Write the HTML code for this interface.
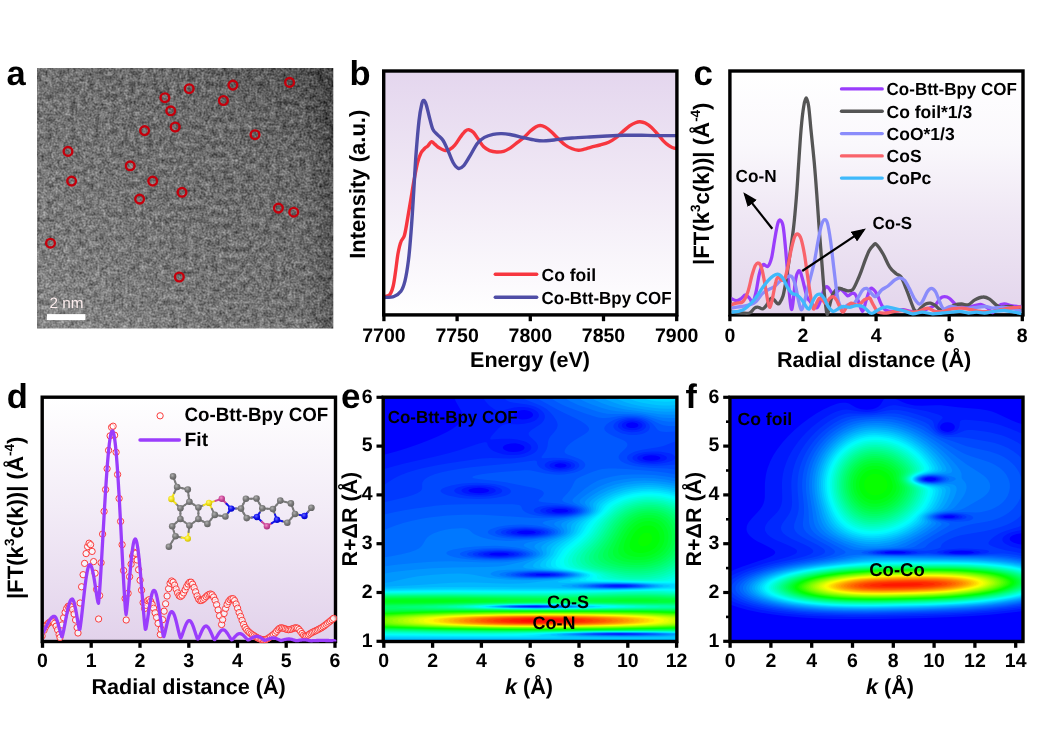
<!DOCTYPE html>
<html lang="en"><head><meta charset="utf-8"><title>Co-Btt-Bpy COF characterization</title>
<style>html,body{margin:0;padding:0;background:#fff}body{width:1038px;height:733px;overflow:hidden}svg{display:block}</style>
</head><body>
<svg width="1038" height="733" viewBox="0 0 1038 733" font-family='"Liberation Sans", sans-serif' text-rendering="geometricPrecision">
<rect width="1038" height="733" fill="#fff"/>
<g id="pa">
<defs><filter id="noise" x="0" y="0" width="100%" height="100%" color-interpolation-filters="sRGB"><feTurbulence type="fractalNoise" baseFrequency="0.5" numOctaves="2" seed="3" result="t1"/><feColorMatrix in="t1" type="matrix" values="0.44 0 0 0 -0.02  0.44 0 0 0 -0.02  0.44 0 0 0 -0.02  0 0 0 0 1" result="g1"/><feTurbulence type="fractalNoise" baseFrequency="0.17" numOctaves="3" seed="11" result="t2"/><feColorMatrix in="t2" type="matrix" values="0.36 0 0 0 0.02  0.36 0 0 0 0.02  0.36 0 0 0 0.02  0 0 0 0 1" result="g2"/><feComposite in="g1" in2="g2" operator="arithmetic" k1="0" k2="1" k3="1" k4="0" result="n0"/><feGaussianBlur in="n0" stdDeviation="0.5" result="n"/><feComposite in="n" in2="SourceGraphic" operator="arithmetic" k1="0" k2="1" k3="1" k4="-0.4"/></filter><linearGradient id="ga" x1="0" y1="1" x2="1" y2="0"><stop offset="0" stop-color="#868686"/><stop offset="0.4" stop-color="#747474"/><stop offset="0.75" stop-color="#686868"/><stop offset="1" stop-color="#4c4c4c"/></linearGradient><linearGradient id="ga2" x1="0" y1="0" x2="1" y2="0"><stop offset="0.9" stop-color="#000" stop-opacity="0"/><stop offset="1" stop-color="#000" stop-opacity="0.22"/></linearGradient><clipPath id="ca"><rect x="37" y="68" width="296.3" height="260.6"/></clipPath></defs>
<g clip-path="url(#ca)"><g filter="url(#noise)"><rect x="35" y="66" width="300.3" height="264.6" fill="url(#ga)"/><rect x="35" y="66" width="300.3" height="264.6" fill="url(#ga2)"/></g></g>
<g fill="none" stroke="#c4000c" stroke-width="2.4"><circle cx="289.6" cy="82.4" r="4.35"/><circle cx="232.9" cy="85.1" r="4.35"/><circle cx="189.2" cy="88.7" r="4.35"/><circle cx="164.9" cy="97.7" r="4.35"/><circle cx="223.4" cy="100.5" r="4.35"/><circle cx="170.7" cy="110.8" r="4.35"/><circle cx="175.2" cy="127" r="4.35"/><circle cx="144.6" cy="130.6" r="4.35"/><circle cx="255" cy="134.7" r="4.35"/><circle cx="68" cy="151.4" r="4.35"/><circle cx="130.2" cy="165.8" r="4.35"/><circle cx="71.6" cy="181.1" r="4.35"/><circle cx="152.7" cy="181.1" r="4.35"/><circle cx="182" cy="192.3" r="4.35"/><circle cx="139.6" cy="199.1" r="4.35"/><circle cx="278.4" cy="208.1" r="4.35"/><circle cx="293.7" cy="212.2" r="4.35"/><circle cx="50.5" cy="243.2" r="4.35"/><circle cx="179.3" cy="277" r="4.35"/></g>
<rect x="47" y="314.1" width="38.4" height="6" fill="#fff"/>
<text x="49.4" y="307.9" font-size="15" font-weight="normal" text-anchor="start" fill="#fdeeee" textLength="34" lengthAdjust="spacingAndGlyphs">2 nm</text>
<text x="6.6" y="85.2" font-size="34.5" font-weight="bold" text-anchor="start" fill="#000">a</text>
</g>
<g id="pb">
<defs><linearGradient id="gb" x1="0" y1="0" x2="0" y2="1"><stop offset="0" stop-color="#e4d6ee"/><stop offset="0.45" stop-color="#f0e8f5"/><stop offset="1" stop-color="#ffffff"/></linearGradient></defs>
<rect x="383.7" y="71" width="293.2" height="243.9" fill="url(#gb)"/>
<g fill="none" stroke-width="3.4" stroke-linecap="round" stroke-linejoin="round">
<path d="M384.2 296.5C385.1 296.2 388.2 296.4 389.7 294.7C391.2 292.9 392.2 290.1 393.2 286C394.2 281.9 394.9 275.9 395.7 270.4C396.5 264.9 397.2 257.8 398.1 253C399 248.2 399.8 244.7 400.9 241.8C401.9 238.9 403.4 238.9 404.4 235.5C405.4 232.1 406.1 227.4 407.1 221.6C408.1 215.8 409.4 207.6 410.6 200.7C411.8 193.8 412.9 186.3 414.1 179.9C415.3 173.5 416.4 167 417.6 162.5C418.8 158 419.9 155 421.1 152.7C422.3 150.4 423.5 149.7 424.6 148.5C425.8 147.3 426.9 147 428 145.8C429.1 144.7 430.3 141.8 431.5 141.6C432.7 141.4 433.7 143.4 435 144.4C436.3 145.4 437.6 146.8 439.2 147.8C440.8 148.8 442.7 150 444.4 150.3C446.1 150.6 447.9 150.5 449.6 149.6C451.3 148.7 453.1 147.1 454.8 145.1C456.6 143.1 458.4 139.7 460.1 137.4C461.9 135.1 463.9 132.4 465.3 131.1C466.8 129.8 467.5 129.5 468.8 129.7C470.1 129.9 471.7 130.6 473.3 132.2C474.9 133.8 476.5 136.7 478.2 139.1C479.9 141.5 481.8 144.9 483.7 146.8C485.6 148.7 487.5 149.7 489.6 150.6C491.8 151.5 494.3 151.9 496.6 152C498.9 152.1 501.3 152 503.6 151.3C505.9 150.6 508.2 149.3 510.5 147.8C512.8 146.3 515.2 144.1 517.5 142.3C519.8 140.5 522.4 138.9 524.5 137C526.6 135.1 528.5 132.8 530.4 131.1C532.3 129.4 534.1 127.8 535.7 126.9C537.3 126 538.7 125.5 540.2 125.5C541.8 125.5 543.1 125.9 545 126.9C546.9 128 549.1 129.8 551.3 131.8C553.5 133.8 556 136.5 558.3 138.7C560.6 140.9 562.9 143.3 565.2 145C567.5 146.7 570 147.9 572.2 148.8C574.4 149.7 576.4 150.1 578.4 150.2C580.4 150.3 582.1 149.7 584.3 149.2C586.4 148.7 588.7 147.8 591.3 147.1C593.9 146.4 597.1 145.8 600 145C602.9 144.2 606.1 143.4 608.7 142.2C611.3 141 613.4 139.7 615.7 138C618 136.3 620.3 133.8 622.6 131.8C624.9 129.8 627.5 127.4 629.6 125.9C631.8 124.4 633.8 123.4 635.5 122.7C637.2 122 638.4 121.6 640 121.7C641.6 121.8 643.3 122.1 645.2 123.1C647.1 124.1 649.5 125.8 651.5 127.6C653.5 129.4 655.4 131.7 657.4 133.9C659.4 136.1 661.4 138.8 663.3 140.8C665.2 142.8 667.3 144.5 668.9 145.7C670.5 146.9 671.9 147.3 673 147.8C674.1 148.3 675.3 148.4 675.8 148.5" stroke="#f7363f"/>
<path d="M384.2 297.5C385.8 297.3 391.1 297.6 393.9 296.5C396.7 295.4 399 293.8 400.9 291.2C402.8 288.6 403.7 286 405 280.8C406.3 275.6 407.4 268.6 408.5 259.9C409.6 251.2 410.4 240.2 411.3 228.6C412.2 217 413 203.1 413.8 190.3C414.6 177.5 415.3 163.6 416.2 152C417.1 140.4 418.1 128.7 419 120.7C419.9 112.7 421 107.4 421.8 104C422.6 100.6 423.1 100.3 423.9 100.5C424.6 100.7 425.4 102.2 426.3 105C427.2 107.8 428.3 113.1 429.4 117.2C430.5 121.3 431.6 126.5 432.9 129.4C434.2 132.3 435.8 132.9 437.4 134.6C439 136.3 440.9 137.2 442.6 139.8C444.4 142.4 446.1 146.5 447.9 150.3C449.6 154.1 451.4 159.5 453.1 162.5C454.8 165.5 456.6 167.8 458.3 168.4C460 169 461.6 167.9 463.5 165.9C465.4 163.9 467.5 160 469.8 156.2C472.1 152.4 475.1 146.4 477.5 143.3C479.9 140.2 481.8 138.9 484.4 137.4C487 135.9 490.2 134.9 493.1 134.3C496 133.7 498.6 133.5 501.8 133.6C505 133.7 508.8 134.3 512.3 135C515.8 135.7 518.8 136.6 522.7 137.5C526.6 138.4 531.8 139.8 535.7 140.3C539.6 140.9 542.3 141 546.1 140.8C549.9 140.7 553.9 139.9 558.3 139.4C562.6 138.9 567 138.4 572.2 138C577.4 137.6 583.8 137.3 589.6 137C595.4 136.7 601.2 136.3 607 136C612.8 135.7 618.5 135.4 624.3 135.3C630.1 135.2 635.9 135.2 641.7 135.3C647.5 135.4 653.4 135.6 659.1 135.6C664.8 135.6 673 135.6 675.8 135.6" stroke="#4f4da6"/>
<path d="M495.3 274.2H536.7" stroke="#f7363f"/>
<path d="M495.3 297.2H536.7" stroke="#4f4da6"/>
</g>
<text x="541.6" y="280.9" font-size="17.5" font-weight="bold" text-anchor="start" fill="#000">Co foil</text>
<text x="541.6" y="303.9" font-size="17.5" font-weight="bold" text-anchor="start" fill="#000" textLength="130" lengthAdjust="spacingAndGlyphs">Co-Btt-Bpy COF</text>
<rect x="383.7" y="71" width="293.2" height="243.9" fill="none" stroke="#000" stroke-width="3.4"/>
<g stroke="#000" stroke-width="3.3"><line x1="383.9" y1="314.9" x2="383.9" y2="321.2"/><line x1="457.1" y1="314.9" x2="457.1" y2="321.2"/><line x1="530.3" y1="314.9" x2="530.3" y2="321.2"/><line x1="603.5" y1="314.9" x2="603.5" y2="321.2"/><line x1="676.7" y1="314.9" x2="676.7" y2="321.2"/></g>
<text x="383.9" y="341.8" font-size="19.5" font-weight="bold" text-anchor="middle" fill="#000">7700</text>
<text x="457.1" y="341.8" font-size="19.5" font-weight="bold" text-anchor="middle" fill="#000">7750</text>
<text x="530.3" y="341.8" font-size="19.5" font-weight="bold" text-anchor="middle" fill="#000">7800</text>
<text x="603.5" y="341.8" font-size="19.5" font-weight="bold" text-anchor="middle" fill="#000">7850</text>
<text x="676.7" y="341.8" font-size="19.5" font-weight="bold" text-anchor="middle" fill="#000">7900</text>
<text x="530" y="367.2" font-size="21.6" font-weight="bold" text-anchor="middle" fill="#000">Energy (eV)</text>
<text x="364.6" y="184.3" font-size="22" font-weight="bold" text-anchor="middle" fill="#000" transform="rotate(-90 364.6 184.3)">Intensity (a.u.)</text>
<text x="349.5" y="84.8" font-size="34.5" font-weight="bold" text-anchor="start" fill="#000">b</text>
</g>
<g id="pc">
<defs><linearGradient id="gc" x1="0" y1="0" x2="0" y2="1"><stop offset="0" stop-color="#ffffff"/><stop offset="0.3" stop-color="#faf8fc"/><stop offset="0.6" stop-color="#efe7f4"/><stop offset="1" stop-color="#e3d5ec"/></linearGradient><clipPath id="cc"><rect x="731.6" y="71" width="289.7" height="244.9"/></clipPath><marker id="ah" viewBox="0 0 10 8" refX="8" refY="4" markerWidth="14.5" markerHeight="11.6" markerUnits="userSpaceOnUse" orient="auto"><path d="M0 0L10 4L0 8z" fill="#000"/></marker></defs>
<rect x="729.9" y="71" width="293.1" height="243.9" fill="url(#gc)"/>
<rect x="729.9" y="71" width="293.1" height="243.9" fill="none" stroke="#000" stroke-width="3.4"/>
<g fill="none" stroke-width="3.3" stroke-linecap="round" stroke-linejoin="round" clip-path="url(#cc)">
<path d="M730.7 298.3C731.7 298.7 734.7 300.7 736.5 300.7C738.2 300.7 739.9 299.2 741.4 298.3C742.9 297.3 744.1 295 745.5 295C746.8 295 748.3 297 749.6 298.3C750.8 299.5 751.7 303.5 752.8 302.4C753.9 301.3 755 296.5 756.1 291.7C757.2 286.9 758.2 278.2 759.4 273.7C760.5 269.2 761.6 265.9 763 264.7C764.4 263.5 766.5 267.6 767.9 266.3C769.4 265.1 770.5 262.1 771.7 257.3C772.8 252.5 773.9 243.5 775 237.7C776 231.8 777.3 225 778.2 222.1C779.2 219.2 779.9 219.8 780.7 220.5C781.5 221.2 782.3 221.4 783.1 226.2C784 231 784.8 240.4 785.6 249.1C786.4 257.9 787.3 269.9 788.1 278.6C788.8 287.3 789.6 296.4 790.2 301.5C790.8 306.7 791.3 309.9 791.8 309.4C792.4 308.9 792.8 303.4 793.5 298.3C794.1 293.1 794.9 283.1 795.8 278.6C796.6 274.1 797.6 272.2 798.4 271.2C799.2 270.3 799.8 270.8 800.7 272.9C801.5 274.9 802.6 279.6 803.6 283.5C804.6 287.5 805.8 293.6 806.9 296.6C808 299.6 808.9 299.9 810.2 301.5C811.4 303.2 813 305.5 814.3 306.5C815.5 307.4 816.4 308.4 817.5 307.3C818.6 306.2 819.7 302.9 820.8 299.9C821.9 296.9 823 291.4 824.1 289.3C825.2 287.1 826.3 286.5 827.4 286.8C828.5 287.1 829.5 289.5 830.6 290.9C831.7 292.3 832.8 294.9 833.9 295C835 295.1 836.1 292.7 837.2 291.7C838.3 290.8 839.4 289.3 840.5 289.3C841.6 289.3 842.5 290.6 843.7 291.7C845 292.8 846.5 295.5 847.8 295.8C849.2 296.1 850.7 293.6 851.9 293.4C853.2 293.1 854.1 292.8 855.2 294.2C856.3 295.5 857.2 298.7 858.5 301.5C859.7 304.4 861.3 311.4 862.6 311.4C863.8 311.4 864.6 305.2 865.8 301.5C867.1 297.9 868.8 291.3 870 289.3C871.2 287.2 872 288.3 873.3 289.3C874.5 290.2 876 292.4 877.4 295C878.7 297.6 880 302.2 881.5 304.8C883 307.4 884.2 309.5 886.4 310.5C888.6 311.6 891.8 311.5 894.6 311.4C897.3 311.2 900 309.7 902.8 309.7C905.5 309.7 908.2 311.1 910.9 311.4C913.7 311.6 916.4 311.8 919.1 311.4C921.9 311 924.6 310 927.3 308.9C930.1 307.8 933.3 306.6 935.5 304.8C937.7 303 938.9 299.6 940.4 298.3C941.9 296.9 943 296.6 944.5 296.6C946 296.6 947.7 297 949.4 298.3C951.2 299.5 953.1 302.6 955.2 304C957.2 305.4 959.5 305.9 961.7 306.5C963.9 307 966.1 307.4 968.3 307.3C970.4 307.1 972.6 306.1 974.8 305.6C977 305.2 979.2 304.1 981.4 304.5C983.5 304.9 986 306.7 987.9 308.1C989.8 309.5 991.2 312.9 992.8 312.7C994.5 312.4 995.8 307.9 997.7 306.5C999.7 305 1002.1 304.1 1004.3 304C1006.5 303.9 1008.7 305.2 1010.8 305.6C1013 306 1015.5 306.3 1017.4 306.5C1019.3 306.6 1021.5 306.5 1022.3 306.5" stroke="#9a3dfc"/>
<path d="M730.7 312.2C732.5 312.3 738.2 312.9 741.4 313C744.5 313.1 747.4 313.8 749.6 313C751.7 312.2 753 309 754.5 308.1C756 307.1 757.2 307.1 758.6 307.3C759.9 307.4 761.3 309.3 762.7 308.9C764 308.5 765.4 306.6 766.8 304.8C768.1 303 769.6 299.1 770.9 298.3C772.1 297.4 773 299 774.1 299.9C775.2 300.8 776.5 303 777.4 303.5C778.3 304 778.7 304.3 779.6 303C780.5 301.7 782 299.3 783 296C784 292.7 784.5 289.5 785.6 283C786.7 276.5 788.3 266.1 789.6 256.8C790.9 247.5 792.4 237.7 793.6 227.3C794.8 216.9 795.7 205.5 796.6 194.6C797.5 183.7 798 172.8 798.8 161.9C799.5 151 800.3 138.4 801.1 129.1C801.9 119.8 802.9 111.2 803.8 106C804.6 100.8 805.4 97.8 806.2 97.8C807 97.8 807.8 100.8 808.6 106C809.4 111.2 810 119.8 810.9 129.1C811.8 138.4 813.2 151 814.2 161.9C815.2 172.8 816 183.7 816.8 194.6C817.6 205.5 818.3 216.9 819.1 227.3C819.9 237.7 820.6 247 821.4 256.8C822.2 266.6 823 278.1 823.7 286.3C824.4 294.5 825.1 301.2 825.7 305.9C826.3 310.6 826.8 314.7 827.5 314.5C828.2 314.3 828.9 308.3 829.8 304.8C830.7 301.3 831.7 296.1 833.1 293.4C834.5 290.6 836.4 289.1 838 288.4C839.6 287.8 841.3 288.8 842.9 289.3C844.6 289.7 846.2 290.8 847.8 290.9C849.5 291 851.2 291.2 852.7 289.7C854.2 288.2 855.5 284.8 856.8 281.9C858.2 278.9 859.6 275.6 860.9 272.1C862.3 268.5 863.7 264.1 865 260.6C866.4 257 867.8 253.3 869.1 250.8C870.5 248.3 872 246.6 873.2 245.5C874.4 244.4 874.6 242.8 876.2 244.2C877.9 245.6 880.9 250.2 883.1 254C885.3 257.9 887.5 263.9 889.7 267.1C891.8 270.4 894.3 272.1 896.2 273.7C898.1 275.3 899.5 274.5 901.1 277C902.8 279.4 904.4 284.3 906 288.4C907.7 292.5 909.6 298 910.9 301.5C912.3 305.1 913.1 308.1 914.2 309.7C915.3 311.4 916.3 311.8 917.5 311.4C918.7 311 920.2 308.5 921.6 307.3C923 306 924.2 304.7 925.7 304C927.2 303.3 929 302.9 930.6 303.2C932.2 303.5 933.9 304.5 935.5 305.6C937.1 306.7 938.5 309.2 940.4 309.7C942.3 310.3 944.5 309.7 947 308.9C949.4 308.1 952.7 305.6 955.2 304.8C957.6 304 959.5 304 961.7 304C963.9 304 966.1 305.5 968.3 304.8C970.4 304.1 972.4 301.2 974.8 299.9C977.3 298.6 980.5 297.1 983 297C985.5 296.8 987.4 297.8 989.6 299.1C991.7 300.4 994.2 303.5 996.1 304.8C998 306.2 998.8 307 1001 307.3C1003.2 307.5 1006.5 306.2 1009.2 306.5C1011.9 306.7 1015.2 308.1 1017.4 308.9C1019.6 309.7 1021.5 311 1022.3 311.4" stroke="#555555"/>
<path d="M730.7 308.1C732.5 307.8 738.2 307 741.4 306.5C744.5 305.9 747.1 305.6 749.6 304.8C752 304 753.9 303.5 756.1 301.5C758.3 299.6 760.5 295.4 762.7 293.4C764.9 291.3 767.3 290.3 769.2 289.3C771.1 288.2 772.5 288 774.1 286.8C775.8 285.6 777.4 283.3 779 281.9C780.7 280.5 782.3 279.6 784 278.6C785.6 277.7 787.5 276.4 788.9 276.2C790.2 275.9 791.1 275.5 792.1 277C793.2 278.5 794.3 281.1 795.4 285.2C796.5 289.3 797.7 297.4 798.7 301.5C799.7 305.6 800.3 309.2 801.2 309.7C802 310.3 802.7 307.8 803.6 304.8C804.6 301.8 805.8 296.1 806.9 291.7C808 287.3 808.9 283.5 810.2 278.6C811.4 273.7 812.9 268.8 814.3 262.2C815.6 255.7 817.1 245.6 818.4 239.3C819.6 233 820.6 227.8 821.6 224.6C822.7 221.3 823.6 219.9 824.6 219.7C825.5 219.4 826.3 219.4 827.4 222.9C828.4 226.5 829.5 233.3 830.6 240.9C831.7 248.6 832.8 259.8 833.9 268.8C835 277.8 836.2 289 837.2 295C838.1 301 838.7 302.6 839.6 304.8C840.6 307 841.6 308.1 842.9 308.1C844.3 308.1 846.2 305.4 847.8 304.8C849.5 304.3 851.1 305.9 852.7 304.8C854.4 303.7 856 300.7 857.7 298.3C859.3 295.8 861.1 291.7 862.6 290.1C864.1 288.4 865.4 288.2 866.7 288.4C867.9 288.7 868.5 290.3 870 291.7C871.5 293.1 873.8 296.9 875.7 296.6C877.6 296.4 879.4 291.8 881.5 290.1C883.5 288.3 885.8 287.6 888 286C890.2 284.3 892.7 281.6 894.6 280.2C896.5 278.9 897.8 277.8 899.5 277.8C901.1 277.8 902.8 278.5 904.4 280.2C906 282 907.7 285.4 909.3 288.4C910.9 291.4 912.6 295.7 914.2 298.3C915.9 300.9 917.8 303.5 919.1 304C920.5 304.5 921 303.6 922.4 301.5C923.8 299.5 925.8 293.9 927.3 291.7C928.8 289.5 930.1 288.4 931.4 288.4C932.8 288.4 934.1 289.5 935.5 291.7C936.9 293.9 938.2 298.7 939.6 301.5C941 304.4 941.9 308.1 943.7 308.9C945.5 309.7 948.1 306.7 950.2 306.5C952.4 306.2 953.8 307 956.8 307.3C959.8 307.5 963.6 308.2 968.3 308.1C972.9 308 980.5 306.5 984.6 306.5C988.7 306.5 989.6 308 992.8 308.1C996.1 308.2 1000.7 307.1 1004.3 307.3C1007.8 307.4 1011.1 308.2 1014.1 308.9C1017.1 309.6 1020.9 311 1022.3 311.4" stroke="#8a8cfb"/>
<path d="M730.7 304.8C731.7 304.5 734.4 303.7 736.5 303.2C738.5 302.6 741.1 303.5 743 301.5C744.9 299.6 746.4 296.1 747.9 291.7C749.4 287.3 750.8 279.7 752 275.3C753.3 271 754.2 267.6 755.3 265.5C756.4 263.5 757.5 262.5 758.6 263.1C759.7 263.6 760.8 265.1 761.8 268.8C762.9 272.5 764.1 279.7 765.1 285.2C766.1 290.6 767.1 297.9 767.9 301.5C768.7 305.2 769.3 307.8 770 307.3C770.8 306.7 771.5 302.5 772.5 298.3C773.4 294 774.8 285.4 775.8 281.9C776.7 278.3 777.3 277.2 778.2 277C779.2 276.7 780.4 280 781.5 280.2C782.6 280.5 783.7 281.1 784.8 278.6C785.9 276.2 787 270.4 788.1 265.5C789.1 260.6 790.2 253.9 791.3 249.1C792.4 244.4 793.5 239.4 794.6 236.8C795.7 234.3 796.8 233.7 797.9 234.1C799 234.5 800.1 236 801.2 239.3C802.2 242.6 803.3 247.8 804.4 254C805.5 260.3 806.6 269.6 807.7 277C808.8 284.3 810 292.9 811 298.3C811.9 303.6 812.6 307.8 813.4 308.9C814.3 310 814.9 306.6 815.9 304.8C816.8 303 818.1 299.1 819.2 298.3C820.3 297.4 821.4 299.1 822.4 299.9C823.5 300.7 824.5 303.5 825.7 303.2C826.9 302.9 828.6 299.4 829.8 298.3C831 297.2 832 296.4 833.1 296.6C834.2 296.9 835.3 298.3 836.4 299.9C837.5 301.5 838.5 304.4 839.6 306.5C840.7 308.5 841.7 312.2 842.9 312.2C844.1 312.2 845.6 308 847 306.5C848.4 305 849.7 303.5 851.1 303.2C852.5 302.9 853.8 304.5 855.2 304.8C856.6 305.1 857.8 305.6 859.3 304.8C860.8 304 862.7 301 864.2 299.9C865.7 298.8 867.3 298.5 868.3 298.3C869.3 298 869.2 297.2 870 298.3C870.8 299.4 871.9 302.5 873.3 304.8C874.6 307.1 876 310.8 878.2 312.2C880.4 313.5 883.6 313.1 886.4 313C889.1 312.9 891.8 311.8 894.6 311.4C897.3 311 900 310.4 902.8 310.5C905.5 310.7 908.2 312 910.9 312.2C913.7 312.3 916.4 312 919.1 311.4C921.9 310.7 924.6 308.1 927.3 308.1C930.1 308.1 932.8 310.8 935.5 311.4C938.2 311.9 941 311.8 943.7 311.4C946.4 311 948.9 309.5 951.9 308.9C954.9 308.4 958.4 308 961.7 308.1C965 308.2 968.3 309.2 971.5 309.7C974.8 310.3 977.8 311.1 981.4 311.4C984.9 311.6 989.6 311.6 992.8 311.4C996.1 311.1 998.3 310.3 1001 309.7C1003.7 309.2 1006.5 308.5 1009.2 308.1C1011.9 307.7 1015.2 307.4 1017.4 307.3C1019.6 307.1 1021.5 307.3 1022.3 307.3" stroke="#f9636b"/>
<path d="M730.7 312.2C732 312 735.8 311.9 738.1 311.4C740.4 310.8 742.5 310.3 744.7 308.9C746.8 307.5 749 305.5 751.2 303.2C753.4 300.9 755.6 298 757.8 295C759.9 292 762.1 288 764.3 285.2C766.5 282.3 768.9 279.6 770.9 277.8C772.8 276 774.4 275.1 775.8 274.5C777.1 274 777.8 273.8 779 274.5C780.3 275.2 781.8 276.6 783.1 278.6C784.5 280.7 785.7 284.3 787.2 286.8C788.7 289.3 790.5 292 792.1 293.4C793.8 294.7 795.4 293.9 797.1 295C798.7 296.1 800.5 298 802 299.9C803.5 301.8 804.8 305 806.1 306.5C807.3 308 808.3 309.7 809.3 308.9C810.4 308.1 811.5 303.7 812.6 301.5C813.7 299.4 814.7 297 815.9 295.8C817.1 294.6 818.6 293.8 820 294.2C821.4 294.6 822.7 296.2 824.1 298.3C825.4 300.3 826.7 304.3 828.2 306.5C829.7 308.6 831.5 311 833.1 311.4C834.7 311.8 836.4 309.7 838 308.9C839.6 308.1 841 306.7 842.9 306.5C844.8 306.2 847.3 307.4 849.5 307.3C851.7 307.1 853.8 305.8 856 305.6C858.2 305.5 860.7 305.6 862.6 306.5C864.5 307.3 866.2 309.5 867.5 310.5C868.7 311.6 869 312.6 870 313C871 313.4 871.6 313.7 873.3 313C874.9 312.3 877.6 309.9 879.8 308.9C882 307.9 884.2 306.9 886.4 306.8C888.6 306.6 890.2 307.5 892.9 308.1C895.7 308.7 899.5 309.6 902.8 310.5C906 311.5 909.3 313.5 912.6 313.8C915.9 314.1 919.1 312.2 922.4 312.2C925.7 312.2 929 313.7 932.2 313.8C935.5 314 938.8 313.3 942.1 313C945.3 312.7 948.9 312.5 951.9 312.2C954.9 311.9 957.3 311.2 960.1 311.4C962.8 311.5 965.5 312.9 968.3 313C971 313.1 973.7 312.2 976.5 312.2C979.2 312.2 981.6 313.1 984.6 313C987.6 312.9 991.2 311.8 994.5 311.4C997.7 311 1001 310.4 1004.3 310.5C1007.6 310.7 1011.1 311.6 1014.1 312.2C1017.1 312.7 1020.9 313.5 1022.3 313.8" stroke="#3fb9fb"/>
</g>
<g stroke-width="3.4" stroke-linecap="round">
<path d="M841.5 88.9H882.2" stroke="#9a3dfc"/>
<path d="M841.5 111.3H882.2" stroke="#555555"/>
<path d="M841.5 133.6H882.2" stroke="#8a8cfb"/>
<path d="M841.5 155.9H882.2" stroke="#f9636b"/>
<path d="M841.5 178.1H882.2" stroke="#3fb9fb"/>
</g>
<text x="886.6" y="95.2" font-size="17.5" font-weight="bold" text-anchor="start" fill="#000" textLength="130.2" lengthAdjust="spacingAndGlyphs">Co-Btt-Bpy COF</text>
<text x="886.6" y="117.6" font-size="17.5" font-weight="bold" text-anchor="start" fill="#000">Co foil*1/3</text>
<text x="886.6" y="139.9" font-size="17.5" font-weight="bold" text-anchor="start" fill="#000">CoO*1/3</text>
<text x="886.6" y="162.2" font-size="17.5" font-weight="bold" text-anchor="start" fill="#000">CoS</text>
<text x="886.6" y="184.4" font-size="17.5" font-weight="bold" text-anchor="start" fill="#000">CoPc</text>
<g stroke="#000" stroke-width="2.2" fill="none">
<path d="M772.3 228.8L745.1 194.4" marker-end="url(#ah)"/>
<path d="M802.2 271L863.5 230.2" marker-end="url(#ah)"/>
</g>
<text x="735.6" y="181.7" font-size="17.5" font-weight="bold" text-anchor="start" fill="#000" textLength="41" lengthAdjust="spacingAndGlyphs">Co-N</text>
<text x="872.6" y="229.4" font-size="17.5" font-weight="bold" text-anchor="start" fill="#000" textLength="39.5" lengthAdjust="spacingAndGlyphs">Co-S</text>
<g stroke="#000" stroke-width="3.3"><line x1="729.9" y1="314.9" x2="729.9" y2="321.2"/><line x1="803" y1="314.9" x2="803" y2="321.2"/><line x1="876.1" y1="314.9" x2="876.1" y2="321.2"/><line x1="949.2" y1="314.9" x2="949.2" y2="321.2"/><line x1="1022.3" y1="314.9" x2="1022.3" y2="321.2"/></g>
<text x="729.9" y="341.8" font-size="19.5" font-weight="bold" text-anchor="middle" fill="#000">0</text>
<text x="803" y="341.8" font-size="19.5" font-weight="bold" text-anchor="middle" fill="#000">2</text>
<text x="876.1" y="341.8" font-size="19.5" font-weight="bold" text-anchor="middle" fill="#000">4</text>
<text x="949.2" y="341.8" font-size="19.5" font-weight="bold" text-anchor="middle" fill="#000">6</text>
<text x="1022.3" y="341.8" font-size="19.5" font-weight="bold" text-anchor="middle" fill="#000">8</text>
<text x="874.1" y="367.2" font-size="21.6" font-weight="bold" text-anchor="middle" fill="#000">Radial distance (Å)</text>
<text transform="rotate(-90 708.6 265)" x="708.6" y="265" font-size="22.3" font-weight="bold" textLength="162.5" lengthAdjust="spacingAndGlyphs">|FT(k<tspan font-size="13.5" dy="-8.5">3</tspan><tspan dy="8.5">c(k))| (Å</tspan><tspan font-size="13.5" dy="-8.5">-4</tspan><tspan dy="8.5">)</tspan></text>
<text x="693.6" y="85.2" font-size="35" font-weight="bold" text-anchor="start" fill="#000">c</text>
</g>
<g id="pd">
<defs><linearGradient id="gd" x1="0" y1="0" x2="0" y2="1"><stop offset="0" stop-color="#ffffff"/><stop offset="0.45" stop-color="#f3ecf7"/><stop offset="1" stop-color="#e2d2eb"/></linearGradient><clipPath id="cd"><rect x="43.9" y="397.2" width="293.3" height="246"/></clipPath></defs>
<rect x="42.2" y="397.2" width="293.3" height="244.3" fill="url(#gd)"/>
<rect x="42.2" y="397.2" width="293.3" height="244.3" fill="none" stroke="#000" stroke-width="3.4"/>
<g clip-path="url(#cd)">
<g fill="#fff" fill-opacity="0.65" stroke="#fb3b3b" stroke-width="1">
<circle cx="42.1" cy="636" r="3.15"/><circle cx="44.1" cy="630.2" r="3.15"/><circle cx="45.6" cy="626.9" r="3.15"/><circle cx="47.1" cy="624.5" r="3.15"/><circle cx="48.6" cy="622.9" r="3.15"/><circle cx="50.1" cy="621.9" r="3.15"/><circle cx="51.6" cy="621.5" r="3.15"/><circle cx="53.1" cy="621.9" r="3.15"/><circle cx="54.6" cy="623.4" r="3.15"/><circle cx="56.1" cy="626.2" r="3.15"/><circle cx="57.6" cy="629.9" r="3.15"/><circle cx="59.1" cy="634.4" r="3.15"/><circle cx="60" cy="637.5" r="3.15"/><circle cx="62.1" cy="624.9" r="3.15"/><circle cx="63.6" cy="617.8" r="3.15"/><circle cx="65.1" cy="612.4" r="3.15"/><circle cx="66.6" cy="608.6" r="3.15"/><circle cx="68.1" cy="606.4" r="3.15"/><circle cx="69.6" cy="605.8" r="3.15"/><circle cx="71.1" cy="606.9" r="3.15"/><circle cx="72.6" cy="609.6" r="3.15"/><circle cx="74.1" cy="614" r="3.15"/><circle cx="75.6" cy="620" r="3.15"/><circle cx="77.1" cy="627.6" r="3.15"/><circle cx="78" cy="633" r="3.15"/><circle cx="80.1" cy="603" r="3.15"/><circle cx="81.6" cy="586.8" r="3.15"/><circle cx="83.1" cy="574.7" r="3.15"/><circle cx="84.6" cy="563.4" r="3.15"/><circle cx="86.1" cy="553.6" r="3.15"/><circle cx="87.6" cy="546.6" r="3.15"/><circle cx="89.1" cy="543.2" r="3.15"/><circle cx="90.6" cy="544.7" r="3.15"/><circle cx="92.1" cy="551.4" r="3.15"/><circle cx="93.6" cy="561.6" r="3.15"/><circle cx="95.1" cy="573.2" r="3.15"/><circle cx="96.6" cy="589.4" r="3.15"/><circle cx="98.6" cy="619" r="3.15"/><circle cx="99.6" cy="595.6" r="3.15"/><circle cx="101.1" cy="562.7" r="3.15"/><circle cx="102.6" cy="534.1" r="3.15"/><circle cx="104.1" cy="511.4" r="3.15"/><circle cx="105.6" cy="489.6" r="3.15"/><circle cx="107.1" cy="468.7" r="3.15"/><circle cx="108.6" cy="450.3" r="3.15"/><circle cx="110.1" cy="435.9" r="3.15"/><circle cx="111.6" cy="427.3" r="3.15"/><circle cx="113.1" cy="426.2" r="3.15"/><circle cx="114.6" cy="435.2" r="3.15"/><circle cx="116.1" cy="452.3" r="3.15"/><circle cx="117.6" cy="474.5" r="3.15"/><circle cx="119.1" cy="498.5" r="3.15"/><circle cx="120.6" cy="521.4" r="3.15"/><circle cx="122.1" cy="544.7" r="3.15"/><circle cx="123.6" cy="570.5" r="3.15"/><circle cx="125.1" cy="598.5" r="3.15"/><circle cx="126.2" cy="620" r="3.15"/><circle cx="128.1" cy="593.3" r="3.15"/><circle cx="129.6" cy="576.7" r="3.15"/><circle cx="131.1" cy="564.2" r="3.15"/><circle cx="132.6" cy="556" r="3.15"/><circle cx="134.1" cy="552.3" r="3.15"/><circle cx="135.6" cy="553.5" r="3.15"/><circle cx="137.1" cy="560" r="3.15"/><circle cx="138.6" cy="569.7" r="3.15"/><circle cx="140.1" cy="580.3" r="3.15"/><circle cx="141.6" cy="590.2" r="3.15"/><circle cx="143.1" cy="602.6" r="3.15"/><circle cx="144.6" cy="608.5" r="3.15"/><circle cx="146.1" cy="605.3" r="3.15"/><circle cx="147.6" cy="600.7" r="3.15"/><circle cx="149.1" cy="599.7" r="3.15"/><circle cx="150.6" cy="601.3" r="3.15"/><circle cx="152.1" cy="604.3" r="3.15"/><circle cx="153.6" cy="608.2" r="3.15"/><circle cx="155.1" cy="612.8" r="3.15"/><circle cx="156.6" cy="617.4" r="3.15"/><circle cx="158.1" cy="623.4" r="3.15"/><circle cx="160.3" cy="634.5" r="3.15"/><circle cx="161.1" cy="629.2" r="3.15"/><circle cx="162.6" cy="619.7" r="3.15"/><circle cx="164.1" cy="611.2" r="3.15"/><circle cx="165.6" cy="603.8" r="3.15"/><circle cx="167.1" cy="596" r="3.15"/><circle cx="168.6" cy="588.7" r="3.15"/><circle cx="170.1" cy="583.3" r="3.15"/><circle cx="171.6" cy="581" r="3.15"/><circle cx="173.1" cy="582.1" r="3.15"/><circle cx="174.6" cy="585.1" r="3.15"/><circle cx="176.1" cy="589" r="3.15"/><circle cx="177.6" cy="592.9" r="3.15"/><circle cx="179.1" cy="595.7" r="3.15"/><circle cx="180.6" cy="596.5" r="3.15"/><circle cx="182.1" cy="595.3" r="3.15"/><circle cx="183.6" cy="592.9" r="3.15"/><circle cx="185.1" cy="589.9" r="3.15"/><circle cx="186.6" cy="586.7" r="3.15"/><circle cx="188.1" cy="584" r="3.15"/><circle cx="189.6" cy="582.3" r="3.15"/><circle cx="191.1" cy="582.2" r="3.15"/><circle cx="192.6" cy="584.2" r="3.15"/><circle cx="194.1" cy="587.6" r="3.15"/><circle cx="195.6" cy="591.8" r="3.15"/><circle cx="197.1" cy="595.9" r="3.15"/><circle cx="198.6" cy="599.1" r="3.15"/><circle cx="200.1" cy="600.6" r="3.15"/><circle cx="201.6" cy="600.4" r="3.15"/><circle cx="203.1" cy="599.5" r="3.15"/><circle cx="204.6" cy="598.2" r="3.15"/><circle cx="206.1" cy="596.7" r="3.15"/><circle cx="207.6" cy="595.3" r="3.15"/><circle cx="209.1" cy="594.4" r="3.15"/><circle cx="210.6" cy="594" r="3.15"/><circle cx="212.1" cy="594.8" r="3.15"/><circle cx="213.6" cy="597" r="3.15"/><circle cx="215.1" cy="600.3" r="3.15"/><circle cx="216.6" cy="604.7" r="3.15"/><circle cx="218.1" cy="609.9" r="3.15"/><circle cx="219.6" cy="615.8" r="3.15"/><circle cx="221.6" cy="624.5" r="3.15"/><circle cx="222.6" cy="619.7" r="3.15"/><circle cx="224.1" cy="613.5" r="3.15"/><circle cx="225.6" cy="608.5" r="3.15"/><circle cx="227.1" cy="604.5" r="3.15"/><circle cx="228.6" cy="601.6" r="3.15"/><circle cx="230.1" cy="599.7" r="3.15"/><circle cx="231.6" cy="598.7" r="3.15"/><circle cx="233.1" cy="598.7" r="3.15"/><circle cx="234.6" cy="600.6" r="3.15"/><circle cx="236.1" cy="604" r="3.15"/><circle cx="237.6" cy="608.2" r="3.15"/><circle cx="239.1" cy="612.6" r="3.15"/><circle cx="240.6" cy="616.4" r="3.15"/><circle cx="242.1" cy="620.3" r="3.15"/><circle cx="243.6" cy="624.3" r="3.15"/><circle cx="245.1" cy="627.5" r="3.15"/><circle cx="246.6" cy="629.6" r="3.15"/><circle cx="248.1" cy="631.3" r="3.15"/><circle cx="249.6" cy="632.7" r="3.15"/><circle cx="251.1" cy="633.9" r="3.15"/><circle cx="252.6" cy="634.9" r="3.15"/><circle cx="254.1" cy="635.8" r="3.15"/><circle cx="255.6" cy="636.8" r="3.15"/><circle cx="257.1" cy="637.6" r="3.15"/><circle cx="258.6" cy="638.4" r="3.15"/><circle cx="260.1" cy="639" r="3.15"/><circle cx="261.6" cy="639.5" r="3.15"/><circle cx="263.1" cy="639.8" r="3.15"/><circle cx="264.6" cy="639.8" r="3.15"/><circle cx="266.1" cy="639.4" r="3.15"/><circle cx="267.6" cy="638.7" r="3.15"/><circle cx="269.1" cy="637.7" r="3.15"/><circle cx="270.6" cy="636.7" r="3.15"/><circle cx="272.1" cy="635.5" r="3.15"/><circle cx="273.6" cy="634.4" r="3.15"/><circle cx="275.1" cy="633" r="3.15"/><circle cx="276.6" cy="631.3" r="3.15"/><circle cx="278.1" cy="629.6" r="3.15"/><circle cx="279.6" cy="628.3" r="3.15"/><circle cx="281.1" cy="627.8" r="3.15"/><circle cx="282.6" cy="628" r="3.15"/><circle cx="284.1" cy="628.5" r="3.15"/><circle cx="285.6" cy="629" r="3.15"/><circle cx="287.1" cy="629.5" r="3.15"/><circle cx="288.6" cy="629.7" r="3.15"/><circle cx="290.1" cy="629.5" r="3.15"/><circle cx="291.6" cy="629.1" r="3.15"/><circle cx="293.1" cy="628.5" r="3.15"/><circle cx="294.6" cy="628" r="3.15"/><circle cx="296.1" cy="627.8" r="3.15"/><circle cx="297.6" cy="628.2" r="3.15"/><circle cx="299.1" cy="629.6" r="3.15"/><circle cx="300.6" cy="631.5" r="3.15"/><circle cx="302.1" cy="633.5" r="3.15"/><circle cx="303.6" cy="635.1" r="3.15"/><circle cx="305.1" cy="636" r="3.15"/><circle cx="306.6" cy="635.8" r="3.15"/><circle cx="308.1" cy="635.1" r="3.15"/><circle cx="309.6" cy="634" r="3.15"/><circle cx="311.1" cy="633" r="3.15"/><circle cx="312.6" cy="632.2" r="3.15"/><circle cx="314.1" cy="631.5" r="3.15"/><circle cx="315.6" cy="630.8" r="3.15"/><circle cx="317.1" cy="630.1" r="3.15"/><circle cx="318.6" cy="629.3" r="3.15"/><circle cx="320.1" cy="628.5" r="3.15"/><circle cx="321.6" cy="627.7" r="3.15"/><circle cx="323.1" cy="626.7" r="3.15"/><circle cx="324.6" cy="625.6" r="3.15"/><circle cx="326.1" cy="624.4" r="3.15"/><circle cx="327.6" cy="623.2" r="3.15"/><circle cx="329.1" cy="622" r="3.15"/><circle cx="330.6" cy="620.8" r="3.15"/><circle cx="332.1" cy="619.6" r="3.15"/><circle cx="333.6" cy="618.3" r="3.15"/>
</g>
<path d="M42.1 634L42.7 633.4L43.3 632.4L43.9 631.4L44.5 630.2L45.1 629L45.7 627.7L46.3 626.5L46.9 625.2L47.5 624L48.1 622.8L48.7 621.7L49.3 620.7L49.9 619.7L50.5 618.9L51.1 618.1L51.7 617.5L52.3 617L52.9 616.6L53.5 616.4L54.1 616.3L54.7 616.4L55.3 617L55.9 617.8L56.5 619.1L57.1 620.6L57.7 622.5L58.3 624.5L58.9 626.7L59.5 629L60.1 631.2L60.7 633.4L61.3 635.4L61.9 636.9L62.5 635.6L63.1 633.2L63.7 630.4L64.3 627.3L64.9 624.1L65.5 620.8L66.1 617.6L66.7 614.5L67.3 611.6L67.9 608.8L68.5 606.4L69.1 604.2L69.7 602.4L70.3 600.9L70.9 599.9L71.5 599.2L72.1 599L72.7 599.3L73.3 600.3L73.9 601.8L74.5 604L75.1 606.6L75.7 609.6L76.3 612.9L76.9 616.4L77.5 620.1L78.1 623.6L78.7 626.8L79.3 629.5L79.9 629.2L80.5 625.4L81.1 620.8L81.7 615.8L82.3 610.4L82.9 604.9L83.5 599.4L84.1 594L84.7 588.9L85.3 584L85.9 579.6L86.5 575.6L87.1 572.2L87.7 569.3L88.3 567.1L88.9 565.6L89.5 564.8L90.1 564.6L90.7 565.2L91.3 566.3L91.9 568L92.5 570.3L93.1 573L93.7 576.2L94.3 579.7L94.9 583.5L95.5 587.4L96.1 591.4L96.7 595.3L97.3 598.9L97.9 602L98.5 603.3L99.1 597.5L99.7 589.7L100.3 580.8L100.9 571.2L101.5 561.1L102.1 550.7L102.7 540.1L103.3 529.4L103.9 518.8L104.5 508.5L105.1 498.4L105.7 488.8L106.3 479.6L106.9 471.1L107.5 463.2L108.1 456L108.7 449.7L109.3 444.1L109.9 439.5L110.5 435.9L111.1 433.2L111.7 431.5L112.3 430.8L112.9 431.2L113.5 432.7L114.1 435.4L114.7 439.2L115.3 444L115.9 449.9L116.5 456.7L117.1 464.5L117.7 473L118.3 482.4L118.9 492.4L119.5 503L120.1 514L120.7 525.4L121.3 537L121.9 548.6L122.5 560.2L123.1 571.6L123.7 582.6L124.3 593L124.9 602.4L125.5 610.5L126.1 614.6L126.7 610.2L127.3 604.4L127.9 597.8L128.5 590.8L129.1 583.7L129.7 576.7L130.3 569.8L130.9 563.4L131.5 557.5L132.1 552.2L132.7 547.7L133.3 544.1L133.9 541.4L134.5 539.7L135.1 539L135.7 539.3L136.3 540.7L136.9 543L137.5 546.2L138.1 550.3L138.7 555.2L139.3 560.8L139.9 567.1L140.5 573.9L141.1 581.1L141.7 588.6L142.3 596.3L142.9 603.9L143.5 611.3L144.1 618.2L144.7 624.5L145.3 629.4L145.9 629L146.5 626L147.1 622.3L147.7 618.4L148.3 614.3L148.9 610.3L149.5 606.3L150.1 602.7L150.7 599.4L151.3 596.5L151.9 594L152.5 592.2L153.1 590.9L153.7 590.3L154.3 590.3L154.9 590.9L155.5 592L156.1 593.7L156.7 596L157.3 598.7L157.9 601.9L158.5 605.4L159.1 609.2L159.7 613.2L160.3 617.4L160.9 621.6L161.5 625.8L162.1 629.7L162.7 633.3L163.3 636.3L163.9 636.6L164.5 634.6L165.1 632.2L165.7 629.5L166.3 626.8L166.9 624.1L167.5 621.5L168.1 619.1L168.7 616.9L169.3 615.1L169.9 613.6L170.5 612.5L171.1 611.8L171.7 611.6L172.3 611.8L172.9 612.4L173.5 613.3L174.1 614.6L174.7 616.2L175.3 618.1L175.9 620.3L176.5 622.6L177.1 625.1L177.7 627.7L178.3 630.3L178.9 632.7L179.5 635.1L180.1 637.1L180.7 638.1L181.3 637L181.9 635.6L182.5 633.9L183.1 632.2L183.7 630.5L184.3 628.8L184.9 627.1L185.5 625.6L186.1 624.2L186.7 623L187.3 622.1L187.9 621.3L188.5 620.8L189.1 620.6L189.7 620.7L190.3 621L190.9 621.6L191.5 622.6L192.1 623.7L192.7 625.1L193.3 626.7L193.9 628.4L194.5 630.2L195.1 632.1L195.7 634L196.3 635.8L196.9 637.5L197.5 638.9L198.1 639L198.7 638L199.3 636.7L199.9 635.4L200.5 634L201.1 632.6L201.7 631.3L202.3 630L202.9 628.9L203.5 627.9L204.1 627.1L204.7 626.5L205.3 626.2L205.9 626L206.5 626.1L207.1 626.4L207.7 626.9L208.3 627.6L208.9 628.5L209.5 629.5L210.1 630.7L210.7 632L211.3 633.3L211.9 634.7L212.5 636.1L213.1 637.5L213.7 638.7L214.3 639.6L214.9 639.5L215.5 638.7L216.1 637.8L216.7 636.8L217.3 635.9L217.9 634.9L218.5 633.9L219.1 633L219.7 632.2L220.3 631.4L220.9 630.8L221.5 630.3L222.1 630L222.7 629.8L223.3 629.8L223.9 629.9L224.5 630.2L225.1 630.6L225.7 631.2L226.3 631.9L226.9 632.7L227.5 633.5L228.1 634.5L228.7 635.5L229.3 636.5L229.9 637.5L230.5 638.4L231.1 639.2L231.7 639.8L232.3 639.6L232.9 639L233.5 638.4L234.1 637.7L234.7 637L235.3 636.4L235.9 635.7L236.5 635.2L237.1 634.6L237.7 634.2L238.3 633.9L238.9 633.7L239.5 633.6L240.1 633.6L240.7 633.7L241.3 634L241.9 634.3L242.5 634.7L243.1 635.1L243.7 635.7L244.3 636.3L244.9 636.9L245.5 637.5L246.1 638.2L246.7 638.8L247.3 639.4L247.9 639.9L248.5 639.9L249.1 639.7L249.7 639.3L250.3 639L250.9 638.6L251.5 638.3L252.1 637.9L252.7 637.6L253.3 637.3L253.9 637L254.5 636.8L255.1 636.6L255.7 636.5L256.3 636.4L256.9 636.4L257.5 636.4L258.1 636.6L258.7 636.7L259.3 637L259.9 637.3L260.5 637.6L261.1 638L261.7 638.4L262.3 638.8L262.9 639.2L263.5 639.6L264.1 640L264.7 640.3L265.3 640.2L265.9 640L266.5 639.8L267.1 639.6L267.7 639.3L268.3 639.1L268.9 638.9L269.5 638.7L270.1 638.5L270.7 638.3L271.3 638.2L271.9 638.1L272.5 638L273.1 638L273.7 638L274.3 638.1L274.9 638.2L275.5 638.3L276.1 638.5L276.7 638.7L277.3 639L277.9 639.3L278.5 639.5L279.1 639.8L279.7 640.1L280.3 640.3L280.9 640.5L281.5 640.4L282.1 640.3L282.7 640.1L283.3 640L283.9 639.8L284.5 639.6L285.1 639.5L285.7 639.4L286.3 639.2L286.9 639.1L287.5 639.1L288.1 639L288.7 639L289.3 639L289.9 639.1L290.5 639.1L291.1 639.2L291.7 639.4L292.3 639.5L292.9 639.7L293.5 639.9L294.1 640.1L294.7 640.3L295.3 640.4L295.9 640.6L296.5 640.7L297.1 640.6L297.7 640.6L298.3 640.5L298.9 640.4L299.5 640.2L300.1 640.2L300.7 640.1L301.3 640L301.9 639.9L302.5 639.9L303.1 639.8L303.7 639.8L304.3 639.8L304.9 639.8L305.5 639.9L306.1 639.9L306.7 640L307.3 640.1L307.9 640.2L308.5 640.4L309.1 640.5L309.7 640.6L310.3 640.7L310.9 640.8L311.5 640.8L312.1 640.8L312.7 640.7L313.3 640.7L313.9 640.7L314.5 640.6L315.1 640.6L315.7 640.6L316.3 640.6L316.9 640.5L317.5 640.5L318.1 640.5L318.7 640.5L319.3 640.4L319.9 640.4L320.5 640.4L321.1 640.4L321.7 640.4L322.3 640.4L322.9 640.4L323.5 640.4L324.1 640.4L324.7 640.4L325.3 640.4L325.9 640.5L326.5 640.5L327.1 640.5L327.7 640.5L328.3 640.5L328.9 640.6L329.5 640.6L330.1 640.6L330.7 640.6L331.3 640.7L331.9 640.7L332.5 640.7L333.1 640.7L333.7 640.7L334.3 640.8L334.9 640.8" fill="none" stroke="#9a3dfc" stroke-width="3.3" stroke-linejoin="round" stroke-linecap="round"/>
</g>
<defs><radialGradient id="atg" cx="0.4" cy="0.35" r="0.7"><stop offset="0" stop-color="#b0b0b0"/><stop offset="0.5" stop-color="#7a7a7a"/><stop offset="1" stop-color="#606060"/></radialGradient><radialGradient id="aty" cx="0.4" cy="0.35" r="0.7"><stop offset="0" stop-color="#fff680"/><stop offset="0.5" stop-color="#f2e21c"/><stop offset="1" stop-color="#c8b800"/></radialGradient><radialGradient id="atb" cx="0.4" cy="0.35" r="0.7"><stop offset="0" stop-color="#6a6aff"/><stop offset="0.5" stop-color="#1414ee"/><stop offset="1" stop-color="#0000c0"/></radialGradient><radialGradient id="atm" cx="0.4" cy="0.35" r="0.7"><stop offset="0" stop-color="#f090c8"/><stop offset="0.5" stop-color="#cc4a9a"/><stop offset="1" stop-color="#a02878"/></radialGradient></defs><g stroke-width="2" stroke-linecap="round"><path d="M173 476.4L175.1 481.7" stroke="#7a7a7a"/><path d="M175.1 481.7L177.1 487" stroke="#7a7a7a"/><path d="M177.1 487L182.4 488.3" stroke="#7a7a7a"/><path d="M182.4 488.3L187.8 489.5" stroke="#7a7a7a"/><path d="M187.8 489.5L188.6 495.6" stroke="#7a7a7a"/><path d="M188.6 495.6L189.4 501.8" stroke="#7a7a7a"/><path d="M189.4 501.8L184.9 505" stroke="#7a7a7a"/><path d="M184.9 505L180.4 508.3" stroke="#7a7a7a"/><path d="M180.4 508.3L175.9 503.6" stroke="#7a7a7a"/><path d="M175.9 503.6L171.4 499" stroke="#f2e21c"/><path d="M171.4 499L174.2 493" stroke="#f2e21c"/><path d="M174.2 493L177.1 487" stroke="#7a7a7a"/><path d="M180.4 508.3L180.4 513.6" stroke="#7a7a7a"/><path d="M180.4 513.6L180.4 519" stroke="#7a7a7a"/><path d="M180.4 519L184.9 522.2" stroke="#7a7a7a"/><path d="M184.9 522.2L189.4 525.5" stroke="#7a7a7a"/><path d="M180.4 519L176.3 522.6" stroke="#7a7a7a"/><path d="M176.3 522.6L172.2 526.3" stroke="#7a7a7a"/><path d="M172.2 526.3L173.8 531.2" stroke="#7a7a7a"/><path d="M173.8 531.2L175.5 536.2" stroke="#7a7a7a"/><path d="M175.5 536.2L181.6 537.4" stroke="#7a7a7a"/><path d="M181.6 537.4L187.8 538.6" stroke="#f2e21c"/><path d="M187.8 538.6L188.6 532.1" stroke="#f2e21c"/><path d="M188.6 532.1L189.4 525.5" stroke="#7a7a7a"/><path d="M175.5 536.2L172.2 541.5" stroke="#7a7a7a"/><path d="M172.2 541.5L168.9 546.8" stroke="#7a7a7a"/><path d="M189.4 501.8L193.9 504.6" stroke="#7a7a7a"/><path d="M193.9 504.6L198.4 507.5" stroke="#7a7a7a"/><path d="M198.4 507.5L198.4 513.2" stroke="#7a7a7a"/><path d="M198.4 513.2L198.4 519" stroke="#7a7a7a"/><path d="M198.4 519L193.9 522.2" stroke="#7a7a7a"/><path d="M193.9 522.2L189.4 525.5" stroke="#7a7a7a"/><path d="M198.4 507.5L203.7 505.2" stroke="#7a7a7a"/><path d="M203.7 505.2L209 502.9" stroke="#f2e21c"/><path d="M198.4 519L202.9 521.4" stroke="#7a7a7a"/><path d="M202.9 521.4L207.4 523.9" stroke="#7a7a7a"/><path d="M207.4 523.9L211.1 519.4" stroke="#7a7a7a"/><path d="M211.1 519.4L214.8 514.9" stroke="#7a7a7a"/><path d="M209 502.9L211.9 508.9" stroke="#f2e21c"/><path d="M211.9 508.9L214.8 514.9" stroke="#7a7a7a"/><path d="M209 502.9L215.4 500.9" stroke="#f2e21c"/><path d="M215.4 500.9L221.8 498.8" stroke="#cc4a9a"/><path d="M221.8 498.8L226.5 503.7" stroke="#cc4a9a"/><path d="M226.5 503.7L231.2 508.6" stroke="#1414ee"/><path d="M214.8 514.9L220.1 515.7" stroke="#7a7a7a"/><path d="M220.1 515.7L225.4 516.5" stroke="#7a7a7a"/><path d="M225.4 516.5L228.3 512.6" stroke="#7a7a7a"/><path d="M228.3 512.6L231.2 508.6" stroke="#1414ee"/><path d="M231.2 508.6L236.1 508.6" stroke="#1414ee"/><path d="M236.1 508.6L241 508.6" stroke="#7a7a7a"/><path d="M241 508.6L243.4 503.7" stroke="#7a7a7a"/><path d="M243.4 503.7L245.9 498.8" stroke="#7a7a7a"/><path d="M245.9 498.8L251.2 498.7" stroke="#7a7a7a"/><path d="M251.2 498.7L256.5 498.5" stroke="#7a7a7a"/><path d="M256.5 498.5L259.4 503.4" stroke="#7a7a7a"/><path d="M259.4 503.4L262.3 508.3" stroke="#7a7a7a"/><path d="M262.3 508.3L259.6 512.7" stroke="#7a7a7a"/><path d="M259.6 512.7L256.9 517" stroke="#1414ee"/><path d="M256.9 517L251.8 517.6" stroke="#1414ee"/><path d="M251.8 517.6L246.7 518.1" stroke="#7a7a7a"/><path d="M246.7 518.1L243.8 513.4" stroke="#7a7a7a"/><path d="M243.8 513.4L241 508.6" stroke="#7a7a7a"/><path d="M256.9 517L261.9 521.7" stroke="#1414ee"/><path d="M261.9 521.7L266.9 526.3" stroke="#cc4a9a"/><path d="M266.9 526.3L271.9 523.1" stroke="#cc4a9a"/><path d="M271.9 523.1L277 519.8" stroke="#1414ee"/><path d="M262.3 508.3L267.6 508.7" stroke="#7a7a7a"/><path d="M267.6 508.7L272.9 509.1" stroke="#7a7a7a"/><path d="M272.9 509.1L275 514.5" stroke="#7a7a7a"/><path d="M275 514.5L277 519.8" stroke="#1414ee"/><path d="M272.9 509.1L276.6 504.9" stroke="#7a7a7a"/><path d="M276.6 504.9L280.3 500.6" stroke="#7a7a7a"/><path d="M280.3 500.6L285.6 502" stroke="#7a7a7a"/><path d="M285.6 502L290.9 503.4" stroke="#7a7a7a"/><path d="M290.9 503.4L293 508.7" stroke="#7a7a7a"/><path d="M293 508.7L295 514" stroke="#7a7a7a"/><path d="M295 514L291.2 518.4" stroke="#7a7a7a"/><path d="M291.2 518.4L287.3 522.7" stroke="#7a7a7a"/><path d="M287.3 522.7L282.2 521.3" stroke="#7a7a7a"/><path d="M282.2 521.3L277 519.8" stroke="#1414ee"/><path d="M295 514L299.8 515" stroke="#7a7a7a"/><path d="M299.8 515L304.5 516" stroke="#1414ee"/><path d="M304.5 516L308 511.9" stroke="#1414ee"/><path d="M308 511.9L311.4 507.8" stroke="#7a7a7a"/></g><circle cx="173" cy="476.4" r="3.3" fill="url(#atg)"/><circle cx="177.1" cy="487" r="3.3" fill="url(#atg)"/><circle cx="187.8" cy="489.5" r="3.3" fill="url(#atg)"/><circle cx="189.4" cy="501.8" r="3.3" fill="url(#atg)"/><circle cx="180.4" cy="508.3" r="3.3" fill="url(#atg)"/><circle cx="171.4" cy="499" r="3.2" fill="url(#aty)"/><circle cx="180.4" cy="519" r="3.3" fill="url(#atg)"/><circle cx="189.4" cy="525.5" r="3.3" fill="url(#atg)"/><circle cx="172.2" cy="526.3" r="3.3" fill="url(#atg)"/><circle cx="175.5" cy="536.2" r="3.3" fill="url(#atg)"/><circle cx="187.8" cy="538.6" r="3.2" fill="url(#aty)"/><circle cx="168.9" cy="546.8" r="3.3" fill="url(#atg)"/><circle cx="198.4" cy="507.5" r="3.3" fill="url(#atg)"/><circle cx="198.4" cy="519" r="3.3" fill="url(#atg)"/><circle cx="207.4" cy="523.9" r="3.3" fill="url(#atg)"/><circle cx="209" cy="502.9" r="3.2" fill="url(#aty)"/><circle cx="214.8" cy="514.9" r="3.3" fill="url(#atg)"/><circle cx="225.4" cy="516.5" r="3.3" fill="url(#atg)"/><circle cx="221.8" cy="498.8" r="3.2" fill="url(#atm)"/><circle cx="231.2" cy="508.6" r="3.2" fill="url(#atb)"/><circle cx="241" cy="508.6" r="3.3" fill="url(#atg)"/><circle cx="245.9" cy="498.8" r="3.3" fill="url(#atg)"/><circle cx="256.5" cy="498.5" r="3.3" fill="url(#atg)"/><circle cx="262.3" cy="508.3" r="3.3" fill="url(#atg)"/><circle cx="246.7" cy="518.1" r="3.3" fill="url(#atg)"/><circle cx="256.9" cy="517" r="3.2" fill="url(#atb)"/><circle cx="266.9" cy="526.3" r="3.2" fill="url(#atm)"/><circle cx="272.9" cy="509.1" r="3.3" fill="url(#atg)"/><circle cx="277" cy="519.8" r="3.2" fill="url(#atb)"/><circle cx="280.3" cy="500.6" r="3.3" fill="url(#atg)"/><circle cx="290.9" cy="503.4" r="3.3" fill="url(#atg)"/><circle cx="295" cy="514" r="3.3" fill="url(#atg)"/><circle cx="287.3" cy="522.7" r="3.3" fill="url(#atg)"/><circle cx="304.5" cy="516" r="3.2" fill="url(#atb)"/><circle cx="311.4" cy="507.8" r="3.3" fill="url(#atg)"/>
<circle cx="160.1" cy="415.8" r="3.15" fill="#fff" fill-opacity="0.65" stroke="#fb3b3b" stroke-width="1"/>
<path d="M140 440H179.4" stroke="#9a3dfc" stroke-width="3.4" stroke-linecap="round"/>
<text x="184.5" y="421" font-size="19.3" font-weight="bold" text-anchor="start" fill="#000" textLength="143.8" lengthAdjust="spacingAndGlyphs">Co-Btt-Bpy COF</text>
<text x="184.5" y="446" font-size="19.3" font-weight="bold" text-anchor="start" fill="#000">Fit</text>
<g stroke="#000" stroke-width="3.3"><line x1="42.5" y1="641.5" x2="42.5" y2="647.8"/><line x1="91.2" y1="641.5" x2="91.2" y2="647.8"/><line x1="140" y1="641.5" x2="140" y2="647.8"/><line x1="188.8" y1="641.5" x2="188.8" y2="647.8"/><line x1="237.5" y1="641.5" x2="237.5" y2="647.8"/><line x1="286.2" y1="641.5" x2="286.2" y2="647.8"/><line x1="335" y1="641.5" x2="335" y2="647.8"/></g>
<text x="42.5" y="666.9" font-size="19.5" font-weight="bold" text-anchor="middle" fill="#000">0</text>
<text x="91.2" y="666.9" font-size="19.5" font-weight="bold" text-anchor="middle" fill="#000">1</text>
<text x="140" y="666.9" font-size="19.5" font-weight="bold" text-anchor="middle" fill="#000">2</text>
<text x="188.8" y="666.9" font-size="19.5" font-weight="bold" text-anchor="middle" fill="#000">3</text>
<text x="237.5" y="666.9" font-size="19.5" font-weight="bold" text-anchor="middle" fill="#000">4</text>
<text x="286.2" y="666.9" font-size="19.5" font-weight="bold" text-anchor="middle" fill="#000">5</text>
<text x="335" y="666.9" font-size="19.5" font-weight="bold" text-anchor="middle" fill="#000">6</text>
<text x="188.6" y="694" font-size="21.6" font-weight="bold" text-anchor="middle" fill="#000">Radial distance (Å)</text>
<text transform="rotate(-90 22.6 599.1)" x="22.6" y="599.1" font-size="22.3" font-weight="bold" textLength="162.5" lengthAdjust="spacingAndGlyphs">|FT(k<tspan font-size="13.5" dy="-8.5">3</tspan><tspan dy="8.5">c(k))| (Å</tspan><tspan font-size="13.5" dy="-8.5">-4</tspan><tspan dy="8.5">)</tspan></text>
<text x="6.8" y="408.4" font-size="34.5" font-weight="bold" text-anchor="start" fill="#000">d</text>
</g>
<g id="pe">
<clipPath id="ce"><rect x="383.2" y="397.2" width="293.7" height="244.3"/></clipPath>
<g clip-path="url(#ce)"><g fill-rule="evenodd" shape-rendering="geometricPrecision"><rect x="383.2" y="397.2" width="293.7" height="244.3" fill="#0000ff"/><path fill="#0018ff" d="M383.2 455.1L397 451.2L406.7 448.2L418.3 444.2L428.7 440.2L438.2 436.2L446.5 432.2L452.2 429L457.2 425.5L459.6 423.2L461.7 420.2L462.4 418.2L462.5 415.2L462.1 413.2L461.3 411.2L455.7 401.2L454.2 397.2L676.2 397L676.4 397.2L676.2 458.2L676.5 528.2L676.4 586.2L676.6 620.2L676.3 641.2L676.2 641.3L383.2 641.3L383.1 641.2L382.8 620.2L383.1 584.2ZM468.4 490.2L468.7 491.2L470.6 492.2L475.2 493L479.2 493.2L483.2 492.9L487 492.2L488.9 491.2L489.2 490.2L487.9 489.2L485.2 488.4L482.2 488L479.2 487.8L473.2 488.2L469.6 489.2ZM488.9 554.2L491.1 555.2L495.2 555.6L499.2 555.7L503.2 555.6L507.2 555.2L509.4 554.2L507.1 553.2L503.2 552.8L499.2 552.7L495.2 552.8L491.2 553.2ZM502.9 447.2L503 448.2L503.6 449.2L505.2 450.3L508.2 451.4L510.2 451.7L513.2 452L517.2 451.8L520.2 451.2L522.6 450.2L523.9 449.2L524.5 448.2L524.5 447.2L523.9 446.2L522.6 445.2L519.2 443.9L515.2 443.3L511.2 443.4L507 444.2L504.7 445.2L503.4 446.2ZM514 414.2L514 415.2L514.4 416.2L515.3 417.2L516.2 417.8L519.2 418.9L522.2 419.4L526.2 419.2L529.2 418.5L531.6 417.2L532.6 416.2L533 415.2L533 414.2L532.5 413.2L531.2 412L529.7 411.2L528.2 410.7L526.2 410.3L524.2 410.1L521.2 410.2L517.4 411.2L515.6 412.2L514.5 413.2ZM536 574.2L536.3 575.2L543.2 575.5L550.1 575.2L550.3 574.2L543.2 573.9ZM554.5 465.2L554.7 466.2L556.2 467.1L558.2 467.5L560.2 467.7L562.2 467.6L564.6 467.2L566.4 466.2L566.6 465.2L565.4 464.2L564.2 463.8L562.2 463.4L560.2 463.3L558.2 463.5L555.6 464.2ZM626 425.2L626.4 426.2L627.7 427.2L630.2 427.9L632.2 428.1L634.2 427.9L636.8 427.2L638.1 426.2L638.5 425.2L638.1 424.2L636.9 423.2L634.2 422.4L632.2 422.2L630.2 422.4L627.5 423.2L626.3 424.2ZM642.4 458.2L643.2 459.2L645.8 460.2L648.2 460.6L651.2 460.8L654.2 460.6L657 460.2L659.6 459.2L660.4 458.2L660.1 457.2L658.3 456.2L655.2 455.5L651.2 455.2L648.2 455.4L644.6 456.2L642.8 457.2ZM516.7 532.2L517.7 533.2L522.2 534L526.2 534.2L530.2 534L535 533.2L536 532.2L533.2 531.1L530.2 530.8L526.2 530.6L522.2 530.8L519.2 531.2ZM551.6 511.2L554.2 512.3L557.2 512.7L560.2 512.8L563.2 512.6L566.2 512.2L568.4 511.2L568 510.2L566.2 509.6L564.2 509.2L560.2 508.9L556.2 509.1L554.2 509.5L552 510.2Z"/><path fill="#0028ff" d="M383.2 469.3L392.2 466.7L403.2 463.8L436.4 456.2L448.6 453.2L459.1 450.2L478.2 443.7L484.2 442.2L486.3 442.2L487.2 443.3L487.8 445.2L489 447.2L490.9 449.2L492.3 450.2L494 451.2L497.2 452.6L503 454.2L506.2 454.7L510.2 455L514.2 455L518.2 454.7L521.2 454.2L524.2 453.5L527.2 452.3L529 451.2L530.2 450.2L530.9 449.2L531.3 448.2L531.3 447.2L531.1 446.2L530.2 444.8L528.3 443.2L526.2 442.1L523.2 440.9L517.2 439.5L513.2 439L509.2 438.7L502.2 438.7L491.2 439.5L490.3 439.2L490.2 438.2L490.7 437.2L492.1 435.2L497.6 429.2L500.8 426.2L503.2 424.8L505.2 424.3L507.2 424L518.2 424.2L524.2 423.8L530.2 422.6L534.2 421L536.8 419.2L538.4 417.2L538.8 416.2L538.9 415.2L538.7 414.2L538.3 413.2L537.7 412.2L536.7 411.2L535.3 410.2L532.2 408.7L528.2 407.6L523.2 407L519.2 407L514.2 407.6L501.2 410.7L499.2 410.7L497.2 410.4L495.2 409.7L493.2 408.6L489.2 405.4L485.4 401.2L484.1 399.2L483 397.2L676.2 397L676.4 397.2L676.2 458.2L676.5 529.2L676.3 586.2L676.6 620.2L676.3 641.2L383.2 641.3L382.8 620.2L383.1 584.2ZM549.5 465.2L549.7 466.2L550.6 467.2L552.6 468.2L556.2 469.1L560.2 469.4L564.2 469.1L568.2 468.2L570.1 467.2L571 466.2L571.2 465.2L570.6 464.2L569.1 463.2L567.2 462.5L564.2 461.8L560.2 461.6L556.2 461.8L553.2 462.5L551.4 463.2L550.2 464ZM607.6 586.2L613.2 586.6L618.2 586.7L623.2 586.6L629 586.2L624.8 585.2L618.2 585.1L611.7 585.2ZM621.8 425.2L621.9 426.2L622.6 427.2L623.8 428.2L625.2 428.9L628.2 429.8L632.2 430.2L636.2 429.9L639.2 429L640.6 428.2L641.8 427.2L642.3 426.2L642.4 425.2L642.1 424.2L641.3 423.2L639.2 421.9L636.2 421L632.2 420.6L628.2 420.9L626.2 421.4L624.3 422.2L622.8 423.2L622.1 424.2ZM637.2 458.2L637.8 459.2L639.2 460.2L641.7 461.2L647.1 462.2L652.2 462.4L657.2 462.1L662.2 461.2L664.8 460.2L666.3 459.2L666.9 458.2L666.8 457.2L665.9 456.2L663.2 454.9L660.7 454.2L658.2 453.8L652.2 453.4L646.2 453.8L643.7 454.2L641.2 454.9L638.4 456.2L637.4 457.2ZM461.5 490.2L461.6 491.2L462.7 492.2L464.9 493.2L469 494.2L472.2 494.6L479.2 495L486.2 494.5L489.2 494L492.2 493.3L494.6 492.2L495.6 491.2L495.7 490.2L494.9 489.2L493.2 488.3L489.6 487.2L484.2 486.4L478.2 486.2L472.2 486.5L467.2 487.3L464.1 488.2L462.3 489.2ZM510.8 532.2L511.4 533.2L514.4 534.2L520.2 535L526.2 535.2L532.2 534.9L537.4 534.2L540.4 533.2L541.1 532.2L539.9 531.2L535.9 530.2L531.2 529.7L526.2 529.5L521.2 529.7L516.1 530.2L512.1 531.2ZM545.8 511.2L547.1 512.2L550.5 513.2L555.2 513.8L559.2 513.9L563.2 513.8L567.8 513.2L571.2 512.2L572.4 511.2L572.3 510.2L570.6 509.2L569.2 508.8L565.2 508L559.2 507.7L553.2 508L549.2 508.7L547.6 509.2L545.9 510.2ZM609.5 634.2L620.2 634.3L630.8 634.2L620.2 634ZM482.8 554.2L484.2 555.2L489.2 556.2L494.2 556.6L499.2 556.7L504.2 556.5L509.2 556.1L513.5 555.2L514.9 554.2L513.6 553.2L509.2 552.3L504.2 551.8L499.2 551.7L494.2 551.8L489.2 552.2L484.1 553.2ZM525.4 606.2L530.2 606.9L535.2 607.1L540.2 606.9L545.6 606.2L535.2 606ZM529.5 574.2L529.7 575.2L536.2 575.9L542.2 576.2L549.2 575.9L555.6 575.2L555.7 574.2L549.2 573.5L542.2 573.2L535.2 573.5Z"/><path fill="#0038ff" d="M383.2 485.5L391.1 480.2L394.4 478.2L398.2 476.2L402.2 474.5L408.3 472.2L413.2 470.7L419.2 469.1L427.2 467.2L438.2 465L450.2 463L472.2 459.7L481.2 458.6L490.2 458.1L509.2 458.5L514.2 458.3L519.2 457.8L524.2 456.9L528.2 455.8L531.2 454.6L534.2 452.9L536.2 451.2L537.6 449.2L538.1 447.2L537.8 445.2L536.8 443.2L535.2 441.3L529.6 436.2L528.9 435.2L528.6 434.2L528.6 433.2L529.1 432.2L531.1 430.2L539.2 425L541.5 423.2L543.2 421.3L544.4 419.2L544.9 417.2L544.7 415.2L543.9 413.2L542.3 411.2L540.2 409.4L538.2 408.2L535.2 406.8L531.2 405.4L527.2 404.5L514.2 402.7L510.2 401.9L508.3 401.2L506.5 400.2L505.2 399.2L503.5 397.2L676.2 397.1L676.3 397.2L676.2 458.2L676.5 530.2L676.3 586.2L676.6 620.2L676.3 641.2L383.2 641.3L382.8 620.2L383.1 584.2ZM544.7 465.2L545 466.2L545.8 467.2L547.2 468.2L549.5 469.2L554.2 470.4L560.2 470.8L566.2 470.4L570.8 469.2L573 468.2L574.3 467.2L575 466.2L575.1 465.2L574.7 464.2L573.7 463.2L572.1 462.2L570.2 461.4L565.2 460.3L559.2 459.9L553.2 460.4L549.2 461.3L547.1 462.2L545.7 463.2L544.9 464.2ZM600.8 634.2L610.2 634.6L620.2 634.7L630.2 634.6L639.7 634.2L630.2 633.7L620.2 633.5L611.2 633.6ZM602.7 586.2L610.2 587L618.2 587.2L626.2 586.9L633.3 586.2L630.7 585.2L618.2 584.7L605.3 585.2ZM618 425.2L618 426.2L618.3 427.2L619.2 428.3L621.2 429.8L623.2 430.7L626.2 431.6L631.2 432.3L636.2 432.1L639.2 431.5L641.2 430.8L642.6 430.2L644.2 429.1L645.2 428.1L645.7 427.2L646 426.2L645.9 425.2L645.5 424.2L644.7 423.2L643.6 422.2L642.2 421.4L640.2 420.5L638.2 419.9L633.2 419.2L628.2 419.4L625.2 420L621.8 421.2L620.1 422.2L619 423.2L618.3 424.2ZM454.3 490.2L454.3 491.2L455.1 492.2L456.5 493.2L460.2 494.6L463.2 495.3L467.2 496L476.2 496.7L485.2 496.5L490.2 495.9L494.2 495.2L497.9 494.2L500.2 493.2L501.6 492.2L502.2 491.2L502.1 490.2L501.4 489.2L500 488.2L496.2 486.7L493.2 486L489.2 485.3L485.2 484.9L480.2 484.7L471.2 484.9L466.2 485.4L462.2 486.2L458.6 487.2L456.3 488.2L454.9 489.2ZM505.8 532.2L506.3 533.2L508.2 534.1L512.2 535.1L518.2 535.8L525.2 536L533.2 535.7L539.2 534.9L542.3 534.2L544.5 533.2L545.1 532.2L544.2 531.2L541.7 530.2L539.2 529.7L533.2 528.9L525.2 528.6L518.2 528.9L512.2 529.6L509.3 530.2L506.7 531.2ZM540.3 510.2L540.4 511.2L541.5 512.2L543.8 513.2L549.2 514.3L556.2 514.8L562.2 514.7L568.2 514.1L572.2 513.2L574.4 512.2L575.5 511.2L575.4 510.2L574.2 509.2L571.7 508.2L566.2 507.1L559.2 506.6L553.2 506.7L547.2 507.3L543.2 508.3L541.3 509.2ZM632.5 458.2L632.9 459.2L634 460.2L635.7 461.2L639.2 462.4L642.2 463.1L646.2 463.6L654.2 463.9L658.2 463.7L662.2 463.3L666.2 462.6L669.2 461.8L673 460.2L674.4 459.2L675.1 458.2L675.3 457.2L674.9 456.2L673.2 454.8L671.2 453.8L668.2 452.9L661.2 451.7L657.2 451.4L652.2 451.4L645.2 452L641.2 452.7L638.2 453.5L636.2 454.2L634.2 455.4L633.2 456.2L632.6 457.2ZM477.7 554.2L478.7 555.2L483.2 556.4L490.2 557.2L498.2 557.4L506.2 557.2L514.7 556.2L518.1 555.2L519.2 554.2L518.3 553.2L515.2 552.2L513.2 551.9L506.2 551.1L498.2 550.9L490.2 551.2L483.2 552L478.6 553.2ZM520.6 606.2L525 607.2L535.2 607.3L546.4 607.2L550.9 606.2L535.2 605.9ZM524.5 574.2L524.7 575.2L530.8 576.2L537.2 576.5L544.2 576.6L551.2 576.3L555.2 576L559.4 575.2L559.4 574.2L553.3 573.2L546.2 572.8L539.2 572.8L532.2 573.1L529.2 573.3Z"/><path fill="#0048ff" d="M383.2 502.5L405.5 497.2L412.2 495.2L417.2 493.2L419.2 492.1L420.4 491.2L421.3 490.2L421.9 489.2L422.1 488.2L422.1 484.2L422.5 482.2L423.8 480.2L426 478.2L429.6 476.2L434.6 474.2L441.6 472.2L451.2 470.2L460.2 468.7L471.2 467.3L486.2 465.7L513.2 463.3L534.2 460.6L536.2 460.8L536.7 461.2L537.3 464.2L537.8 465.2L539.6 467.2L541 468.2L542.9 469.2L545.3 470.2L551.2 471.7L555.2 472.2L559.2 472.4L566.2 472L569.2 471.5L573.2 470.4L576.1 469.2L577.6 468.2L578.6 467.2L579.2 466.2L579.3 465.2L579.1 464.2L578.4 463.2L577.2 462.1L575.2 461L572.2 459.8L567.2 458.6L561.2 457.9L553.2 457.7L543.2 458.2L542.2 458.2L541.4 457.2L541.9 456.2L545.2 451.7L546.6 449.2L547.5 446.2L548.2 441.1L549.2 438.2L550.6 436.2L554.9 431.2L556.9 428.2L557.5 426.2L557.6 424.2L557.1 422.2L555.6 419.2L552.8 415.2L550.2 412.2L546.2 408.8L543.2 406.9L539.2 404.9L524.5 399.2L522.6 398.2L521.2 397.2L676.2 397.1L676.3 397.2L676.2 441.2L672.2 442.5L665.4 445.2L662.4 446.2L657.8 447.2L642.2 449.7L635.2 451.5L632.2 452.7L629.5 454.2L628.2 455.3L627.4 456.2L627.1 457.2L627.1 458.2L627.5 459.2L628.3 460.2L630.2 461.5L632.2 462.4L635.2 463.4L641.2 464.7L648.2 465.5L656.2 465.7L663.2 465.4L676.2 464.4L676.4 527.2L676.3 586.2L676.6 620.2L676.3 641.2L383.2 641.3L382.9 620.2L383.1 585.2ZM598.6 586.2L606.3 587.2L618.2 587.5L629.2 587.2L636.9 586.2L634.8 585.2L626.2 584.6L617.2 584.4L609.2 584.6L600.6 585.2ZM613.4 426.2L613.5 427.2L614 428.2L614.7 429.2L616.2 430.6L619.2 432.3L622.2 433.4L625.2 434.1L628.2 434.7L632.2 435L636.2 434.9L639.2 434.6L642.2 433.9L645.2 432.8L647.2 431.6L648.7 430.2L649.3 429.2L649.9 427.2L649.5 425.2L649 424.2L647 422.2L645.2 421L642.2 419.7L639.2 418.8L636.2 418.3L632.2 418L628.2 418.1L625.2 418.5L622.1 419.2L619.2 420.2L617.2 421.2L615.7 422.2L614.7 423.2L614 424.2L613.5 425.2ZM440.6 491.2L441.3 492.2L442.7 493.2L444.8 494.2L448.2 495.4L453.2 496.6L459.2 497.7L466.2 498.5L472.2 498.8L478.2 499L484.2 498.8L490.2 498.5L496.2 497.8L501.2 496.8L505.2 495.7L508.6 494.2L510.2 492.9L510.7 492.2L510.9 491.2L510.6 490.2L509.8 489.2L508.4 488.2L505.2 486.7L500.2 485.2L494.2 484L489.2 483.4L482.2 482.9L476.2 482.8L469.2 483L462.2 483.6L456.2 484.4L451.2 485.4L446.2 486.9L443 488.2L441.5 489.2L440.7 490.2ZM500.8 532.2L501.2 533.2L502.9 534.2L507.2 535.4L515.2 536.5L524.2 536.9L533.2 536.5L541.2 535.5L546.3 534.2L548 533.2L548.6 532.2L548 531.2L546.2 530.2L541.2 528.9L533.2 527.9L525.2 527.6L516.2 527.9L508.2 528.9L503.4 530.2L501.5 531.2ZM533.8 510.2L534 511.2L535.1 512.2L537.1 513.2L540.2 514.1L546.2 515.2L554.2 515.7L562.2 515.6L566.2 515.2L570.2 514.6L575.3 513.2L577.2 512.2L578.1 511.2L578.1 510.2L577.2 509.2L575.4 508.2L572.2 507.2L569.2 506.5L564.2 505.8L556.2 505.3L547.2 505.5L543.2 506L540.2 506.6L538 507.2L535.6 508.2L534.2 509.2ZM594.6 634.2L606.2 634.8L620.2 635L634.2 634.8L646 634.2L631.5 633.2L620.2 633.1L609.2 633.2ZM472.6 554.2L473.5 555.2L476.2 556.2L481.2 557.1L489.2 557.9L498.2 558.2L507.2 557.9L515.2 557L520.2 555.9L522.1 555.2L523 554.2L522.3 553.2L520.2 552.3L515.3 551.2L507.2 550.4L498.2 550.1L489.2 550.4L480.7 551.2L475.2 552.4L473.3 553.2ZM520 574.2L520.2 575.2L524.8 576.2L531.2 576.7L537.2 577L545.2 577L553.2 576.6L558 576.2L562.5 575.2L562.4 574.2L557.7 573.2L551.2 572.7L545.2 572.4L537.2 572.4L529.2 572.7L524.2 573.2ZM516.9 606.2L520.2 607.2L536.2 607.5L551.7 607.2L555.1 606.2L546.2 605.8L536.2 605.7L526.2 605.8Z"/><path fill="#0058ff" d="M676.3 397.2L676.2 431.4L666.2 432L663.2 431.8L660.2 431.2L658.2 430.2L657.2 429.3L654 425.2L652.1 423.2L649.4 421.2L647.6 420.2L644.2 418.8L641.2 417.9L637.2 417.2L633.2 416.8L628.2 416.8L623.2 417.3L619 418.2L614.2 419.8L609.4 422.2L606.7 424.2L605 426.2L604.5 427.2L604.3 428.2L604.4 429.2L604.8 430.2L606.2 431.8L608.1 433.2L613.2 436L623.4 440.2L625.1 441.2L626.3 442.2L627 443.2L627.4 444.2L627.4 445.2L627.1 446.2L626.5 447.2L624.7 449.2L620.4 453.2L619.2 454.9L618.7 456.2L618.6 457.2L618.8 458.2L619.3 459.2L620.1 460.2L621.2 461.2L622.8 462.2L626.2 463.7L629.2 464.7L634.2 465.9L639.2 466.7L649.2 467.7L667.2 468.6L676.2 469.8L676.4 527.2L676.3 586.2L676.6 620.2L676.2 641.3L383.1 641.2L382.9 620.2L383.1 585.2L383.2 514.7L394.2 512.2L404.2 510.2L415.2 508.4L426.2 506.9L437.2 505.6L447.2 504.8L456.2 504.4L467.2 504.2L506.2 504.2L513.2 504.3L517.2 504.7L519.2 505.1L520.2 505.5L521.2 506.5L522.3 509.2L523 510.2L524.1 511.2L525.7 512.2L527.8 513.2L530.7 514.2L534.9 515.2L539.2 515.9L544.2 516.4L553.2 516.8L562.2 516.4L567.2 515.9L571.2 515.2L575.2 514.2L577.2 513.5L579.6 512.2L580.4 511.2L580.5 510.2L579.8 509.2L578.4 508.2L575.2 506.8L571.2 505.7L565.2 504.6L558.2 503.6L542.8 502.2L538.8 501.2L538.5 500.2L539.2 499.2L542.2 496.4L543.1 495.2L543.6 494.2L543.8 493.2L543.5 492.2L542.7 491.2L541.2 490.2L538.8 489.2L534.2 488L507.2 482.6L495.2 480.8L480.1 479.2L473.6 478.2L472.1 477.2L473.3 476.2L476.5 475.2L481.6 474.2L487.2 473.4L498.8 472.2L524.2 470.2L528.2 470.3L531.2 470.6L545.2 473.5L551.2 474.3L557.2 474.7L564.2 474.4L570.2 473.6L574.2 472.7L577.2 471.8L581.2 469.9L583.6 468.2L584.4 467.2L585 466.2L585.2 465.2L585.2 464.2L584.8 463.2L584.1 462.2L583.1 461.2L581.2 459.8L577.2 457.9L566.9 454.2L565.4 453.2L564.7 452.2L564.5 451.2L565.2 449.2L566.5 447.2L568.2 445.2L570.4 443.2L574.5 440.2L584.5 434.2L587.2 432.2L588.1 431.2L588.8 430.2L589 429.2L588.9 428.2L588.4 427.2L587.7 426.2L585.5 424.2L581.1 421.2L575.4 418.2L563.2 412.5L558.2 410L540.6 400.2L536.3 397.2ZM594.7 586.2L600.8 587.2L609.2 587.6L617.2 587.7L625.2 587.6L633.2 587.3L640.1 586.2L638.3 585.2L635.2 584.9L626.2 584.3L617.2 584.1L609.2 584.3L600.2 584.8L596.5 585.2ZM467 554.2L467.8 555.2L470.2 556.2L476.2 557.5L486.2 558.6L497.2 558.9L508.2 558.6L517.2 557.6L520.2 557.1L523.6 556.2L525.7 555.2L526.5 554.2L526.1 553.2L524.3 552.2L521.2 551.3L518.2 550.7L509.2 549.6L497.2 549.2L485.2 549.6L475.2 550.8L469.4 552.2L467.5 553.2ZM495.1 532.2L495.6 533.2L497 534.2L499.5 535.2L503.6 536.2L508.2 536.9L513.2 537.4L523.2 537.8L533.2 537.4L538.2 536.9L543.2 536.1L547.1 535.2L549.8 534.2L551.3 533.2L551.9 532.2L551.4 531.2L550.1 530.2L547.2 529.1L543.2 528.1L539.2 527.4L534.2 526.9L524.2 526.4L514.2 526.8L508.2 527.4L504.2 528.1L500.2 529L497.1 530.2L495.6 531.2ZM589.3 634.2L603.2 635L620.2 635.3L637.2 635.1L651.5 634.2L640.2 633.2L620.2 633L600.7 633.2ZM513.6 606.2L516.4 607.2L536.2 607.6L556 607.2L558.9 606.2L547.2 605.7L536.2 605.5L524.2 605.7ZM515.5 574.2L515.7 575.2L519.5 576.2L527.2 577L536.2 577.4L545.2 577.4L554.2 577L561.7 576.2L565.3 575.2L565.1 574.2L561.1 573.2L553.2 572.4L544.2 572L534.2 572L526.2 572.4L518.8 573.2Z"/><path fill="#0068ff" d="M550.2 397.2L676.2 397.1L676.2 425.9L668.2 425.9L663.2 425.2L659.2 423.8L652.1 420.2L647.3 418.2L642.2 416.8L636.2 415.8L630.2 415.4L624.2 415.6L618.2 416.3L609.2 417.7L605.2 418.1L602.2 418L598.2 417.4L592.2 415.8L585.2 413.5L574.2 409.6L566.2 406.5L561.2 404.2L556.2 401.6L552.6 399.2ZM676.2 474.6L676.4 529.2L676.3 586.2L676.6 620.2L676.2 641.3L383.1 641.2L382.9 620.2L383.1 585.2L383.2 530.5L388.3 528.2L396.3 525.2L403.2 523L412.2 520.7L420.2 519L429.2 517.5L438.2 516.4L447.2 515.5L463.2 514.8L481.2 514.8L502.2 515.9L529.2 517.8L542.2 518.2L550.2 518.1L558.2 517.7L565.2 517L571.2 516L576.2 514.8L580.4 513.2L581.9 512.2L582.6 511.2L582.7 510.2L582.3 509.2L581.2 508.2L578.2 506.6L575.2 505.5L564.8 502.2L563 501.2L562.2 500.2L562.2 499.2L563.6 497.2L567.5 493.2L569.9 490.2L571.8 487.2L574.7 481.2L576.4 479.2L577.8 478.2L581.8 476.2L592.2 471.9L598.2 469.9L602.2 469L608.2 468.5L615.2 468.5L626.2 469.1L656.2 471.6L666.2 472.8ZM590.9 586.2L596.1 587.2L608.2 587.9L617.2 588L626.2 587.9L637.9 587.2L643.1 586.2L641.4 585.2L635.2 584.5L628.2 584.1L617.2 583.9L606.2 584.1L599.2 584.5L592.5 585.2ZM487.8 532.2L488.2 533.2L489.4 534.2L493.2 535.8L497.2 536.9L502.2 537.8L508.2 538.4L514.2 538.8L520.2 538.9L526.2 538.8L532.2 538.4L538.2 537.8L544.2 536.9L549.2 535.7L553.1 534.2L554.4 533.2L555 532.2L554.7 531.2L554.2 530.6L552.2 529.3L548.2 527.9L544.2 526.9L538.2 525.8L531.2 525L521.2 524.6L511.2 525L504.2 525.7L498.2 526.8L494.2 527.9L490.6 529.2L489 530.2L488 531.2ZM584.5 634.2L597.6 635.2L620.2 635.5L643.3 635.2L656.6 634.2L646.6 633.2L620.2 632.8L594.5 633.2ZM459.9 554.2L460.8 555.2L462.9 556.2L466.5 557.2L471.2 558.1L476.2 558.7L483.2 559.3L496.2 559.8L508.2 559.4L514.2 558.9L519.2 558.2L524.2 557.2L527.4 556.2L529.2 555.2L529.9 554.2L529.6 553.2L528.2 552.2L525.2 551L520.2 549.8L514.2 549L509.2 548.5L496.2 548.1L482.2 548.6L477.2 549L470.2 549.9L465.2 551L461.6 552.2L460.1 553.2ZM510.8 574.2L511.1 575.2L514.4 576.2L524.2 577.4L535.2 577.8L546.2 577.8L556.2 577.3L564.8 576.2L567.9 575.2L567.7 574.2L563.2 573.1L554.2 572.1L542.2 571.6L531.2 571.6L521.2 572.1L513.4 573.2ZM510.6 606.2L513.1 607.2L524.2 607.6L536.2 607.8L548.2 607.6L559.9 607.2L562.5 606.2L549.2 605.5L536.2 605.3L523.2 605.5Z"/><path fill="#0078ff" d="M564.1 397.2L676.2 397.1L676.2 421.6L669.2 421.7L663.2 421L658.2 419.8L646.2 416.1L641.2 415.1L637.2 414.5L628.2 413.9L611.2 414L607.2 413.7L603.2 412.9L598.2 411.7L591.2 409.5L578.2 404.9L570.1 401.2L566.7 399.2ZM676.2 478.3L676.4 529.2L676.3 586.2L676.5 620.2L676.2 641.2L383.2 641.2L382.9 620.2L383.2 557.5L391.2 556.2L401.5 554.2L409.6 552.2L415.4 550.2L419.2 548.2L421.5 546.2L422.9 544.2L425.8 539.2L427.6 537.2L430.2 535.2L433.9 533.2L439.4 531.2L445.2 529.8L451.2 528.8L456.2 528.4L460.2 528.2L463.2 528.3L466.2 528.7L467.9 529.2L469.2 529.9L472.9 533.2L474.4 534.2L477.2 535.6L480.2 536.8L483.2 537.7L488.2 538.9L494.2 539.9L501.2 540.6L507.2 540.9L514.2 540.8L528.2 540L540.2 538.6L545.2 537.7L550.2 536.6L554.2 535.2L556.3 534.2L557.5 533.2L558.1 532.2L558 531.2L557.2 530.1L556 529.2L554.2 528.2L544.1 524.2L542.7 523.2L543 522.2L545.3 521.2L549.8 520.2L566.2 517.8L573.2 516.5L579.2 514.8L581.2 514L583.2 512.8L584 512.2L584.7 511.2L584.9 510.2L584.6 509.2L584.2 508.7L582.2 507L574.8 503.2L573.3 502.2L572.5 501.2L572.5 500.2L572.9 499.2L574.7 497.2L585.2 488.5L591.2 484.3L597.2 481.1L600.2 479.8L604.2 478.5L612.2 476.5L621.2 475.1L631.2 474.5L642.2 474.4L654.2 475.1L666.2 476.5ZM446.3 553.2L447 554.2L448.6 555.2L451.2 556.2L454.8 557.2L461.2 558.4L474.2 560L483.2 560.6L492.2 560.8L499.2 560.8L506.2 560.5L514.2 559.9L520.2 559.1L525.2 558.1L529.2 556.9L531 556.2L532.5 555.2L533.2 554.2L533.1 553.2L532.2 552.3L530.3 551.2L526.2 549.8L522.2 548.7L516.2 547.6L509.2 546.7L500.2 546L495.2 545.8L487.2 545.9L475.2 546.6L465.2 547.5L459.2 548.4L453.2 549.5L449.2 550.7L448 551.2L446.6 552.2ZM587 586.2L591.6 587.2L597.2 587.7L606.2 588.1L616.2 588.3L626.2 588.1L636.2 587.6L641.4 587.2L646 586.2L644.5 585.2L636.2 584.2L627.2 583.8L616.2 583.7L606.2 583.8L597.1 584.2L588.4 585.2ZM505.5 574.2L506 575.2L509 576.2L513.2 576.9L522.2 577.8L534.2 578.3L547.2 578.1L558.2 577.5L563.2 577L567.2 576.3L570.3 575.2L570 574.2L566.8 573.2L562.2 572.5L552.2 571.6L539.2 571.1L526.2 571.2L516.2 571.8L512.2 572.3L508.2 573ZM579.9 634.2L586.2 634.9L592.2 635.3L605.2 635.6L620.2 635.7L636.2 635.6L649.2 635.3L655.2 634.9L661.5 634.2L652.2 633.2L637.2 632.8L621.2 632.7L605.2 632.8L589.3 633.2ZM507.8 606.2L510 607.2L522.2 607.7L536.2 607.9L550.2 607.7L563.6 607.2L566.1 606.2L551.2 605.4L536.2 605.2L522.2 605.4Z"/><path fill="#0087ff" d="M577.6 397.2L676.2 397.1L676.2 418L669.2 418.1L663.2 417.7L658.2 416.9L646.2 414.3L639.2 413.1L633.2 412.4L617.2 411.2L610.6 410.2L601.2 407.7L591.1 404.2L586.3 402.2L582.2 400.2ZM676.2 481.4L676.4 531.2L676.3 586.2L676.5 620.2L676.2 641.2L383.2 641.2L382.9 620.2L383.2 566.4L398.2 564.6L415.2 562.9L428.2 561.9L438.2 561.4L451.2 561.3L485.2 562.6L493.2 562.6L500.2 562.4L509.2 561.7L517.2 560.8L523.2 559.7L529.2 558.3L532.4 557.2L534.5 556.2L535.9 555.2L536.5 554.2L536.5 553.2L535.8 552.2L534.2 551L532.2 549.9L526 547.2L524.3 546.2L523.7 545.2L524.2 544.2L526 543.2L529.2 542.2L546.2 538.7L551.2 537.5L556.2 535.8L559.4 534.2L560.5 533.2L561.1 532.2L561.1 531.2L560.7 530.2L559.2 528.6L554.7 525.2L554.1 524.2L554.3 523.2L555.5 522.2L557.7 521.2L561 520.2L577.2 516.4L582.2 514.6L585.2 513L586.1 512.2L586.8 511.2L587 510.2L586.8 509.2L586.2 508.2L585.2 507.1L580.3 503.2L579.6 502.2L579.5 501.2L579.9 500.2L580.6 499.2L582.2 497.7L587.2 493.9L593.2 489.9L598.2 487.1L605.2 483.9L613.2 481.3L622.2 479.4L632.2 478.3L643.2 477.9L654.2 478.3L665.2 479.4ZM499.3 574.2L500 575.2L502.7 576.2L508.2 577.2L520.2 578.3L532.2 578.8L546.2 578.6L559.2 577.9L568.2 576.7L570.4 576.2L572.7 575.2L572.4 574.2L569.4 573.2L563.1 572.2L549.2 571.1L534.2 570.6L520.2 570.7L509.2 571.5L505.2 572L502.2 572.7L500.6 573.2ZM582.7 586.2L587 587.2L594.2 587.8L604.2 588.3L616.2 588.5L628.2 588.3L637.2 587.9L644.8 587.2L649 586.2L647.6 585.2L639.8 584.2L628.2 583.6L616.2 583.4L603.2 583.6L591.6 584.2L584 585.2ZM505.1 606.2L507.1 607.2L521.2 607.8L536.2 608.1L552.2 607.8L567.3 607.2L569.6 606.2L551.6 605.2L536.2 605L521.2 605.2ZM575.5 634.2L583.2 635.2L589.2 635.5L603.2 635.8L620.2 636L637.2 635.9L652.2 635.5L658.4 635.2L666.3 634.2L657.2 633.2L639.2 632.7L621.2 632.6L603.2 632.7L585.2 633.2Z"/><path fill="#0097ff" d="M590.4 397.2L676.2 397.1L676.2 414.7L667.2 414.8L659.2 414.3L641.2 411.5L624.3 409.2L619.2 408.3L611 406.2L602.2 403.2L595.3 400.2ZM676.2 484L676.4 531.2L676.3 586.2L676.5 620.2L676.2 641.2L383.2 641.2L382.9 620.2L383.2 573.7L393.2 572.1L406.2 570.5L419.2 569.2L432.2 568.3L452.2 567.4L488.2 567.1L498.2 566.6L504.2 565.8L509.2 564.8L522.2 561.7L529.2 559.8L533.2 558.4L536.2 557.2L538.2 556L539.1 555.2L539.8 554.2L539.9 553.2L539.4 552.2L538.2 550.8L535.2 548.2L534.5 547.2L534.4 546.2L534.9 545.2L536 544.2L537.7 543.2L539.9 542.2L542.8 541.2L554.2 537.9L558.2 536.5L560.9 535.2L562.5 534.2L563.6 533.2L564.2 532.2L564.3 531.2L564.1 530.2L563.6 529.2L561.5 526.2L561.2 525.2L561.3 524.2L562 523.2L563.2 522.2L565.2 521.2L567.8 520.2L579.2 516.8L583.2 515.3L586.2 513.7L588.2 512.2L588.9 511.2L589.2 510.2L589.1 509.2L588.2 507.4L585.5 504.2L585 503.2L584.9 502.2L585.3 501.2L587 499.2L590.2 496.7L595.2 493.4L600.2 490.6L607.2 487.3L615.2 484.6L624.2 482.5L634.2 481.1L644.2 480.6L655.2 481L665.2 482ZM490.6 574.2L491.9 575.2L494.6 576.2L499.4 577.2L503.2 577.8L515.2 578.9L530.2 579.4L546.2 579.1L558.2 578.4L564.2 577.8L569.2 577.1L573.1 576.2L575 575.2L574.6 574.2L571.9 573.2L566.3 572.2L561.2 571.6L545.2 570.4L530.2 569.8L519.2 569.6L507.2 569.7L498.2 570.6L494.2 571.6L492.4 572.2L490.8 573.2ZM577.8 586.2L581.9 587.2L591.2 588.1L602.2 588.6L615.2 588.7L628.2 588.6L639.2 588L648.3 587.2L652.1 586.2L650.7 585.2L643.2 584.2L630.2 583.4L615.2 583.2L599.2 583.4L586.2 584.2L578.9 585.2ZM502.5 606.2L504.3 607.2L521.2 608L536.2 608.2L552.2 608L571 607.2L573.2 606.2L557 605.2L537.2 604.9L517.3 605.2ZM571 634.2L577 635.2L585.2 635.6L601.2 636.1L621.2 636.2L641.2 636.1L656.2 635.7L665.2 635.2L671.2 634.2L662.3 633.2L640.2 632.6L621.2 632.4L602.2 632.6L579.9 633.2Z"/><path fill="#00a7ff" d="M602.5 397.2L676.2 397.2L676.2 411.5L666.2 411.8L657.2 411.2L646.2 409.8L630.2 407.2L621.6 405.2L614.2 402.8L607.8 400.2L605.2 398.9ZM676.2 486.4L676.4 532.2L676.2 586.2L676.5 620.2L676.2 634.2L667.3 633.2L641.2 632.4L621.2 632.3L601.2 632.4L575.5 633.2L566.5 634.2L570.8 635.2L580.2 635.8L601.2 636.4L620.2 636.6L640.2 636.4L661.2 635.9L672.1 635.2L676.2 634.3L676.2 641.2L383.2 641.2L382.9 620.2L383.2 583.3L389.5 582.2L407.2 578.2L418.2 576.3L433.2 574.7L448.2 573.7L459.2 573.6L467.2 574L473.2 574.8L487.2 577.5L495.2 578.6L508.2 579.8L522.2 580.3L539.2 580.1L552.2 579.5L561.2 578.7L567.2 578L571.9 577.2L575.7 576.2L577.3 575.2L576.9 574.2L574.3 573.2L571.2 572.6L566.2 571.8L558.2 570.9L534.3 569.2L525.9 568.2L523.2 567.2L523.2 566.2L524 565.2L527 563.2L539.2 557.6L541.4 556.2L542.4 555.2L543 554.2L543.2 553.2L543.1 552.2L541.6 549.2L541.3 548.2L541.3 547.2L541.8 546.2L543.9 544.2L547.4 542.2L549.6 541.2L561.2 536.8L564.2 535.2L565.6 534.2L566.6 533.2L567.2 532.2L567.5 531.2L567.5 530.2L566.6 526.2L566.7 525.2L567.1 524.2L568 523.2L569.2 522.2L573 520.2L585.2 515.5L587.7 514.2L589.2 513.2L590.2 512.2L590.9 511.2L591.3 510.2L591.3 509.2L591.1 508.2L589.7 505.2L589.4 504.2L589.4 503.2L589.7 502.2L591.4 500.2L594.2 498L599.2 494.8L603.2 492.7L608.2 490.3L613.2 488.4L618.2 486.8L623.2 485.5L628.2 484.5L634.2 483.7L640.2 483.2L646.2 483L652.2 483.1L658.2 483.5L664.2 484.2L670.2 485.1ZM499.8 606.2L501.5 607.2L507.2 607.6L522.2 608.2L537.2 608.3L553.2 608.1L574.8 607.2L577 606.2L561.8 605.2L537.2 604.8L513.3 605.2ZM571.6 586.2L575.8 587.2L586.5 588.2L599.2 588.8L614.2 589L629.2 588.8L641.7 588.2L651.8 587.2L655.4 586.2L654.1 585.2L647.4 584.2L644.2 583.9L629.2 583.2L613.2 582.9L596.2 583.2L581.2 584L572.5 585.2Z"/><path fill="#00b7ff" d="M614.3 397.2L676.2 397.2L676.2 408.4L668.2 408.7L659.2 408.4L650.2 407.5L641.6 406.2L632.2 404.2L625.3 402.2L619.2 399.8ZM676.2 488.6L676.4 534.2L676.2 586.2L676.5 620.2L676.2 633.6L672.2 633.2L650.2 632.4L633.2 632.2L613.2 632.2L594.2 632.4L571 633.2L561.8 634.2L564.4 635.2L571.2 635.8L588.2 636.5L604.2 636.8L626.2 636.9L647.2 636.7L659.2 636.4L676.2 635.5L676.2 640.7L622.2 641L519.2 641L383.2 640.4L382.9 620.2L383.2 586.8L414.6 585.2L448.2 583L459.2 582.5L474.2 582.5L507.2 583.7L521.2 583.6L529.2 582.9L542.8 581.2L549.2 580.7L565.2 578.9L573.2 577.6L578.3 576.2L579.7 575.2L579.2 574.2L576.7 573.2L572 572.2L567.2 571.5L543.8 569.2L536.8 568.2L533.8 567.2L533 566.2L533.2 565.2L533.7 564.2L535.7 562.2L543.2 557.4L544.8 556.2L545.7 555.2L546.4 554.2L546.7 553.2L546.4 549.2L546.6 548.2L547.2 547.1L549 545.2L553.4 542.2L565.8 536.2L568.2 534.6L569.7 533.2L570.7 531.2L571.2 526.2L572.1 524.2L573 523.2L575.6 521.2L577.4 520.2L588.3 515.2L590.2 514L592.3 512.2L593 511.2L593.4 510.2L593.6 509.2L593.1 505.2L593.2 504.2L593.5 503.2L595.1 501.2L597.7 499.2L602.2 496.4L607.2 493.7L611.2 492L616.2 490.1L621.2 488.5L626.2 487.3L631.2 486.4L636.2 485.8L642.2 485.3L648.2 485.1L654.2 485.3L660.2 485.8L665.2 486.4L671.2 487.4ZM497.1 606.2L498.7 607.2L506.2 607.7L518.2 608.2L537.2 608.4L556.8 608.2L578.8 607.2L581 606.2L566.3 605.2L552.2 604.8L537.2 604.7L523.2 604.8L510.2 605.2ZM561.6 585.2L561.7 586.2L567.2 587.2L573.2 587.8L588.2 588.7L606.2 589.2L625.2 589.1L641.2 588.5L648.2 588L655.2 587.3L659.1 586.2L657.8 585.2L649.2 584L634.2 583.1L618.2 582.7L601.2 582.8L584.2 583.3L568.8 584.2Z"/><path fill="#00c7ff" d="M626.2 397.2L676.2 397.2L676.2 405L670.2 405.4L663.2 405.4L656.2 404.9L649.2 404.1L642.2 402.8L636.1 401.2L630.4 399.2ZM676.2 490.7L676.4 535.2L676.2 586.2L676.5 620.2L676.2 633.1L646.2 632.2L607.2 632.1L589.2 632.4L566.5 633.2L556.9 634.2L557.6 635.2L563.2 635.9L572.2 636.5L582.2 636.9L608.2 637.5L638.2 637.5L665.2 636.9L676.2 636.4L676.2 639L627.2 639.3L523.2 639.4L383.2 638.8L382.9 620.2L383.2 588.5L440.2 587.1L469.2 586.9L514.2 587.4L548.2 587.5L588.2 589.2L603.2 589.5L617.2 589.5L635.2 589.1L649.2 588.4L660.3 587.2L663.7 586.2L662.4 585.2L655.9 584.2L646.2 583.4L634.2 582.8L608.2 582.4L568.2 582.9L562.2 582.7L558 582.2L558.2 581.2L562.5 580.2L572.2 578.6L579.2 576.9L581 576.2L582.1 575.2L581.5 574.2L579.1 573.2L572.2 571.8L564.2 570.7L550.5 569.2L544.3 568.2L541.3 567.2L540.3 566.2L540.1 565.2L540.7 563.2L542.3 561.2L547.2 557.2L549.1 555.2L550.1 553.2L551 549.2L552.3 547.2L554.4 545.2L557.1 543.2L560.3 541.2L568.2 536.9L571.8 534.2L573.4 532.2L574.3 530.2L575.4 526.2L576.6 524.2L577.4 523.2L579.7 521.2L581.3 520.2L590.2 515.5L593.4 513.2L594.4 512.2L595.6 510.2L595.9 509.2L596.4 505.2L597.5 503.2L599.2 501.5L600.9 500.2L605.9 497.2L613.2 493.7L621.2 490.9L625.2 489.8L630.2 488.7L639.2 487.5L648.2 487.1L658.2 487.5L667.2 488.7ZM494.4 606.2L495.8 607.2L505.2 607.8L518.2 608.3L537.2 608.5L558.2 608.3L572.2 607.8L583.1 607.2L585.4 606.2L568.2 605.1L553.2 604.7L537.2 604.6L522.2 604.7L509.2 605.1Z"/><path fill="#00d7ff" d="M639.8 397.2L676.2 397.2L676.2 401.1L671.2 401.6L666.2 401.7L661.2 401.6L656.4 401.2L651.2 400.4L647.2 399.6L642.4 398.2ZM676.2 492.6L676.4 537.2L676.2 586.2L676.5 620.2L676.2 632.9L654.2 632.2L624.2 631.9L594.2 632.1L572.2 632.8L561.9 633.2L551.5 634.2L550 635.2L551.2 635.6L558.2 636.8L562.6 637.2L556.2 637.7L545.2 637.9L481.2 638.1L383.2 637.5L382.9 620.2L383.2 589.6L429.2 588.8L462.2 588.6L521.2 589.1L557.2 589L597.2 589.8L619.2 589.8L636.2 589.4L653.2 588.5L666.5 587.2L670.7 586.2L669 585.2L661.6 584.2L643.2 582.9L620.2 582.2L581.2 582L575.2 581.8L570.2 581.2L570.6 580.2L580.2 577.7L583.8 576.2L584.6 575.2L583.9 574.2L581.5 573.2L576.2 572L568.2 570.7L556.1 569.2L550.5 568.2L547.5 567.2L546.3 566.2L545.9 565.2L545.9 564.2L546.5 562.2L547 561.2L552.5 555.2L553.6 553.2L555.2 549.5L557.1 547.2L561.9 543.2L572.2 536.5L575 534.2L576.6 532.2L579.2 526.2L581.4 523.2L583.5 521.2L584.8 520.2L592.2 515.7L595.6 513.2L596.6 512.2L597.9 510.2L599.2 506.2L600.4 504.2L603.2 501.7L608.2 498.6L615.2 495.3L623.2 492.5L631.2 490.6L640.2 489.3L649.2 488.9L658.2 489.3L667.2 490.5ZM491.5 606.2L492.9 607.2L504.2 608L518.2 608.4L537.2 608.6L557.2 608.4L573.2 608L587.9 607.2L590.2 606.2L575.6 605.2L554.2 604.6L538.2 604.5L522.2 604.6L502.2 605.3Z"/><path fill="#00e7ff" d="M676.2 494.6L676.3 537.2L676.2 584.2L669.2 584L650.2 582.9L637.2 582.4L619.2 581.9L591.2 581.5L582.2 581.1L578.4 580.2L579.7 579.2L584.2 577.5L586.7 576.2L587.2 575.2L586.4 574.2L584.1 573.2L579.2 572L572.2 570.8L561 569.2L555.8 568.2L552.9 567.2L551.6 566.2L551.1 565.2L550.9 564.2L550.9 563.2L551.5 561.2L552.7 559.2L555.9 555.2L558.2 551.1L559.5 549.2L561.5 547.2L565 544.2L574.2 537.6L577.2 535.1L579.7 532.2L582.9 526.2L584.2 524.2L585.9 522.2L588.1 520.2L595.2 515.4L597.8 513.2L599.6 511.2L602.2 506.4L603.2 505L605.2 503.2L609.2 500.5L616.2 497L620.2 495.5L624.2 494.2L632.2 492.2L641.2 491L650.2 490.6L659.2 491.1L668.2 492.5ZM676.2 587.6L676.5 620.2L676.2 632.6L656.2 632.1L631.2 631.8L606.2 631.8L583.2 632.2L556.9 633.2L545.5 634.2L541 635.2L539.2 635.9L537.2 636.3L530.2 636.7L519.2 636.9L466.2 637L383.2 636.4L383 620.2L383.2 590.5L423.2 589.9L452.2 589.7L527.2 590.2L566.2 590L616.2 590.1L641.2 589.5ZM488.6 606.2L489.8 607.2L503.2 608.1L519.2 608.6L537.2 608.7L556.2 608.6L575.2 608.1L593.3 607.2L595.7 606.2L580.6 605.2L555.2 604.5L538.2 604.4L521.2 604.5L499.5 605.2Z"/><path fill="#00f7ff" d="M676.2 496.4L676.3 537.2L676.2 582.7L670.2 583L663.2 583L630.2 581.8L599.6 581.2L592.2 580.8L586.7 580.2L585.5 579.2L588.6 577.2L589.8 576.2L590 575.2L589 574.2L586.8 573.2L582.2 572L565.5 569.2L560.8 568.2L558 567.2L556.5 566.2L555.9 565.2L555.5 563.2L555.8 561.2L556.1 560.2L561.3 552.2L563.2 549.6L566.8 546.2L577.2 537.9L580.3 535.2L582.8 532.2L586.3 526.2L589.3 522.2L592.5 519.2L597.8 515.2L600.1 513.2L601.9 511.2L604.6 507.2L606.2 505.4L608.2 503.7L611.2 501.8L614.2 500.2L618.2 498.3L625.2 495.8L633.2 493.8L642.2 492.6L651.2 492.3L660.2 492.9L668.2 494.3ZM676.2 588.9L676.5 620.2L676.2 632.4L654.2 631.9L630.2 631.7L606.2 631.7L583.2 632.1L551.6 633.2L538.4 634.2L533.2 634.9L525.2 635.5L517.2 635.9L505.2 636.1L455.2 636.1L383.2 635.5L383 620.2L383.2 591.2L419.2 590.8L450.2 590.6L524.2 591.1L545.2 591L618.2 590.4L640.2 589.9L666.2 588.9ZM485.4 606.2L486.5 607.2L501 608.2L518.2 608.7L537.2 608.9L557.2 608.7L578.3 608.2L599.5 607.2L601.9 606.2L586.1 605.2L556.2 604.4L538.2 604.3L521.2 604.4L505.2 604.8L496.2 605.2Z"/><path fill="#00fff7" d="M676.2 498.3L676.2 581.1L672.2 581.8L668.2 582.1L658.2 582.2L615.2 581.1L595.9 580.2L591.8 579.2L591.7 578.2L593.1 576.2L593 575.2L591.9 574.2L589.6 573.2L583.2 571.6L569.9 569.2L565.5 568.2L562.7 567.2L561.2 566.2L560.5 565.2L560 564.2L559.8 562.2L559.9 561.2L560.5 559.2L563.5 554.2L566.2 550.6L569.6 547.2L579.2 539.2L582.5 536.2L585.2 533.2L590.2 525.2L593.4 521.2L595.4 519.2L602.5 513.2L608.7 506.2L611.2 504.2L613.2 503L616.4 501.2L620.2 499.5L627.2 497.1L635.2 495.2L643.2 494.2L652.2 493.9L660.2 494.6L668.2 496L672.2 497ZM676.2 589.9L676.5 620.2L676.2 632.1L632.2 631.5L587.2 631.8L571.2 632.2L545.6 633.2L518.2 634.9L496.2 635.3L455.2 635.3L383.2 634.7L383 620.2L383.2 591.9L450.2 591.4L546.2 591.8L621.2 590.7L662.2 589.7L669.2 589.7ZM482 606.2L483 607.2L497 608.2L516.2 608.8L538.2 609L560.2 608.8L584.3 608.2L606.6 607.2L609 606.2L592.2 605.2L559.2 604.3L539.2 604.1L520.2 604.3L503.2 604.7L492.6 605.2Z"/><path fill="#00ffe7" d="M676.2 500.2L676.2 578.7L672.1 580.2L668.2 580.9L664.2 581.3L658.2 581.5L633.6 581.2L610.2 580.4L603.2 579.8L599 579.2L597.2 578.2L596.9 576.2L596.4 575.2L595 574.2L592.6 573.2L587.2 571.7L574.2 569.2L570.1 568.2L567.4 567.2L565.8 566.2L564.9 565.2L564.4 564.2L563.9 562.2L563.9 561.2L564.3 559.2L565.2 557.2L566.4 555.2L569.2 551.4L572.3 548.2L582.2 539.6L586.2 535.6L588.9 532.2L594 524.2L597.3 520.2L605 513.2L610.8 507.2L613.2 505.3L615.2 504.1L618.7 502.2L622.2 500.6L629.2 498.3L637.2 496.5L645.2 495.6L653.2 495.6L661.2 496.3L669.2 497.9ZM676.2 590.9L676.5 620.2L676.2 631.9L633.2 631.4L590.2 631.7L563.2 632.3L512.2 634.3L493.2 634.7L449.2 634.6L383.2 633.9L383 620.2L383.2 592.5L450.2 592L546.2 592.5L568.2 592.2L655.2 590.4L666.2 590.4ZM478.3 606.2L479.2 607.2L492.8 608.2L514.2 608.9L538.2 609.1L562.2 608.9L591.3 608.2L614.7 607.2L617.1 606.2L599.3 605.2L581.2 604.6L558.2 604.1L539.2 604L521.2 604.1L501.2 604.6L488.9 605.2Z"/><path fill="#00ffd7" d="M676.2 502.1L676.2 575.9L672.2 577.8L668.2 579.2L663.4 580.2L657.2 580.7L646.2 580.9L619.5 580.2L608.2 579.3L603.5 578.2L602.1 577.2L600.1 575.2L598.5 574.2L596 573.2L590.2 571.6L578.6 569.2L574.7 568.2L572.1 567.2L570.4 566.2L569.4 565.2L568.8 564.2L568 562.2L567.9 561.2L568.2 559.2L569.4 556.2L572.2 552.2L575 549.2L584.2 540.9L588.8 536.2L591.9 532.2L597.8 523.2L601.2 519.2L612.2 508.7L614.2 507.1L617.2 505.1L623.2 502.1L630.2 499.7L634.2 498.7L638.2 498L646.2 497.1L654.2 497.2L662.2 498.1L669.2 499.6L673.2 500.9ZM676.2 591.8L676.4 620.2L676.2 631.7L633.2 631.3L592.2 631.5L558.3 632.2L514.2 633.8L491.2 634.1L443.2 633.9L383.2 633.2L383 620.2L383.2 593L449.2 592.6L529.2 593.2L551.2 593.1L571.2 592.9L633.2 591.3L651.2 591L664.2 591.1ZM474.1 606.2L474.8 607.2L488.3 608.2L511.2 608.9L538.2 609.2L565.2 609L599.4 608.2L623.9 607.2L626 606.2L607.5 605.2L587.2 604.6L561.2 604L540.2 603.9L520.2 604L499.2 604.6L484.9 605.2Z"/><path fill="#00ffc7" d="M676.2 504.1L676.2 573L671.2 575.5L666.2 577.5L661.2 578.8L656.2 579.6L649.2 580.1L641.2 580.2L630.2 579.9L618.2 579.2L611.2 578.1L608.2 577.2L602.5 574.2L599.8 573.2L595.2 571.9L583.2 569.2L579.5 568.2L576.8 567.2L575.1 566.2L574 565.2L573.2 564.2L572.2 562.2L572 561.2L572.1 559.2L573.2 556.2L575.1 553.2L577.7 550.2L587.2 541.2L591.2 537L594.1 533.2L600.7 523.2L604 519.2L613.5 510.2L616.2 508.1L619.1 506.2L625.2 503.2L632.2 500.9L639.2 499.4L647.2 498.6L655.2 498.8L662.2 499.7L669.2 501.4L673.2 502.8ZM676.2 592.6L676.4 620.2L676.2 631.5L632.2 631.2L594.2 631.3L563.2 631.9L511.2 633.3L490.2 633.6L447.2 633.4L383.2 632.6L383 620.2L383.2 593.6L449.2 593.2L531.2 593.8L554.2 593.7L578.2 593.4L623.2 592L647.2 591.6L661.2 591.8ZM469.4 606.2L469.8 607.2L483.4 608.2L509.2 609L539.2 609.3L569.2 609L609.1 608.2L634 607.2L635.8 606.2L616.9 605.2L593.2 604.5L564.2 603.9L540.2 603.7L518.2 603.9L497.2 604.5L480.6 605.2Z"/><path fill="#00ffb7" d="M676.2 506.2L676.2 570.2L674.5 571.2L670.2 573.4L665.2 575.4L659.2 577.2L654.1 578.2L648.2 578.8L641.2 579.1L633.2 579L625.2 578.5L620.2 577.9L615.2 576.9L602.2 572.6L584.5 568.2L581.8 567.2L579.9 566.2L578.6 565.2L577 563.2L576.2 561.2L576 560.2L576.2 558.2L576.9 556.2L578.8 553.2L581.4 550.2L590.2 541.6L594.1 537.2L597 533.2L602.9 524.2L606.8 519.2L610.8 515.2L615.2 511.3L618.2 509L621.1 507.2L624.2 505.6L627.2 504.3L634.2 502.1L641.2 500.7L645.2 500.3L649.2 500.2L656.2 500.4L663.2 501.5L667.2 502.5L670.2 503.5ZM676.2 593.4L676.4 620.2L676.2 631.3L635.2 631L600.2 631.2L567.2 631.6L516.2 632.8L491.2 633.1L441.2 632.8L383.2 632.1L383 620.2L383.2 594.1L449.2 593.7L531.2 594.3L556.2 594.3L577.2 594L623.2 592.6L643.2 592.3L659.2 592.5ZM463.8 606.2L463.9 607.2L477.7 608.2L505.2 609.1L539.2 609.4L574.2 609.1L620.4 608.2L645.4 607.2L646.7 606.2L627.3 605.2L601.2 604.5L568.2 603.8L541.2 603.6L517.2 603.8L494.2 604.4L475.6 605.2Z"/><path fill="#00ffa7" d="M676.2 508.4L676.2 567.3L673.2 569.2L669.2 571.3L664.2 573.4L659.2 574.9L654.2 576.1L649.2 576.9L643.2 577.4L637.2 577.5L630.2 577.2L624.2 576.5L619.2 575.6L589.8 568.2L587.1 567.2L584.2 565.6L582.4 564.2L580.9 562.2L580.2 560.2L580.1 559.2L580.5 557.2L581.3 555.2L583.3 552.2L586 549.2L592.9 542.2L596.3 538.2L599.3 534.2L605.7 524.2L609.7 519.2L612.6 516.2L616.2 513L619.9 510.2L623.1 508.2L626.2 506.6L629.2 505.4L632.7 504.2L636.2 503.3L643.2 502.1L650.2 501.7L657.2 502.2L664.2 503.5L670.2 505.4L673.2 506.8ZM676.2 594.1L676.4 620.2L676.2 631L634.2 630.9L601.2 631L569.2 631.4L517.2 632.5L492.2 632.7L445.2 632.4L383.2 631.5L383 620.2L383.2 594.6L450.2 594.3L533.2 594.9L557.2 594.9L580.2 594.6L623.2 593.2L641.2 593L657.2 593.2ZM456.7 607.2L470.9 608.2L494.2 609L522.2 609.5L549.2 609.5L585.2 609.1L633.5 608.2L659.3 607.2L659.8 606.2L638.9 605.2L593.2 604.1L562.2 603.5L533.2 603.5L504.2 603.9L472.2 605.1L457.2 606.2Z"/><path fill="#00ff97" d="M676.2 510.8L676.2 564.4L673.2 566.5L670.3 568.2L666.2 570.2L662.2 571.7L657.2 573.2L652.2 574.3L647.2 575L641.2 575.4L636.2 575.5L630.2 575.2L624.2 574.5L618.2 573.4L603.5 570.2L595.7 568.2L592.2 566.9L588.8 565.2L586.4 563.2L585 561.2L584.4 559.2L584.6 557.2L585.3 555.2L586.4 553.2L588.8 550.2L595.3 543.2L599.2 538.4L602.2 534.2L607.9 525.2L610 522.2L613.5 518.2L617.2 514.7L621.2 511.7L625.2 509.2L631.2 506.5L637.2 504.8L644.2 503.6L651.2 503.3L658.2 504L662.2 504.7L665.2 505.5L668.2 506.6L671.2 507.9L673.7 509.2ZM676.2 594.8L676.2 606.1L653 605.2L595.2 603.8L563.2 603.4L533.2 603.3L501.2 603.8L467.2 605L449 606.2L447.6 607.2L462.3 608.2L484.2 608.9L512.2 609.5L538.2 609.7L568.2 609.5L616.2 608.8L649.7 608.2L676.2 607.3L676.4 620.2L676.2 630.8L603.2 630.8L522.2 632L494.2 632.2L440.2 631.9L383.2 631L383 620.2L383.2 595.1L450.2 594.8L534.2 595.5L558.2 595.5L581.2 595.2L623.2 593.9L640.2 593.7L656.2 593.9Z"/><path fill="#00ff87" d="M676.2 513.6L676.2 561.2L673.2 563.6L669.1 566.2L665.2 568.2L661.2 569.8L657.2 571L652.2 572.2L647.2 573L642.2 573.4L637.2 573.5L632.2 573.3L625.2 572.7L618.2 571.6L610.8 570.2L602.4 568.2L598.2 566.8L594.5 565.2L591.5 563.2L589.7 561.2L588.9 559.2L588.8 557.2L589.4 555.2L591.1 552.2L601.7 539.2L604.4 535.2L610.1 526.2L613.7 521.2L616.5 518.2L619.8 515.2L623.2 512.7L626.2 510.8L631.8 508.2L638.2 506.3L645.2 505.2L652.2 505L655.2 505.3L659.2 505.9L665.2 507.4L668.2 508.6L671.2 510.1L674.2 512ZM676.2 595.5L676.2 605.2L583.2 603.4L550.2 603.1L524.2 603.3L493.2 603.8L454.8 605.2L438.9 606.2L436 607.2L450.8 608.2L470.2 608.8L502.2 609.5L529.2 609.8L574.2 609.6L676.2 608.2L676.4 620.2L676.2 630.5L603.2 630.7L524.2 631.7L496.2 631.9L443.2 631.5L383.2 630.6L383 620.2L383.2 595.6L418.2 595.3L451.2 595.3L535.2 596L559.2 596.1L581.2 595.8L623.2 594.6L640.2 594.4L657.2 594.7Z"/><path fill="#00ff78" d="M676.2 516.7L676.2 557.6L673.5 560.2L671.2 562.1L666.2 565.2L663.2 566.6L659.1 568.2L655.2 569.4L650.2 570.4L645.2 571.1L640.2 571.5L635.2 571.5L630.2 571.3L624.2 570.7L618.2 569.8L611.2 568.4L606.2 567.1L602.2 565.7L598.9 564.2L595.9 562.2L594.2 560.2L593.7 559.2L593.3 557.2L593.6 555.2L594.5 553.2L596.4 550.2L604.8 539.2L613.6 525.2L616.7 521.2L620.2 517.6L624.2 514.4L628.2 511.9L631.2 510.5L634.2 509.3L640.2 507.7L643.2 507.2L647.2 506.8L651.2 506.7L654.2 506.9L657.2 507.3L661.2 508.2L664.2 509.1L666.9 510.2L669.2 511.3L672.2 513.2L674.2 514.8ZM676.2 596.2L676.2 604.7L572.2 603L530.2 603L490.2 603.6L444.4 605.2L426.2 606.2L420.7 607.2L434.6 608.2L491.2 609.5L523.2 609.9L566.2 609.9L676.2 608.8L676.4 620.2L676.2 630.3L602.2 630.5L527.2 631.4L498.2 631.5L436.2 631.1L383.2 630.1L383.1 620.2L383.2 596.1L418.2 595.8L452.2 595.8L536.2 596.6L559.2 596.7L580.2 596.4L623.2 595.3L640.2 595.1L656.2 595.3Z"/><path fill="#00ff68" d="M676.2 520.8L676.2 553.4L673.9 556.2L670.8 559.2L667.2 561.8L663.2 564.1L660.2 565.4L656.2 566.8L652.2 567.9L648.2 568.6L644.2 569.1L639.2 569.5L634.2 569.5L629.4 569.2L623.2 568.5L618.2 567.7L613.2 566.6L608.3 565.2L605.2 564L601.8 562.2L600.2 560.9L598.8 559.2L598.3 558.2L598 556.2L598.4 554.2L599.2 552.2L601 549.2L607.9 539.2L615.9 526.2L619.2 521.9L622.9 518.2L626.8 515.2L631.2 512.7L634.2 511.4L637.2 510.3L641.2 509.3L644.2 508.9L648.2 508.6L651.2 508.6L657.2 509.2L660.2 509.9L663.2 510.9L666.2 512.2L668.2 513.3L672.2 516.2L674.2 518.2ZM676.2 596.9L676.2 604.1L648.2 603.9L573.2 602.7L527.2 602.7L482.2 603.6L431.3 605.2L408.9 606.2L395.5 607.2L405.7 608.2L456.7 609.2L515.2 610L559.2 610.1L647.2 609.3L676.2 609.3L676.4 620.2L676.2 630L601.2 630.4L533.2 631.1L502.2 631.2L442.2 630.8L383.2 629.7L383.1 620.2L383.2 596.6L418.2 596.3L451.2 596.3L539.2 597.2L560.2 597.3L582.2 597.1L622.2 596L640.2 595.8L657.2 596.1Z"/><path fill="#00ff58" d="M675.1 524.2L676.2 526.7L676.2 547.4L674.9 550.2L673.6 552.2L672.1 554.2L670.3 556.2L668 558.2L665.2 560.2L660.2 562.9L656.9 564.2L653.2 565.3L649.2 566.3L645.2 566.9L637.2 567.4L632.2 567.3L628.2 567L623.2 566.3L618.2 565.4L614.2 564.3L610.8 563.2L608.2 562L605.4 560.2L604.2 558.9L603.2 557.2L602.9 556.2L602.9 554.2L603.5 552.2L604.4 550.2L618.3 527.2L621.3 523.2L625.2 519.3L629.2 516.3L633.2 514.1L636.2 512.8L639.2 511.8L642.2 511.2L645.2 510.7L649.2 510.5L652.2 510.6L655.2 510.9L658.2 511.5L663.2 513.2L666.2 514.8L668.4 516.2L670.7 518.2L672.2 519.8L674 522.2ZM383.2 597.1L419.2 596.8L454.2 596.8L489.2 597.2L538.2 597.9L560.2 598L583.2 597.8L629.2 596.6L652.2 596.7L676.2 597.7L676.2 603.5L642.2 603.4L575.2 602.4L530.2 602.4L508.2 602.7L473.2 603.5L383.2 606ZM383.2 609.6L399.2 609.3L421.2 609.3L540.2 610.2L645.2 609.7L676.2 609.8L676.4 620.2L676.2 629.7L534.2 630.8L504.2 630.9L444.2 630.4L383.2 629.3L383.1 620.2Z"/><path fill="#00ff48" d="M671.8 524.2L672.8 526.2L674 529.2L674.9 534.2L675.1 537.2L674.9 540.2L674.4 543.2L673.8 545.2L672.6 548.2L671.5 550.2L670.1 552.2L668.4 554.2L665 557.2L660.1 560.2L657.2 561.5L654.2 562.6L651.2 563.5L647.2 564.3L643.2 564.9L639.2 565.1L631.2 565L623.2 563.9L620.1 563.2L616.2 562L613.2 560.7L610.7 559.2L609.2 557.7L608.3 556.2L608 555.2L607.9 553.2L608.3 551.2L609 549.2L612.2 543.2L620.2 529.2L623.2 525L626.8 521.2L630.2 518.4L634 516.2L636.2 515.2L639.2 514.1L642.2 513.3L645.2 512.8L648.2 512.6L651.2 512.7L656.2 513.3L659.2 514.2L661.2 514.9L665.4 517.2L667.2 518.6L668.9 520.2L670.5 522.2ZM383.2 598.2L383.2 597.7L415.2 597.4L445.2 597.3L484.2 597.7L543.2 598.8L564.2 598.9L583.2 598.6L626.2 597.4L647.2 597.4L662.2 597.8L676.2 598.6L676.2 602.8L647.2 603L575.2 601.9L550.2 601.8L500.2 602.6L413.2 604.6L383.2 605.1ZM383.2 610.6L406.2 610L430.2 609.9L536.2 610.4L641.2 610L676.2 610.3L676.4 620.2L676.2 629.4L543.2 630.5L506.2 630.6L438.2 630L383.2 628.8Z"/><path fill="#00ff38" d="M668.2 524.2L669.4 526.2L670.3 528.2L671.2 531.1L671.6 533.2L671.9 538.2L671.6 541.2L671.1 543.2L669.6 547.2L668.5 549.2L667 551.2L665.2 553.2L663.2 555L659.2 557.7L654.2 560L648.2 561.7L645.2 562.2L641.2 562.6L634.2 562.7L627.2 561.9L623.7 561.2L620.5 560.2L618.2 559.2L616.4 558.2L615.1 557.2L613.6 555.2L613.2 554.2L612.9 552.2L613.1 550.2L613.7 548.2L616.4 542.2L621.1 533.2L624.3 528.2L627.2 524.6L630.9 521.2L634.2 518.9L638.2 517L643.2 515.6L648.2 515L653.2 515.3L657.2 516.2L659.8 517.2L661.8 518.2L665.2 520.7L666.7 522.2ZM383.2 604.3L383.2 598.3L425.2 597.9L468.2 598.1L519.5 599.2L551 600.2L542.6 601.2L455.3 603.2L408.2 604.1ZM676.2 601.7L668.9 602.2L658.2 602.4L622.1 602.2L583.8 601.2L574.9 600.2L621.2 598.4L632.4 598.2L644.2 598.2L668.8 599.2L676.2 600ZM383.2 611.4L411.2 610.6L445.2 610.3L542.2 610.6L641.2 610.3L676.2 610.7L676.4 620.2L676.2 629.1L647.2 629.5L562.2 630.2L510.2 630.4L442.2 629.8L383.2 628.4Z"/><path fill="#00ff28" d="M664.2 524.4L666.2 527.5L667.7 531.2L668.4 535.2L668.4 538.2L668.2 540.2L667.2 544.2L666.3 546.2L665.2 548.2L662.8 551.2L659.2 554.2L655.2 556.5L650.2 558.4L644.2 559.7L638.2 560.1L632.2 559.7L628.9 559.2L626.2 558.5L624.2 557.8L622.2 556.8L620.2 555.3L619.3 554.2L618.7 553.2L618.2 551.2L618.3 548.2L619.5 544.2L621.6 539.2L624.2 534.2L627.4 529.2L630.8 525.2L634.4 522.2L638.2 520L642.2 518.6L646.2 517.8L650.2 517.7L654.2 518.3L658.2 519.8L661.2 521.6L663.1 523.2ZM383.2 603.4L383.2 599.1L418.2 598.7L451.2 598.7L482.5 599.2L507.9 600.2L506.1 601.2L476.2 602.2L425.4 603.2ZM615.1 600.2L628.2 599.6L638.2 599.4L648.2 599.6L658.2 600.2L657.8 601.2L642.2 601.5L620.5 601.2ZM383.2 612.1L418.2 611L456.2 610.6L544.2 610.8L635.2 610.6L657.2 610.8L676.2 611.2L676.3 620.2L676.2 628.8L623.2 629.5L551.2 630L511.2 630.1L444.2 629.5L411.2 628.8L383.2 628Z"/><path fill="#00ff18" d="M660.6 526.2L662.6 529.2L663.8 532.2L664.4 535.2L664.4 539.2L664 541.2L663.4 543.2L662 546.2L659.7 549.2L657.2 551.4L654.2 553.4L650 555.2L645.2 556.4L640.2 556.9L635.2 556.7L631.2 555.9L629 555.2L627.2 554.3L625.8 553.2L624.9 552.2L623.9 550.2L623.6 549.2L623.6 547.2L624.4 543.2L625.8 539.2L627.8 535.2L630.3 531.2L633.2 527.7L636.2 525.1L639.2 523.2L642.2 522L645.6 521.2L649.2 521L652.2 521.4L655.2 522.3L658.2 524ZM383.2 602.2L383.2 600.5L389.2 600.1L413.2 599.7L439.2 599.6L470.1 600.2L472.6 601.2L440.4 602.2L404.2 602.5ZM383.2 612.7L420.2 611.5L466.2 610.9L631.2 610.9L655.2 611.1L676.2 611.7L676.3 620.2L676.2 628.5L622.2 629.3L554.2 629.8L513.2 629.9L476.2 629.6L439.2 629.1L410.2 628.5L383.2 627.6Z"/><path fill="#00ff08" d="M655.7 528.2L657.5 530.2L658.6 532.2L659.5 535.2L659.7 538.2L659.2 541.2L658.2 543.6L656.5 546.2L654.5 548.2L652.2 549.8L649.2 551.3L646.2 552.3L642.2 552.9L639.2 552.9L635.5 552.2L633.1 551.2L631.2 549.6L630.3 548.2L629.7 546.2L629.8 543.2L630.5 540.2L631.8 537.2L633.5 534.2L635.8 531.2L637.8 529.2L640.2 527.5L642.2 526.5L644.2 525.8L647.2 525.4L650.2 525.6L652.2 526.1L654.2 527.1ZM383.2 613.3L402.2 612.5L426.2 611.8L476.2 611.2L627.2 611.2L653.2 611.5L676.2 612.1L676.3 620.2L676.2 628.1L648.2 628.8L613.4 629.2L554.2 629.6L515.2 629.6L479.2 629.4L441.2 628.8L409.2 628.1L383.2 627.2Z"/><path fill="#08ff00" d="M649.3 533.2L650.2 533.8L651.2 534.9L651.9 536.2L652.2 537.2L652.2 539.2L652 540.2L651.2 541.9L650.2 543.2L648.2 544.8L647.2 545.4L645.2 546L644.2 546.2L642.2 546.2L641.2 545.9L639.8 545.2L638.8 544.2L638.3 543.2L638.1 541.2L638.2 540.2L639 538.2L640.2 536.2L642.2 534.2L644.2 533.1L646.2 532.7L647.2 532.7ZM383.2 613.8L407.2 612.8L431.2 612.1L455.2 611.7L484.2 611.4L624.2 611.5L652.2 611.8L676.2 612.5L676.2 627.8L647.2 628.5L610.2 629L558.2 629.4L517.2 629.4L477.2 629.1L442.2 628.6L409.2 627.8L383.2 626.8Z"/><path fill="#18ff00" d="M383.2 614.3L403.2 613.4L430.2 612.5L459.2 612L490.2 611.7L622.2 611.8L650.2 612.1L676.2 612.9L676.2 627.5L648.2 628.2L613.2 628.8L565.2 629.1L522.2 629.2L484.2 628.9L450.2 628.4L417.2 627.7L383.2 626.4Z"/><path fill="#28ff00" d="M383.2 614.8L405.2 613.7L432.2 612.8L460.2 612.3L494.2 611.9L554.2 611.9L619.2 612L649.2 612.5L676.2 613.4L676.2 627.2L649.2 627.9L617.2 628.5L573.2 628.9L530.2 629L493.2 628.8L459.2 628.3L426.2 627.6L399.2 626.7L383.2 625.9Z"/><path fill="#38ff00" d="M383.2 615.4L404 614.2L428.2 613.3L458.2 612.6L492.2 612.2L544.2 612.1L611.2 612.2L642.2 612.6L676.2 613.8L676.2 626.8L651.2 627.6L621.2 628.2L579.2 628.6L538.2 628.8L503.2 628.6L469.2 628.2L437.2 627.6L409.2 626.8L383.2 625.4Z"/><path fill="#48ff00" d="M383.2 616L401.2 614.8L426.2 613.7L456.2 612.9L488.2 612.5L537.2 612.3L601.2 612.4L634.2 612.8L661.2 613.5L676.2 614.2L676.2 626.5L652.2 627.3L623.2 627.9L586.2 628.4L547.2 628.5L511.2 628.5L475.2 628.1L445.2 627.5L418.2 626.8L400.2 626L383.2 624.9Z"/><path fill="#58ff00" d="M383.2 616.6L401.4 615.2L423.2 614.2L450.2 613.4L484.2 612.8L529.2 612.5L587.2 612.6L624.2 612.9L653.2 613.6L676.2 614.6L676.2 626.1L653.2 627L626.2 627.6L594.2 628.1L556.2 628.3L521.2 628.3L486.2 628L456.2 627.5L429.2 626.8L402.2 625.7L393.9 625.2L383.2 624.3Z"/><path fill="#68ff00" d="M383.2 617.4L394.2 616.2L418.2 614.8L446.2 613.8L478.2 613.1L519.2 612.8L569.2 612.8L613.2 613.1L645.2 613.7L676.2 615L676.2 625.7L656.2 626.6L631.2 627.3L602.2 627.8L568.2 628.1L500.2 627.9L469.2 627.5L441.2 626.9L420.3 626.2L401.2 625.2L388.6 624.2L383.2 623.5Z"/><path fill="#78ff00" d="M383.2 618.8L384.9 618.2L390.8 617.2L407.2 615.8L431.2 614.6L461.2 613.7L497.2 613.2L537.2 613L588.2 613.1L626.2 613.5L653.2 614.3L676.2 615.4L676.2 624.2L676.2 625.4L667.2 625.8L642.2 626.8L610.2 627.4L575.2 627.8L538.2 627.9L503.2 627.8L470.2 627.3L427.2 626.2L407.6 625.2L394.8 624.2L387.1 623.2L383.2 622.2Z"/><path fill="#87ff00" d="M386.9 620.2L387.7 619.2L390.7 618.2L399.2 617L407.5 616.2L419.2 615.5L445.2 614.4L476.2 613.7L512.2 613.3L555.2 613.2L602.2 613.4L644.2 614.3L662.2 615L676.2 615.9L676.2 623.2L676.2 624.9L654.2 626.1L630.2 626.8L601.2 627.4L567.2 627.7L532.2 627.7L499.2 627.5L450.2 626.6L433.2 626.1L414.4 625.2L400.9 624.2L392.9 623.2L388.8 622.2L387.2 621.2Z"/><path fill="#97ff00" d="M392.4 620.2L393.2 619.2L396.4 618.2L402.9 617.2L414.1 616.2L421.2 615.8L448.2 614.6L479.2 613.9L514.2 613.5L556.2 613.4L599.2 613.7L623.2 614L644.2 614.6L660.2 615.3L676.2 616.3L676.2 623.2L676.2 624.5L669.2 625L649.2 626L626.2 626.7L598.2 627.2L566.2 627.5L533.2 627.5L501.2 627.3L453.2 626.5L434.2 625.8L418.2 625L407 624.2L398.6 623.2L394.3 622.2L392.7 621.2Z"/><path fill="#a7ff00" d="M397.8 620.2L398.6 619.2L401.9 618.2L408.8 617.2L425.2 615.9L451.2 614.8L481.2 614.1L515.2 613.7L555.2 613.6L596.2 613.9L623.2 614.3L645.2 614.9L664.2 615.9L676.2 616.9L676.2 623.2L676.2 623.9L659.4 625.2L640.2 626L620.2 626.6L593.2 627L562.2 627.3L501.2 627.1L453 626.2L432.2 625.4L412.9 624.2L404.2 623.2L399.7 622.2L398 621.2Z"/><path fill="#b7ff00" d="M403 620.2L404 619.2L407.4 618.2L414.6 617.2L429.2 616.1L454.2 615L482.2 614.3L516.2 613.9L554.2 613.8L593.2 614.1L620.2 614.5L643.2 615.2L662.7 616.2L673.7 617.2L676.2 617.6L676.2 623.2L668 624.2L652.8 625.2L634.2 625.9L615.2 626.5L560.2 627.1L502.2 626.9L457.2 626.1L434.5 625.2L423.2 624.5L412.2 623.5L405.1 622.2L403.3 621.2Z"/><path fill="#c7ff00" d="M408.2 620.2L409.2 619.2L412.8 618.2L420.3 617.2L433.6 616.2L455.2 615.2L481.2 614.6L510.2 614.2L542.2 614L576.2 614.1L604.2 614.4L627.2 614.9L645.2 615.6L660.2 616.5L668.2 617.2L674.9 618.2L676.2 618.6L676.2 622.2L671.5 623.2L662.3 624.2L646.1 625.2L624.2 626L601.2 626.5L573.2 626.8L516.2 626.9L468.2 626.1L445.2 625.4L424.7 624.2L415.2 623.2L410.3 622.2L408.5 621.2Z"/><path fill="#d7ff00" d="M413.3 620.2L414.4 619.2L419.2 618.1L426.2 617.2L445.2 616L464.8 615.2L488.2 614.7L543.2 614.2L601.2 614.6L624.2 615.1L641.2 615.7L652.2 616.3L664.2 617.4L669.8 618.2L673.1 619.2L673.8 620.2L673.3 621.2L671.3 622.2L666.3 623.2L656.6 624.2L641.2 625.1L621.2 625.8L599.2 626.3L543.2 626.8L514.2 626.7L487.2 626.3L464.2 625.8L445.2 625.1L430.5 624.2L420.6 623.2L415.5 622.2L413.6 621.2Z"/><path fill="#e7ff00" d="M418.4 620.2L419.5 619.2L423.4 618.2L431.8 617.2L448.2 616.1L468.2 615.4L489.2 614.9L515.2 614.5L543.2 614.4L600.2 614.8L620.2 615.3L639.2 616L656.2 617.1L664.7 618.2L668.2 619.2L668.9 620.2L668.4 621.2L666.3 622.2L661.1 623.2L650.8 624.2L639.2 624.9L621.2 625.6L597.2 626.1L543.2 626.6L491.2 626.2L466.2 625.6L448.2 624.9L436.4 624.2L425.9 623.2L420.6 622.2L418.7 621.2Z"/><path fill="#f7ff00" d="M423.4 620.2L424.5 619.2L428.7 618.2L437.5 617.2L453.6 616.2L473.2 615.5L493.2 615L543.2 614.6L598.2 615L618.2 615.5L636.9 616.2L651.7 617.2L659.7 618.2L663.3 619.2L664.1 620.2L663.6 621.2L661.4 622.2L655.8 623.2L644.9 624.2L621.2 625.3L596.2 625.9L571.2 626.3L543.2 626.4L516.2 626.3L491.2 626L466.2 625.3L442.3 624.2L431.3 623.2L425.7 622.2L423.7 621.2Z"/><path fill="#fff700" d="M428.4 620.2L429.6 619.2L433.9 618.2L443.3 617.2L460.5 616.2L497.2 615.2L543.2 614.8L593.2 615.2L629.8 616.2L646.1 617.2L654.6 618.2L658.4 619.2L659.2 620.2L658.7 621.2L656.4 622.2L650.2 623.2L635.2 624.4L617.1 625.2L596.2 625.7L570.2 626.1L543.2 626.2L516.2 626.1L491.2 625.7L470 625.2L452.2 624.4L436.6 623.2L430.8 622.2L428.6 621.2Z"/><path fill="#ffe700" d="M433.3 620.2L434.6 619.2L439.2 618.2L449.1 617.2L464.2 616.4L500.2 615.4L543.2 615L588.2 615.3L624.2 616.3L640.3 617.2L649.4 618.2L653.5 619.2L654.4 620.2L653.8 621.2L651.4 622.2L645.3 623.2L632.9 624.2L613.2 625.1L595.2 625.5L570.2 625.9L543.2 626L517.2 625.9L492.2 625.5L474.2 625.1L454.3 624.2L441.9 623.2L435.8 622.2L433.6 621.2Z"/><path fill="#ffd700" d="M438.3 620.2L439.6 619.2L444.5 618.2L455 617.2L479.2 616.1L500.2 615.6L543.2 615.2L588.2 615.6L609.2 616L622.2 616.5L634.3 617.2L644.1 618.2L648.5 619.2L649.5 620.2L648.9 621.2L646.4 622.2L639.9 623.2L626.6 624.2L609.2 624.9L592.2 625.4L543.2 625.8L495.2 625.4L478.2 624.9L460.5 624.2L447.3 623.2L440.9 622.2L438.6 621.2Z"/><path fill="#ffc700" d="M443.2 620.2L444.7 619.2L449.8 618.2L461.1 617.2L483.8 616.2L500.2 615.8L543.2 615.4L588.2 615.8L605.4 616.2L628.1 617.2L638.8 618.2L643.5 619.2L644.6 620.2L644 621.2L641.3 622.2L634.4 623.2L620.1 624.2L588.2 625.2L543.2 625.6L499.2 625.2L466.9 624.2L452.8 623.2L446 622.2L443.5 621.2Z"/><path fill="#ffb700" d="M448.2 620.2L449.7 619.2L455.2 618.2L470.2 617.1L501.2 616L543.2 615.6L587.2 616L618.2 617L633.3 618.2L638.4 619.2L639.6 620.2L639 621.2L636.2 622.2L628.8 623.2L613.3 624.2L579.2 625.2L543.2 625.4L507.2 625.2L473.5 624.2L458.3 623.2L451.1 622.2L448.5 621.2Z"/><path fill="#ffa700" d="M453.3 620.2L454.9 619.2L460.8 618.2L473.9 617.2L503.9 616.2L543.2 615.9L583.9 616.2L614.8 617.2L627.7 618.2L633.2 619.2L634.5 620.2L633.9 621.2L630.9 622.2L623 623.2L611.2 623.9L599.2 624.4L580.2 624.9L543.2 625.2L505.2 624.9L486.2 624.4L475.2 623.9L464 623.2L456.3 622.2L453.6 621.2Z"/><path fill="#ff9700" d="M458.4 620.2L460.1 619.2L466.4 618.2L480.9 617.2L511.2 616.3L543.2 616.1L576.2 616.3L607.5 617.2L621.9 618.2L627.8 619.2L629.3 620.2L628.6 621.2L625.5 622.2L617 623.2L598.1 624.2L582.2 624.6L543.2 625L505.2 624.6L488.2 624.2L469.8 623.2L461.6 622.2L458.7 621.2Z"/><path fill="#ff8700" d="M463.6 620.2L465.5 619.2L472.3 618.2L488.3 617.2L514.2 616.5L543.2 616.3L572.2 616.5L599.6 617.2L615.8 618.2L622.3 619.2L623.9 620.2L623.3 621.2L620 622.2L609.2 623.3L583.2 624.4L543.2 624.8L504.2 624.4L493.2 624.1L478.2 623.3L467 622.2L463.9 621.2Z"/><path fill="#ff7800" d="M469 620.2L471 619.2L478.2 618.2L491.2 617.5L514.2 616.8L543.2 616.5L573.2 616.8L596.2 617.4L609.4 618.2L616.6 619.2L618.4 620.2L617.8 621.2L614.2 622.2L604.1 623.2L579 624.2L542.2 624.6L506.8 624.2L482.3 623.2L472.6 622.2L469.3 621.2Z"/><path fill="#ff6800" d="M474.5 620.2L477.2 619.1L484.9 618.2L493.2 617.7L513.2 617.1L543.2 616.8L575.2 617.1L595.2 617.8L602.6 618.2L610.7 619.2L612.7 620.2L612 621.2L608.2 622.2L597 623.2L570.2 624.1L543.2 624.3L516.2 624.1L489.3 623.2L478.5 622.2L474.9 621.2Z"/><path fill="#ff5800" d="M480.3 620.2L482.8 619.2L494.2 618.1L519.2 617.2L543.2 617L568.2 617.2L594.2 618.2L604.4 619.2L606.7 620.2L606 621.2L601.8 622.2L589.1 623.2L566.2 623.9L542.2 624.1L519.2 623.9L496.9 623.2L484.7 622.2L480.7 621.2Z"/><path fill="#ff4800" d="M486.5 620.2L489.2 619.2L499.9 618.2L521.2 617.5L543.2 617.3L565.2 617.5L586.9 618.2L597.7 619.2L600.3 620.2L599.6 621.2L594.9 622.2L584.2 623L566.2 623.6L542.2 623.8L518.2 623.5L501.2 622.9L491.3 622.2L486.9 621.2Z"/><path fill="#ff3800" d="M493.1 620.2L496.3 619.2L509.2 618.2L526.2 617.8L543.2 617.6L560.2 617.8L577.2 618.2L590.3 619.2L593.3 620.2L592.6 621.2L587.3 622.2L568.5 623.2L542.2 623.5L517 623.2L498.7 622.2L493.6 621.2Z"/><path fill="#ff2800" d="M500.5 620.2L504.4 619.2L515.2 618.5L524.2 618.2L543.2 618L562.2 618.2L571.2 618.5L581.9 619.2L585.7 620.2L584.9 621.2L578.5 622.2L560.2 622.9L542.2 623.2L524.2 622.9L507.3 622.2L501.1 621.2Z"/><path fill="#ff1800" d="M509.2 620.2L514.2 619.2L529.2 618.6L543.2 618.4L557.2 618.6L571.7 619.2L576.7 620.2L575.8 621.2L567.2 622.2L555.2 622.5L542.2 622.7L518.2 622.2L509.9 621.2Z"/><path fill="#ff0800" d="M520.7 620.2L529.7 619.2L543.2 619L556 619.2L564.9 620.2L563.7 621.2L553.2 621.9L542.2 622.1L532.2 621.9L521.8 621.2Z"/></g></g>
<text x="387.7" y="423.3" font-size="17.5" font-weight="bold" text-anchor="start" fill="#000" textLength="130" lengthAdjust="spacingAndGlyphs">Co-Btt-Bpy COF</text>
<text x="567.9" y="607.9" font-size="18" font-weight="bold" text-anchor="middle" fill="#000">Co-S</text>
<text x="553.9" y="628.5" font-size="18" font-weight="bold" text-anchor="middle" fill="#000">Co-N</text>
<rect x="383.2" y="397.2" width="293.7" height="244.3" fill="none" stroke="#000" stroke-width="3.4"/>
<g stroke="#000" stroke-width="3.3"><line x1="383.8" y1="641.5" x2="383.8" y2="647.8"/><line x1="432.6" y1="641.5" x2="432.6" y2="647.8"/><line x1="481.4" y1="641.5" x2="481.4" y2="647.8"/><line x1="530.2" y1="641.5" x2="530.2" y2="647.8"/><line x1="579" y1="641.5" x2="579" y2="647.8"/><line x1="627.8" y1="641.5" x2="627.8" y2="647.8"/><line x1="676.6" y1="641.5" x2="676.6" y2="647.8"/></g>
<text x="383.8" y="666.9" font-size="19.5" font-weight="bold" text-anchor="middle" fill="#000">0</text>
<text x="432.6" y="666.9" font-size="19.5" font-weight="bold" text-anchor="middle" fill="#000">2</text>
<text x="481.4" y="666.9" font-size="19.5" font-weight="bold" text-anchor="middle" fill="#000">4</text>
<text x="530.2" y="666.9" font-size="19.5" font-weight="bold" text-anchor="middle" fill="#000">6</text>
<text x="579" y="666.9" font-size="19.5" font-weight="bold" text-anchor="middle" fill="#000">8</text>
<text x="627.8" y="666.9" font-size="19.5" font-weight="bold" text-anchor="middle" fill="#000">10</text>
<text x="676.6" y="666.9" font-size="19.5" font-weight="bold" text-anchor="middle" fill="#000">12</text>
<g stroke="#000" stroke-width="3.2"><line x1="376.5" y1="641.3" x2="383.2" y2="641.3"/><line x1="376.5" y1="592.5" x2="383.2" y2="592.5"/><line x1="376.5" y1="543.7" x2="383.2" y2="543.7"/><line x1="376.5" y1="494.9" x2="383.2" y2="494.9"/><line x1="376.5" y1="446.1" x2="383.2" y2="446.1"/><line x1="376.5" y1="397.3" x2="383.2" y2="397.3"/></g>
<text x="372.7" y="646.5" font-size="19.5" font-weight="bold" text-anchor="end" fill="#000">1</text>
<text x="372.7" y="597.7" font-size="19.5" font-weight="bold" text-anchor="end" fill="#000">2</text>
<text x="372.7" y="548.9" font-size="19.5" font-weight="bold" text-anchor="end" fill="#000">3</text>
<text x="372.7" y="500.1" font-size="19.5" font-weight="bold" text-anchor="end" fill="#000">4</text>
<text x="372.7" y="451.3" font-size="19.5" font-weight="bold" text-anchor="end" fill="#000">5</text>
<text x="372.7" y="402.5" font-size="19.5" font-weight="bold" text-anchor="end" fill="#000">6</text>
<text x="529" y="694.2" font-size="21.6" font-weight="bold" text-anchor="middle"><tspan font-style="italic">k</tspan> (Å)</text>
<text x="356.8" y="566.6" font-size="21.5" font-weight="bold" text-anchor="start" fill="#000" transform="rotate(-90 356.8 566.6)">R+ΔR (Å)</text>
<text x="340.9" y="408.4" font-size="35" font-weight="bold" text-anchor="start" fill="#000">e</text>
</g>
<g id="pf">
<clipPath id="cf"><rect x="729.9" y="397.2" width="293.1" height="244.3"/></clipPath>
<g clip-path="url(#cf)"><g fill-rule="evenodd" shape-rendering="geometricPrecision"><rect x="729.9" y="397.2" width="293.1" height="244.3" fill="#0000ff"/><path fill="#0018ff" d="M1022.9 424.6L1022.9 532.9L1016.9 533.9L1013 535.2L1011.3 536.2L1010.2 537.2L1009.7 538.2L1009.7 539.2L1010.1 540.2L1011.1 541.2L1013.9 542.7L1017.9 543.9L1022.9 544.8L1023.2 582.2L1022.9 611L1008.9 612.8L989.9 614.7L972.9 615.9L951.9 617L925.9 617.9L881.9 618.9L855.9 619.1L833.9 618.9L818.9 618.4L801.9 617.4L784.9 616L772.9 614.5L759.9 612.5L747.9 610L738.9 607.6L729.9 604.5L729.9 571.8L734.9 569.6L741.9 566.8L764.1 559.2L769.2 557.2L773.1 555.2L774.3 554.2L775 553.2L775.2 552.2L774.8 551.2L774 550.2L772.7 549.2L769.2 547.2L757.2 541.2L754 539.2L751.4 537.2L749.3 535.2L747.8 533.2L746.9 531.2L746.5 529.2L746.8 526.2L747.6 524.2L748.7 522.2L751.9 518.2L757.6 512.2L760.2 509.2L762.2 506.2L763.6 503.2L764.4 500.2L764.8 497.2L764.9 483.2L765.7 476.2L766.5 472.2L767.6 468.2L770.3 461.2L773.4 455.2L777.3 449.2L782.7 442.2L788.1 436.2L794.2 430.2L801.2 424.2L808.9 418.4L815.9 413.7L822.9 409.7L830.9 405.9L836.9 403.8L839.9 403.1L842.9 402.7L845.9 402.8L848.9 403.6L855.4 407.2L857.7 408.2L861.1 409.2L863.9 409.6L866.9 409.8L869.9 409.6L872.3 409.2L875.4 408.2L877.4 407.2L878.9 406.2L880.8 404.2L883.2 400.2L883.9 399.4L884.9 398.7L886.1 398.2L887.9 397.8L890.9 397.7L892.9 398L895.9 398.9L902.9 402.2L906.9 403.7L910.9 404.7L914.9 405.4L921.9 405.8L934.9 405.2L940.9 405.3L957.9 407.2L978.9 409L986.9 410.2L991.9 411.4L995.9 412.9L1011.9 420.6L1016.9 422.6ZM924.5 479.2L925.5 480.2L927.9 480.8L930.9 480.9L932.9 480.8L935.3 480.2L936.3 479.2L935.2 478.2L932.9 477.7L930.9 477.5L927.9 477.7L925.6 478.2ZM940.1 427.2L940.3 428.2L940.8 429.2L941.8 430.2L942.9 430.8L944.9 431.6L947.9 431.9L950.9 431.3L953 430.2L954.1 429.2L954.6 428.2L954.8 427.2L954.8 426.2L954.3 425.2L952.9 423.7L950.9 422.7L947.9 422.2L944.9 422.5L942.9 423.3L941.6 424.2L940.7 425.2L940.3 426.2ZM884.1 552.2L885.8 553.2L894.9 553.6L904.3 553.2L906.2 552.2L900.9 551.5L894.9 551.3L889.9 551.5ZM943.3 517.2L945.9 517.9L948.9 518.1L951.9 517.9L954.9 517.2L954.7 516.2L951.9 515.6L948.9 515.5L945.9 515.7L943.5 516.2ZM948.6 552.2L950.6 553.2L955.9 553.7L961.9 553.8L966.9 553.7L972.4 553.2L974.5 552.2L970.3 551.2L961.9 550.8L953 551.2Z"/><path fill="#0028ff" d="M1022.9 434.2L1022.9 530L1017.9 530.8L1013.9 531.7L1010.9 532.6L1007.9 533.8L1005.4 535.2L1004.1 536.2L1003.2 537.2L1002.6 538.2L1002.4 539.2L1002.4 540.2L1002.8 541.2L1003.5 542.2L1004.9 543.4L1006.9 544.6L1009.9 545.9L1012.9 546.9L1022.9 549.3L1023.2 582.2L1022.9 608.6L1006.9 610.7L988.9 612.5L970.9 613.8L949.9 614.9L921.9 615.9L877.9 616.8L852.9 617L830.9 616.6L812.9 615.9L796.9 614.8L783.9 613.5L769.9 611.5L758.9 609.5L746.9 606.6L737.9 603.6L733.9 602L729.9 600L729.9 576.6L736.9 572.9L746.9 568.9L759.9 564.7L783.4 558.2L789.9 556.2L794.6 554.2L796.1 553.2L796.9 552.2L797.1 551.2L796.7 550.2L795.8 549.2L794.3 548.2L790.4 546.2L776.4 540.2L772.6 538.2L769.6 536.2L767.4 534.2L765.9 532.2L765 530.2L764.9 529.2L765 527.2L765.7 525.2L767.6 522.2L769.3 520.2L777.2 512.2L779.4 509.2L780.9 506L781.7 503.2L782.1 500.2L782.2 497.2L781.9 483.2L782.3 478.2L783.1 473.2L784.3 468.2L786.4 462.2L788.5 457.2L791.2 452.2L794.3 447.2L797.9 442.2L801.9 437.2L806.6 432.2L811.9 427.2L816.8 423.2L822.3 419.2L827.9 415.7L831.9 413.5L835.9 411.7L839.9 410.4L842.9 409.8L845.9 409.6L848.9 409.8L857.9 411.3L862.9 411.8L866.9 411.9L869.9 411.7L873.9 411.2L878 410.2L880.9 409.2L886.9 406.7L889.9 405.7L892.9 405.2L895.9 405.3L899.9 405.9L909.9 408.1L926.9 411.3L935.9 413.7L938.9 414.7L941.8 416.2L942.6 417.2L942.5 418.2L939.9 421L938.3 423.2L937.5 425.2L937.4 427.2L938.2 429.2L939.9 431L941.9 432.2L944.9 433.2L947.9 433.4L950.9 433.2L953.9 432.3L955.8 431.2L957.1 430.2L958 429.2L959.1 427.2L959.6 425.2L959.8 422.2L960.1 421.2L960.9 420.5L961.9 420.1L965.9 419.8L972.9 420.2L982.9 421.3L988.9 422.2L994.9 423.5L1000.9 425.3L1009.2 428.2L1016.6 431.2ZM923.2 479.2L924 480.2L925.9 480.9L927.9 481.3L930.9 481.4L933.9 481.2L935.9 480.8L937.4 480.2L938.2 479.2L937.4 478.2L935.9 477.6L933.9 477.2L930.9 477L927.9 477.1L925.9 477.5L924 478.2ZM940.4 517.2L942.7 518.2L946.9 518.8L949.9 518.9L952.9 518.8L956.9 518.1L958.8 517.2L958.6 516.2L955.9 515.3L952.9 514.9L949.9 514.7L946.9 514.8L943.5 515.2L940.6 516.2ZM879.9 552.2L881.1 553.2L887.9 553.9L894.9 554.1L901.9 554L910 553.2L911.6 552.2L906.3 551.2L895.9 550.8L885.5 551.2ZM943 552.2L944.9 553.2L948.9 553.8L953.9 554.2L961.9 554.4L969.9 554.2L974.9 553.7L978.6 553.2L980.8 552.2L978.9 551.2L974.9 550.6L968.9 550.1L961.9 549.9L955.9 550.1L948.9 550.6L945.2 551.2Z"/><path fill="#0038ff" d="M1022.9 446.1L1022.9 525.3L1017.5 527.2L1005.9 530.7L1002 532.2L998.9 533.7L994.8 536.2L991.1 539.2L989.3 541.2L988.7 542.2L988.5 543.2L988.9 544.2L990.1 545.2L992.9 546.6L997.9 548.3L1005.6 550.2L1022.9 553.5L1023.2 582.2L1022.9 606.7L1007.9 608.8L988.9 610.8L966.9 612.4L944.9 613.5L910.9 614.5L870.9 615.3L846.9 615.3L824.9 614.8L807.9 613.9L792.9 612.6L777.9 610.8L764.9 608.6L752.9 605.8L747.9 604.3L742.9 602.5L738.9 600.9L735.5 599.2L732.2 597.2L729.9 595.5L729.9 581.3L734 578.2L738.9 575.4L743.9 573L748.9 571L754.9 568.9L761.9 566.8L773.9 563.6L797.4 558.2L805 556.2L810.4 554.2L812 553.2L813 552.2L813.3 551.2L813 550.2L812.3 549.2L809.7 547.2L805.9 545.2L790.9 538.4L785.6 535.2L783.3 533.2L781.8 531.2L781.1 529.2L781 527.2L781.6 525.2L782.6 523.2L787.6 516.2L789.5 513.2L790.8 510.2L791.4 508.2L791.9 505.2L792.1 502.2L791.3 486.2L791.4 481.2L791.9 476.2L793 470.2L794.4 465.2L796.2 460.2L798.5 455.2L801.2 450.2L805.1 444.2L809.8 438.2L814.4 433.2L819.8 428.2L824.9 424.2L829.9 420.8L835.9 417.4L838.9 416L841.9 414.9L844.9 414.1L847.9 413.6L851.9 413.4L862.9 413.8L868.9 413.6L875.9 412.9L886.9 410.6L890.9 409.9L894.9 409.8L899.9 410.3L906.9 411.6L915.9 414L924.9 416.9L930.3 419.2L931.9 420.3L932.9 421.5L933.6 423.2L934.6 427.2L935.6 429.2L936.4 430.2L937.3 431.2L938.9 432.4L940.9 433.5L942.9 434.2L944.9 434.7L947.9 435L950.9 435L952.9 434.7L956.9 433.7L964.9 430.5L967.9 429.9L972.9 430.1L984.9 431.6L990.9 432.6L995.9 433.7L1000.9 435.1L1005.9 436.8L1010.9 438.9L1014.9 440.9L1018.9 443.3ZM922.1 479.2L922.7 480.2L925.1 481.2L927.9 481.7L930.9 481.9L933.9 481.7L937 481.2L939.3 480.2L940 479.2L939.3 478.2L937 477.2L933.9 476.7L930.9 476.5L927.9 476.7L925.1 477.2L922.7 478.2ZM938.2 517.2L939.8 518.2L942.9 519L946.9 519.5L950.9 519.6L954.9 519.4L957.9 519L961.1 518.2L962.5 517.2L962.2 516.2L959.9 515.2L954.9 514.3L949.9 514.1L944.9 514.4L940.5 515.2L938.4 516.2ZM876.1 552.2L877.1 553.2L881.9 553.9L887.9 554.4L895.9 554.5L903.9 554.4L909.9 553.9L915.6 553.2L917.7 552.2L914 551.2L910.9 550.9L903.9 550.5L896.9 550.4L889.9 550.5L880.3 551.2ZM936.7 552.2L939.2 553.2L945.9 554.2L955.9 554.8L965.9 554.9L977.9 554.2L985.4 553.2L988.6 552.2L989.1 551.2L987.9 550.6L985.9 550L981.9 549.4L971.9 548.7L960.9 548.6L953.9 549L944.9 549.8L938 551.2Z"/><path fill="#0048ff" d="M730.9 588.2L731.4 586.2L732.5 584.2L734.2 582.2L736.5 580.2L739.4 578.2L742.9 576.2L750.9 572.7L761.9 568.9L773.9 565.6L786.9 562.7L809.4 558.2L817.4 556.2L820.4 555.2L822.6 554.2L824.1 553.2L824.9 552.2L825.1 551.2L824.7 550.2L824 549.2L822.8 548.2L818.1 545.2L806.3 539.2L801 536.2L798.2 534.2L796.9 533L795.4 531.2L794.4 529.2L794 527.2L794.2 524.2L797.7 514.2L798.3 511.2L798.7 508.2L798.7 503.2L797.7 491.2L797.5 486.2L797.6 481.2L798.1 476.2L798.7 472.2L799.9 467.2L801.6 462.2L803.2 458.2L805.1 454.2L807.3 450.2L809.9 446.2L812.8 442.2L815.9 438.4L818.9 435.2L822 432.2L825.9 428.9L829.9 425.9L833.9 423.3L837.9 421L841.9 419L846.9 417.3L852.3 416.2L856.9 415.8L870.9 415.3L887.9 413.5L891.9 413.4L894.9 413.6L898.9 414.1L902.9 414.9L908.9 416.5L914.9 418.4L921.9 420.9L925.9 422.8L928.9 424.8L933.4 430.2L935.5 432.2L938.9 434.4L942.9 436L945.9 436.7L948.9 437.1L960.9 437.3L965.9 437.8L988.9 441.7L994.9 443.1L1000.9 445L1007.9 448.1L1013.3 451.2L1018.5 455.2L1022.9 459.6L1022.9 513.4L1018.9 517.4L1016.7 519.2L1013.8 521.2L1010.1 523.2L1005.5 525.2L999.7 527.2L990.9 529.8L982.9 531.6L964.9 534.4L959.9 535.6L954.5 537.2L949.4 539.2L945.5 541.2L942.7 543.2L941.8 544.2L941.3 545.2L940.8 547.2L939.1 548.2L935.5 549.2L929.9 550.3L925.9 550.7L903.9 549.9L895.9 549.9L887.9 550.1L875.8 551.2L872.3 552.2L873.2 553.2L876.9 553.9L881.9 554.4L889.9 554.8L898.9 554.9L906.9 554.7L914.6 554.2L922.9 553.4L927.9 553.1L931.9 553.4L939.9 554.3L948.9 555L956.9 555.3L965.9 555.4L976.9 555L993.9 553.7L999.9 553.5L1003.9 553.6L1008.9 554L1014.9 554.8L1022.9 556.2L1023.1 582.2L1022.9 605.2L1005.9 607.6L985.9 609.7L961.9 611.4L937.9 612.5L892.9 613.6L862.9 614L836.9 613.8L813.9 612.8L796.9 611.5L780.9 609.6L773.9 608.5L765.9 607L759.9 605.6L753.9 604L748.5 602.2L743.5 600.2L739.5 598.2L736.4 596.2L733.9 594.2L732.2 592.2L731.2 590.2ZM921.1 479.2L921.6 480.2L923.9 481.3L927.9 482.1L931.9 482.3L935.9 482L939.3 481.2L941.2 480.2L941.8 479.2L941.3 478.2L939.4 477.2L935.9 476.4L931.9 476.1L927.9 476.3L923.9 477.1L921.6 478.2ZM936.3 517.2L937.9 518.4L941.9 519.5L945.9 520.1L951.9 520.4L957.9 520.1L961.9 519.6L963.9 519L965.8 518.2L966.6 517.2L966.2 516.2L964.5 515.2L962.9 514.7L957.9 513.8L951.9 513.5L945.9 513.7L940.9 514.5L938.2 515.2L936.5 516.2Z"/><path fill="#0058ff" d="M735.4 588.2L735.8 586.2L736.9 584.2L738.7 582.2L741.1 580.2L744.2 578.2L747.9 576.2L752.9 574L757.9 572.1L768.9 568.6L780.9 565.7L794.9 562.8L814.9 559.2L824.2 557.2L830.7 555.2L832.9 554.2L834.3 553.2L834.9 552.2L834.9 551.2L834.3 550.2L833.3 549.2L829 546.2L816 539.2L809.9 535.4L806.2 532.2L804.7 530.2L803.6 528.2L803.1 526.2L802.9 523.2L804 513.2L804 508.2L803.8 504.2L802.2 489.2L802.1 484.2L802.4 479.2L803 474.2L803.8 470.2L805.2 465.2L806.6 461.2L808.3 457.2L810.9 452.2L813.3 448.2L816.2 444.2L819.4 440.2L822.2 437.2L825.9 433.7L829.9 430.3L833.9 427.4L837.9 424.9L841.9 422.8L845.9 421L850.9 419.3L856.9 418.2L862.9 417.6L884.9 416.2L890.9 416.4L895.9 417L901.9 418.3L907.9 420L916.9 423.2L923.9 426.3L926.9 428.2L934.9 434.4L937.9 436.1L941.9 437.8L952.8 441.2L965.9 445.9L972.9 447.7L989.9 451.5L995.9 453.4L1000.9 455.5L1004.1 457.2L1007.3 459.2L1009.9 461.2L1012.9 463.9L1015 466.2L1017.2 469.2L1019 472.2L1020.4 475.2L1021.4 478.2L1022.1 481.2L1022.4 484.2L1022.5 487.2L1022.3 490.2L1021.8 493.2L1020.2 498.2L1018.9 500.9L1017.6 503.2L1015.9 505.6L1013.7 508.2L1011.6 510.2L1008.9 512.4L1005.9 514.5L1002.9 516.2L997.9 518.4L991.9 520.4L985.9 521.7L973.9 523.7L968.9 524.7L961.9 526.7L955.9 528.9L950.9 531L945.9 533.4L935.4 539.2L929.2 543.2L927 545.2L925.1 547.2L923 548.2L919.9 548.7L914.9 549.1L892.9 549.5L881.9 550L871.9 551.1L867.9 552.2L868.7 553.2L873.9 554.2L885.9 555.1L901.9 555.3L926.9 554.3L932.9 554.5L947.9 555.5L958.9 555.8L969.9 555.8L989.9 555.2L996.9 555.2L1001.9 555.4L1007.9 556L1022.9 558.2L1023.1 582.2L1022.9 603.8L1004.9 606.5L986.9 608.5L967.9 609.9L944.9 611.1L914.9 612L866.9 612.9L840.9 612.8L817.9 611.9L800.9 610.7L784.9 608.8L770.9 606.5L758.9 603.6L753.9 602.1L748.9 600.2L744.6 598.2L741.2 596.2L738.6 594.2L736.8 592.2L735.7 590.2ZM920.2 479.2L920.9 480.4L922.3 481.2L923.9 481.7L927.9 482.4L931.9 482.7L935.9 482.4L939.9 481.7L941.6 481.2L943.2 480.2L943.8 479.2L943.3 478.2L941.7 477.2L939.9 476.6L935.9 475.9L931.9 475.7L927.9 475.9L923.9 476.7L922.3 477.2L920.9 478ZM934.6 517.2L935.5 518.2L936.9 518.9L940.9 520.1L946.9 521L955.9 521.7L962.9 521.6L967.9 520.9L969.9 520.4L971.9 519.5L973.2 518.2L973.2 517.2L972.3 516.2L970.5 515.2L965.9 513.9L962.9 513.4L955.9 512.9L947.9 513L940.9 513.9L936.3 515.2L934.8 516.2Z"/><path fill="#0068ff" d="M739.3 588.2L739.7 586.2L740.9 584.2L742.7 582.2L745.2 580.2L748.4 578.2L752.3 576.2L756.9 574.2L761.9 572.4L773.9 568.8L786.9 565.8L797.9 563.7L824.2 559.2L833.6 557.2L837.3 556.2L843 554.2L845 553.2L845.7 552.2L845 551.2L840.4 548.2L824.9 540L818.6 536.2L815.9 534.2L813.9 532.4L811.3 529.2L809.9 526.2L809 522.2L808.5 510.2L806.3 493.2L805.9 488.2L805.9 484.2L806.1 479.2L806.6 475.2L807.6 470.2L809 465.2L810.4 461.2L812.7 456.2L814.8 452.2L817.4 448.2L820.3 444.2L823.8 440.2L826.9 437L830.9 433.5L834.9 430.5L838.9 427.9L842.9 425.6L847.9 423.3L853.9 421.3L860.9 419.9L870.9 419L881.9 418.6L887.9 418.9L893.9 419.6L900.9 421.2L907.9 423.3L915.9 426.4L922.9 429.7L935.9 437.8L944.1 442.2L956.9 449.7L962.9 452.9L966.9 454.7L971.9 456.6L988.9 462.1L992.9 463.8L995.6 465.2L999.9 468L1003.5 471.2L1006 474.2L1008.2 478.2L1009.5 482.2L1009.8 484.2L1009.9 487.2L1009.3 491.2L1007.9 495.2L1005.9 498.7L1002.9 502.2L999.2 505.2L994.9 507.8L991.7 509.2L987.9 510.6L983.9 511.6L980.2 512.2L975.9 512.4L961.9 511.9L952.9 512L943.9 512.8L939.9 513.5L936.9 514.2L934.5 515.2L933.2 516.2L932.9 517.2L933.6 518.2L935.3 519.2L936.9 519.9L939.9 520.8L946.1 522.2L949.1 523.2L949.8 524.2L949.2 525.2L946.3 527.2L921.5 542.2L914.9 546.5L912.9 547.3L907.9 548.2L875.9 549.9L864.8 551.2L861.3 552.2L862.3 553.2L867.7 554.2L874.9 554.9L882.9 555.4L899.9 555.8L926.9 555.2L956.9 556.3L991.9 556.3L998.9 556.7L1006.9 557.5L1022.9 559.8L1023.1 582.2L1022.9 602.7L1004.9 605.4L986.9 607.4L968.9 608.9L946.9 610L917.9 611L869.9 611.9L843.9 611.8L820.9 611L802.9 609.7L786.9 607.9L773.9 605.7L767.9 604.4L761.9 602.9L756.9 601.3L752.9 599.9L749.2 598.2L745.6 596.2L742.8 594.2L740.9 592.2L739.7 590.2ZM919.3 479.2L919.8 480.2L920.9 481L923.9 482.1L927.9 482.8L932.9 483L937.9 482.7L941.9 481.9L944 481.2L945.6 480.2L946.1 479.2L945.7 478.2L944.3 477.2L941.9 476.4L937.9 475.6L932.9 475.3L927.9 475.6L923.9 476.3L920.9 477.4L919.8 478.2Z"/><path fill="#0078ff" d="M809.2 481.2L809.8 475.2L811.1 469.2L812.9 463.2L815.5 457.2L818.9 451.2L822.4 446.2L826.9 441L832 436.2L837.2 432.2L842.9 428.7L848.9 425.7L853.9 423.9L859.9 422.4L865.9 421.5L872.9 420.9L880.9 420.9L886.9 421.3L891.9 422L896.9 423L902.9 424.6L908.9 426.7L913.9 428.7L919.9 431.6L924.9 434.4L935.6 441.2L941.4 445.2L958.9 458.7L965.9 463.9L980.4 473.2L983.2 475.2L985.9 477.5L988.2 480.2L989.7 483.2L990.2 486.2L989.9 488.7L988.9 491.2L987.5 493.2L985.5 495.2L983 497.2L979.8 499.2L964.2 508.2L961.9 509.2L958 510.2L945.9 511.8L939.9 512.8L935.9 513.9L932.7 515.2L931.6 516.2L931.3 517.2L931.8 518.2L933.9 519.7L940 522.2L941.4 523.2L941.6 524.2L940.9 525.2L935.6 529.2L926.9 534.8L918.9 539.4L907.9 545.3L905.9 546.2L902.4 547.2L895.9 547.9L864.9 549.9L857.9 550.1L853.9 549.7L849.9 548.6L840.9 544.6L832.9 540.8L827.9 538.1L823.4 535.2L819.7 532.2L817.1 529.2L815.8 527.2L814.9 525.2L814.2 523.2L813.5 520.2L812.1 509.2L809.6 493.2L809.1 487.2ZM918.5 479.2L918.9 480.2L919.9 481L922.9 482.2L927.9 483.1L933.9 483.4L939.9 483L944.3 482.2L947.1 481.2L948.6 480.2L949.1 479.2L948.8 478.2L947.5 477.2L944.9 476.2L939.9 475.2L933.9 474.9L927.9 475.2L922.9 476.1L919.9 477.4L918.9 478.2ZM742.9 588.2L743.3 586.2L744.5 584.2L746.3 582.2L749.9 579.6L753.9 577.3L757.9 575.5L762.9 573.5L768.9 571.6L779.9 568.6L792.9 565.8L804.9 563.7L832.8 559.2L838.1 558.2L849.9 555.5L853.9 554.9L856.9 554.7L860.9 554.8L877.9 555.7L889.9 556.1L925.9 556.1L953.9 556.9L986.9 557.3L995.9 557.8L1004.9 558.6L1013.9 559.8L1022.9 561.2L1023.1 582.2L1022.9 601.6L1014.9 603L1004.9 604.4L985.9 606.6L967.9 608L942.9 609.3L921.9 610L884.9 610.9L862.9 611.1L843.9 610.9L827.9 610.4L811.9 609.5L795.9 608L783.9 606.4L771.9 604.1L761.9 601.4L757.9 600.1L753.9 598.4L750.9 597L748 595.2L745.9 593.6L744.6 592.2L743.3 590.2Z"/><path fill="#0087ff" d="M853.9 426.4L857.9 425.2L861.9 424.3L865.9 423.6L870.9 423.2L875.9 423L880.9 423.1L885.9 423.6L890.9 424.3L895.9 425.3L899.9 426.4L908.9 429.5L913.9 431.7L917.9 433.7L922.4 436.2L926.9 439L935.5 445.2L940.4 449.2L944.9 453.2L949 457.2L953.7 462.2L957.2 466.2L960.1 470.2L961.4 473.2L961.6 474.2L961.6 477.2L961.7 478.2L962.4 479.2L964.9 482L965.6 483.2L966.1 484.2L966.5 486.2L966.5 488.2L965.8 491.2L964.5 494.2L962.7 497.2L960.6 500.2L957.4 504.2L954.6 507.2L953.4 508.2L951.6 509.2L948.7 510.2L937.9 512.6L934.9 513.5L931.9 514.7L931.1 515.2L930 516.2L929.6 517.2L930 518.2L931.9 519.9L935.5 522.2L936.1 523.2L935.8 524.2L934.9 525.2L932.5 527.2L924.9 532.4L915.9 537.6L905.9 542.5L900.9 544.6L896.9 545.9L890.4 547.2L877.3 548.2L866.9 548.5L862.9 548.4L859.9 548.1L856.9 547.5L853.9 546.7L844.9 543.4L836.9 539.8L829.9 536L827.3 534.2L824.9 532.2L821.9 529.2L820.5 527.2L819.4 525.2L818.5 523.2L817.5 520.2L813.5 500.2L812.2 491.2L811.9 486.2L812 481.2L812.5 476.2L813.2 472.2L814.2 468.2L815.5 464.2L818.5 457.2L820.8 453.2L822.7 450.2L827.4 444.2L830.3 441.2L833.5 438.2L836.9 435.5L839.9 433.4L842.9 431.5L846.9 429.3ZM917.7 479.2L918.1 480.2L919.3 481.2L922.9 482.6L928.9 483.6L934.9 483.9L941.9 483.5L947.9 482.5L952.5 481.2L954.6 480.2L955.7 479.2L955.6 478.2L954 477.2L949.9 475.9L942.9 474.8L934.9 474.4L927.9 474.8L922.9 475.8L920.9 476.4L919.2 477.2L918.1 478.2ZM746.1 588.2L746.5 586.2L747.8 584.2L749.9 582L753.9 579.2L757.7 577.2L762.4 575.2L767.9 573.2L773.9 571.4L784.9 568.6L798.9 565.8L835.1 560.2L853.9 557L857.9 556.4L862.9 556.1L868.9 556.1L890.9 556.7L924.9 556.9L980.9 558.1L991.9 558.6L1002.9 559.6L1012.9 560.8L1022.9 562.4L1023.1 582.2L1022.9 600.6L1014.9 602L1004.9 603.5L984.9 605.8L963.9 607.5L943.9 608.5L917.9 609.4L885.9 610.1L863.9 610.3L844.9 610.1L828.9 609.7L812.9 608.7L798.9 607.4L785.9 605.7L774.9 603.6L764.9 601L757.3 598.2L753.9 596.6L751.5 595.2L748.9 593.2L747.9 592.1L746.6 590.2Z"/><path fill="#0097ff" d="M882.9 425.5L886.9 425.9L891.9 426.8L896.9 428L901.9 429.5L905.9 430.9L910.9 433.1L915.9 435.5L919.9 437.8L924.9 441L928.9 443.9L936.5 450.2L940.6 454.2L944.3 458.2L947.5 462.2L950.3 466.2L951.9 469.2L952.1 470.2L952.1 471.2L951.6 472.2L949.9 473.2L945.9 473.7L931.9 474L926.9 474.6L923.9 475.1L920.3 476.2L917.9 477.6L917.3 478.2L916.9 479.2L917.3 480.2L917.9 480.7L919.9 481.9L921.9 482.7L924.9 483.4L928.9 484L936.9 484.4L948.9 484.1L950.9 484.2L952.9 484.5L954.7 485.2L955.8 486.2L956.4 487.2L956.6 488.2L956.6 490.2L955.5 494.2L953.8 498.2L950.9 503.2L947.9 507.2L946.9 508.2L945.5 509.2L943.2 510.2L933.9 513.1L931.1 514.2L929.4 515.2L928.3 516.2L928 517.2L928.2 518.2L928.9 519.3L930.9 521.2L931.6 522.2L931.6 523.2L930.9 524.3L927.9 526.9L923.9 529.7L918.9 532.9L911.9 536.7L904.9 539.9L896.9 542.9L889.9 544.9L882.9 546.1L875.9 546.6L868.9 546.6L862.9 546L856.9 544.7L849.9 542.6L843.9 540.4L837.9 537.6L833.7 535.2L829.5 532.2L826.3 529.2L824 526.2L821.9 522.2L820.1 517.2L817.4 506.2L815.6 497.2L814.7 491.2L814.4 486.2L814.6 480.2L815.2 475.2L816.5 469.2L818.1 464.2L820.3 459.2L823 454.2L826.4 449.2L829.9 445L833.9 441L838.9 436.8L843.9 433.5L848.9 430.9L853.9 428.8L859.9 426.9L864.9 425.9L870.9 425.3L876.9 425.2ZM749.2 588.2L749.6 586.2L750.8 584.2L752.9 582.1L756.9 579.4L761.1 577.2L765.9 575.2L770.9 573.4L776.9 571.6L788.9 568.7L804.9 565.7L853.9 558.6L861.9 557.6L868.9 557.2L879.9 557.2L976.9 558.8L989.9 559.5L1001.9 560.5L1011.9 561.8L1022.9 563.5L1023.1 582.2L1022.9 599.6L1012.9 601.5L1003.9 602.8L990.9 604.4L979.9 605.5L961.9 606.9L940.9 607.9L915.9 608.7L879.9 609.4L860.9 609.6L843.9 609.4L827.9 608.9L813.9 608L799.9 606.7L787.9 605L776.9 603L767.9 600.6L760.9 598.2L757.9 596.8L754.9 595.2L752.2 593.2L750.9 591.9L749.7 590.2Z"/><path fill="#00a7ff" d="M861.9 428.6L866.9 427.7L872.9 427.3L879.9 427.4L885.9 428L891.9 429L897.9 430.6L903.9 432.6L909.9 435.1L915.8 438.2L920.9 441.4L926.2 445.2L931 449.2L936.2 454.2L940.5 459.2L944.1 464.2L945.3 466.2L946.2 468.2L946.4 469.2L946.3 470.2L945.7 471.2L943.6 472.2L939.9 472.8L928.9 473.9L922.9 475L919.9 475.9L917.9 476.9L916.5 478.2L916.2 479.2L916.5 480.2L917.6 481.2L919.9 482.4L922.9 483.3L925.9 483.9L930.9 484.6L944.9 485.5L947.8 486.2L949.5 487.2L950.2 488.2L950.5 490.2L950.3 492.2L949.7 494.2L948.7 497.2L947.3 500.2L945.7 503.2L943.7 506.2L942.1 508.2L940.8 509.2L939 510.2L930.9 513.4L927.6 515.2L926.7 516.2L926.3 517.2L926.3 518.2L927.8 521.2L927.9 522.2L927.5 523.2L925.6 525.2L921.9 528L915.9 531.8L908.9 535.6L901.9 538.6L894.9 541L888.9 542.5L882.9 543.6L876.9 544.2L870.9 544.3L865.9 543.9L859.9 543L853.9 541.6L847.9 539.6L842.9 537.5L837.9 534.9L833.8 532.2L830.3 529.2L827.7 526.2L825.2 522.2L823.5 518.2L821.9 513.2L819.3 503.2L817.8 496.2L817 490.2L816.7 484.2L817.1 478.2L818.1 472.2L819.8 466.2L822.3 460.2L825.6 454.2L829.2 449.2L833.7 444.2L838.9 439.6L843.9 436L849.9 432.8L855.9 430.3ZM752 588.2L752.4 586.2L753.7 584.2L755.9 582L759.9 579.4L764.3 577.2L768.9 575.3L773.9 573.6L780.9 571.6L793.9 568.6L810.9 565.7L846.9 560.8L863.9 558.8L873.9 558.2L886.9 558.1L957.9 559.2L973.9 559.6L988.9 560.4L1000.9 561.4L1011.9 562.7L1022.9 564.5L1023.1 582.2L1022.9 598.7L1012.9 600.6L1001.9 602.3L990.9 603.7L978.9 604.9L958.9 606.3L938.9 607.3L918.9 607.9L882.9 608.7L863.9 608.9L846.9 608.8L831.9 608.3L816.9 607.5L803.9 606.3L790.9 604.7L779.9 602.6L770.9 600.4L766.9 599.1L762.9 597.6L759.9 596.2L756.9 594.5L755.2 593.2L753.3 591.2L752.2 589.2Z"/><path fill="#00b7ff" d="M858.9 431.5L863.9 430.3L869.9 429.4L874.9 429.2L880.9 429.5L886.9 430.2L892.9 431.4L898.9 433L904.9 435.3L910.9 438.1L915.9 440.9L920.9 444.2L926 448.2L930.3 452.2L934.9 457.2L938.7 462.2L941.1 466.2L941.9 468.2L942 469.2L941.6 470.2L940.4 471.2L937.1 472.2L926.9 473.7L920.9 475.2L918.3 476.2L916.6 477.2L915.7 478.2L915.4 479.2L915.8 480.2L916.9 481.3L918.9 482.4L921.9 483.4L927.9 484.6L940.7 486.2L943.9 487.2L944.9 488L945.7 489.2L945.9 490.2L945.7 492.2L944.6 496.2L942.5 501.2L939.6 506.2L938 508.2L937 509.2L933.5 511.2L927.9 513.8L925.9 515.2L925 516.2L924.5 517.2L924.4 518.2L924.8 521.2L924.5 522.2L922.7 524.2L918.9 527.1L914.9 529.7L910.6 532.2L905.9 534.5L900.9 536.6L894.9 538.7L888.9 540.2L882.9 541.3L876.9 541.9L870.9 542.1L865.9 541.8L859.9 540.9L853.9 539.4L847.9 537.4L842.9 535.1L837.9 532.2L834.1 529.2L831.2 526.2L829 523.2L826.9 519.2L824.2 512.2L821.6 503.2L820 496.2L819.2 490.2L818.9 484.2L819.3 478.2L820.3 472.2L822.1 466.2L824.7 460.2L828.1 454.2L831.9 449.2L836.6 444.2L841.4 440.2L846.9 436.6L852.9 433.6ZM754.7 588.2L755.1 586.2L756.4 584.2L758.9 581.9L762.9 579.3L767.3 577.2L771.9 575.4L777.9 573.4L783.9 571.8L797.9 568.7L814.9 565.9L839.9 562.6L863.9 560L875.9 559.3L889.9 559.2L953.9 559.9L971.9 560.3L984.9 560.9L998.9 562.1L1011.9 563.6L1022.9 565.5L1023.1 582.2L1022.9 597.8L1012.9 599.8L1000.9 601.7L986.9 603.4L974.9 604.6L957.9 605.8L937.9 606.7L912.9 607.5L880.9 608.1L861.9 608.3L844.9 608.1L830.9 607.6L816.9 606.8L803.9 605.6L791.9 604L780.9 601.9L772.9 599.9L765.2 597.2L761.9 595.6L759.5 594.2L757.9 593L756 591.2L754.9 589.2Z"/><path fill="#00c7ff" d="M880.9 431.4L887.9 432.3L893.9 433.6L899.9 435.5L905.9 438L911.9 441L917.9 444.9L922.9 448.7L927.8 453.2L932.2 458.2L935.9 463.2L938 467.2L938.2 468.2L938.2 469.2L937.6 470.2L936 471.2L932.5 472.2L923.9 473.9L920.9 474.7L917.9 475.9L915.8 477.2L915 478.2L914.7 479.2L915 480.2L915.9 481.2L917.5 482.2L920.9 483.5L925.9 484.7L935.3 486.2L939.2 487.2L940.9 488.2L941.7 489.2L942 490.2L942 492.2L940.9 496.2L939.3 500.2L936.6 505.2L934.5 508.2L932.3 510.2L925.9 513.8L924 515.2L923.1 516.2L922.6 517.2L921.9 520.8L920.9 522.4L919 524.2L916.9 525.8L910.9 529.6L904.9 532.7L898.9 535.2L891.9 537.4L885.9 538.8L879.9 539.7L872.9 540.1L866.9 539.9L860.9 539.1L855.9 537.9L850.9 536.4L845.9 534.3L842 532.2L838.9 530.1L835.5 527.2L832.9 524.3L830.9 521.4L828.3 516.2L826 510.2L823.8 503.2L822.1 496.2L821.2 490.2L821 485.2L821.1 480.2L821.8 475.2L823 470.2L824.6 465.2L826.9 460.2L829.2 456.2L832 452.2L835.4 448.2L838.9 444.8L842.9 441.5L846.9 438.9L851.9 436.2L855.9 434.5L860.9 432.9L865.9 431.8L870.9 431.3L875.9 431.2ZM757.3 588.2L757.4 587.2L757.7 586.2L758.9 584.2L761.1 582.2L764 580.2L767.9 578.2L772.7 576.2L777.9 574.4L783.9 572.7L796.9 569.7L813.9 566.8L837.9 563.7L859.9 561.4L872.9 560.5L888.9 560.1L947.9 560.6L967.9 560.9L983.9 561.6L997.9 562.8L1011.9 564.5L1022.9 566.4L1023.1 582.2L1022.9 597L1013.9 598.9L1001.9 600.9L988.9 602.6L974.9 603.9L958.9 605.1L938.9 606.1L916.9 606.8L881.9 607.5L863.9 607.7L847.9 607.5L832.9 607.1L819.9 606.3L805.9 605.1L794.9 603.7L783.9 601.7L774.9 599.5L767.9 597L764.9 595.7L762.3 594.2L759.9 592.4L758.7 591.2L757.5 589.2Z"/><path fill="#00d7ff" d="M874.9 433L881.9 433.4L887.9 434.2L893.9 435.6L899.9 437.6L905.9 440.2L911.9 443.4L917.5 447.2L922.4 451.2L927.3 456.2L931.3 461.2L934.3 466.2L935 468.2L934.8 469.2L934.1 470.2L932.4 471.2L929.2 472.2L921.9 474L918.9 475L916.9 475.9L915 477.2L914.2 478.2L914 479.2L914.3 480.2L915.1 481.2L916.6 482.2L919.9 483.6L923.9 484.7L931.4 486.2L935.2 487.2L937.3 488.2L938.2 489.2L938.6 490.2L938.7 491.2L938.2 494.2L936.5 499.2L934.5 503.2L932.1 507.2L930.4 509.2L929.3 510.2L923.9 513.8L922.1 515.2L920.6 517.2L919.3 520.2L918.7 521.2L916.6 523.2L912.9 525.9L907.4 529.2L901.9 531.9L896.9 533.9L890.9 535.7L884.9 537L878.9 537.9L872.9 538.2L867.9 538.1L862.9 537.5L857.9 536.5L852.9 535L848.3 533.2L844.5 531.2L840.9 528.8L837.8 526.2L835.1 523.2L832.4 519.2L830.3 515.2L827.9 509.2L825.6 502.2L824.1 496.2L823.3 491.2L822.9 486.2L823 481.2L823.6 476.2L824.4 472.2L826 467.2L827.6 463.2L830.2 458.2L832.9 454.2L835.9 450.4L839 447.2L842.9 443.9L846.9 441L850.9 438.7L855.9 436.5L859.9 435.1L864.9 433.9L869.9 433.2ZM759.8 588.2L759.8 587.2L760.1 586.2L761.4 584.2L763.6 582.2L766.6 580.2L770.6 578.2L775.5 576.2L780.9 574.4L786.9 572.7L800.9 569.7L817.9 566.9L842.9 563.9L861.9 562.1L874.9 561.3L891.9 561L946.9 561.2L968.9 561.7L984.9 562.4L998.9 563.6L1011.9 565.3L1022.9 567.3L1023 582.2L1022.9 596.2L1011.9 598.5L999.9 600.5L984.9 602.4L970.9 603.7L953.9 604.8L934.9 605.7L879.9 607L861.9 607.1L846.9 606.9L832.9 606.5L819.9 605.7L806.9 604.6L795.9 603.1L785.9 601.3L777.4 599.2L770.9 597L767.9 595.7L765 594.2L762.9 592.7L761.2 591.2L760 589.2Z"/><path fill="#00e7ff" d="M868.9 435.1L874.9 434.8L881.9 435.2L888.9 436.3L894.9 437.8L900.9 440L906.9 442.8L912.5 446.2L917.9 450.2L922.3 454.2L926.8 459.2L930.3 464.2L931.4 466.2L932 468.2L931.8 469.2L931 470.2L929.3 471.2L918.9 474.5L915.5 476.2L914.2 477.2L913.4 478.2L913.2 479.2L913.5 480.2L914.3 481.2L915.7 482.2L918.9 483.7L921.9 484.6L931.9 487.2L934.1 488.2L935.1 489.2L935.6 490.2L935.7 491.2L935.2 494.2L933.5 499.2L931.5 503.2L929.1 507.2L926.4 510.2L920 515.2L918.4 517.2L916.5 520.2L913.9 522.6L910.3 525.2L905.9 527.8L901.9 529.8L896.9 531.9L891.9 533.5L887.9 534.5L882.9 535.5L877.9 536.1L872.9 536.4L867.9 536.3L862.9 535.7L857.9 534.6L852.9 533L848.7 531.2L844.9 529L840.9 526L838.1 523.2L835.7 520.2L833.3 516.2L830.9 511.2L828.6 505.2L827 500.2L825.7 494.2L825 489.2L824.8 484.2L825.1 479.2L825.7 475.2L826.9 470.2L828.7 465.2L830.6 461.2L833 457.2L836 453.2L839.6 449.2L842.9 446.2L846.9 443.2L850.9 440.8L854.9 438.8L859.9 437L863.9 436ZM762.1 587.2L763 585.2L764.8 583.2L767.4 581.2L769.9 579.8L773.2 578.2L778.3 576.2L783.9 574.4L789.9 572.8L803.9 569.8L818.9 567.5L840.9 564.8L861.9 562.8L877.9 562L893.9 561.7L943.9 561.8L968.9 562.3L984.9 563.1L999.9 564.4L1011.9 566.1L1022.9 568.2L1023 582.2L1022.9 595.4L1010.9 598L996.9 600.3L982.9 602L964.9 603.6L946.9 604.6L927.9 605.4L873.9 606.5L857.9 606.5L843.9 606.3L829.9 605.8L817.9 605L805.9 603.8L794.9 602.2L785.9 600.5L777.2 598.2L770.9 595.9L767.9 594.4L766 593.2L763.9 591.4L762.9 590.2L762.4 589.2L762.1 588.2Z"/><path fill="#00f7ff" d="M865.9 437.3L869.9 436.8L874.9 436.6L879.9 436.8L884.9 437.4L889.9 438.3L893.9 439.4L898.9 441.2L902.9 442.9L906.9 445L910.9 447.4L914.7 450.2L918.3 453.2L921.3 456.2L924.7 460.2L927.5 464.2L929 467.2L929.2 468.2L929 469.2L928.3 470.2L926.7 471.2L918.9 474L915.9 475.4L914.5 476.2L913.3 477.2L912.7 478.2L912.5 479.2L912.7 480.2L913.5 481.2L915.9 482.8L919.9 484.4L929.1 487.2L931.2 488.2L932.3 489.2L932.8 490.2L932.9 491.2L932.7 493.2L932.2 495.2L931.1 498.2L929.8 501.2L926.9 506.2L925.5 508.2L923.7 510.2L917.9 515.2L913.5 520.2L911.1 522.2L908.9 523.7L903.9 526.7L897.9 529.5L891.9 531.6L885.9 533.2L880.9 534L874.9 534.6L869.9 534.6L864.9 534.2L859.9 533.2L854.9 531.8L850.9 530.1L846.9 527.9L843.9 525.8L840.9 523.1L838.4 520.2L835.7 516.2L833.1 511.2L831 506.2L828.9 500.2L827.7 495.2L826.9 490.2L826.6 485.2L826.8 480.2L827.3 476.2L828.5 471.2L829.9 467.2L832.2 462.2L834.5 458.2L837.4 454.2L840.9 450.4L844.5 447.2L847.9 444.7L852 442.2L856.9 439.9L860.9 438.5ZM764.4 587.2L765.3 585.2L767 583.2L769.8 581.2L771.9 580L775.7 578.2L780.9 576.2L785.9 574.7L791.9 573.1L803.9 570.5L820.9 567.8L839.9 565.5L860.9 563.6L876.9 562.8L893.9 562.4L941.9 562.4L966.9 562.9L983.9 563.7L997.9 564.9L1010.9 566.6L1022.9 569L1023 582.2L1022.9 594.6L1010.9 597.4L997.9 599.6L981.9 601.6L964.9 603L949.9 604L930.9 604.8L876.9 606L860.9 606L845.9 605.8L832.9 605.4L819.9 604.6L807.9 603.4L796.9 601.9L786.9 600L778.9 597.8L772.1 595.2L767.9 592.8L766 591.2L765.2 590.2L764.7 589.2L764.4 588.2Z"/><path fill="#00fff7" d="M862.9 439.8L866.9 438.9L871.9 438.4L875.9 438.3L880.9 438.6L885.9 439.3L890.9 440.4L895.9 442L899.9 443.5L903.9 445.5L908.6 448.2L912.8 451.2L915.9 453.8L919.4 457.2L922 460.2L924.9 464.2L926.4 467.2L926.6 468.2L926.5 469.2L925.8 470.2L924.3 471.2L916.9 474.3L913.9 476L912.5 477.2L911.9 478.2L911.7 479.2L912 480.2L912.7 481.2L914.9 482.8L918.9 484.6L926.7 487.2L928.6 488.2L929.7 489.2L930.2 490.2L930.4 491.2L930.1 493.2L928.9 497.2L926.6 502.2L924.2 506.2L921.9 509.2L910.4 520.2L906.9 522.7L902.7 525.2L897.9 527.5L892.9 529.4L887.9 530.9L882.9 531.9L876.9 532.7L871.9 532.9L866.9 532.6L861.9 531.9L856.9 530.5L852.9 528.9L849.5 527.2L845.9 524.8L843 522.2L840.3 519.2L837.5 515.2L835.2 511.2L833.4 507.2L831.5 502.2L830 497.2L829 492.2L828.5 487.2L828.4 482.2L829 477.2L829.8 473.2L831.4 468.2L833.1 464.2L835.3 460.2L838.1 456.2L841.6 452.2L844.9 449.1L848.9 446.1L853.8 443.2L857.9 441.4ZM766.6 587.2L767.4 585.2L768.9 583.6L770.5 582.2L773.9 580.2L778.1 578.2L782.9 576.4L787.9 574.9L793.9 573.3L807.9 570.4L824.9 567.9L843.9 565.7L862.9 564.1L878.9 563.4L898.9 563L941.9 563L967.9 563.5L984.9 564.4L998.9 565.7L1011.9 567.5L1022.9 569.8L1022.9 593.8L1010.9 596.7L995.9 599.3L978.9 601.3L960.9 602.8L944.9 603.7L925.9 604.4L873.9 605.5L858.9 605.5L844.9 605.3L831.9 604.8L819.9 604L807.9 602.8L797.9 601.4L788.9 599.7L780.9 597.5L774.6 595.2L771.9 593.8L769.5 592.2L767.9 590.7L766.9 589.2L766.6 588.2Z"/><path fill="#00ffe7" d="M874.9 440L880.9 440.3L885.9 441L891.9 442.5L896.9 444.2L901.9 446.5L906.9 449.3L911.9 452.9L915.9 456.5L919.3 460.2L922.3 464.2L923.9 467.2L924.1 468.2L924 469.2L923.4 470.2L922.2 471.2L914.9 474.7L912.7 476.2L911.7 477.2L911.1 478.2L910.9 479.2L911.2 480.2L911.9 481.2L912.9 482.1L914.9 483.4L917.9 484.7L924.4 487.2L926.2 488.2L927.3 489.2L927.7 490.2L927.8 492.2L927.1 495.2L925.6 499.2L923.5 503.2L920.9 507.2L918.4 510.2L909.8 518.2L905.8 521.2L901.9 523.5L896.9 526L892.9 527.5L887.9 529.1L882.9 530.2L877.9 530.9L872.9 531.2L868.9 531L864.9 530.6L860.9 529.8L856.9 528.5L852.9 526.8L849.9 525.1L846.9 523L843.9 520.2L841.3 517.2L838.6 513.2L836.4 509.2L834.1 504.2L832.4 499.2L831.1 494.2L830.5 490.2L830.1 485.2L830.3 481.2L830.7 477.2L831.6 473.2L832.9 469.2L834.5 465.2L836.7 461.2L838.9 458L841.9 454.3L844.9 451.4L847.9 448.9L851.9 446.2L854.9 444.6L858.9 442.8L862.9 441.5L866.9 440.7L870.9 440.2ZM768.7 587.2L769 586.2L769.6 585.2L770.9 583.7L772.7 582.2L776.1 580.2L780.5 578.2L784.9 576.6L789.9 575.1L795.9 573.5L808.9 570.9L823.9 568.6L841.9 566.5L862.9 564.7L880.9 563.9L900.9 563.6L942.9 563.6L967.9 564L984.9 565L999.9 566.4L1012.9 568.4L1022.9 570.6L1022.9 593.1L1016.9 594.7L1010.9 596.1L995.9 598.7L978.9 600.8L957.9 602.5L941.9 603.4L925.9 604L873.9 605L858.9 605.1L844.9 604.8L832.9 604.3L820.9 603.6L809.9 602.5L798.9 600.9L790.1 599.2L782.6 597.2L776.9 595.1L773.9 593.6L771.7 592.2L769.9 590.5L769.1 589.2L768.7 588.2Z"/><path fill="#00ffd7" d="M868.9 442.1L873.9 441.7L879.9 441.9L885.9 442.8L891.9 444.3L897.9 446.5L902.9 449L907.9 452.2L911.7 455.2L915.8 459.2L919.1 463.2L920.4 465.2L921.4 467.2L921.7 468.2L921.7 469.2L921.2 470.2L920.1 471.2L913.9 474.6L911.7 476.2L910.8 477.2L910.3 478.2L910.1 479.2L910.4 480.2L911 481.2L911.9 482L913.9 483.4L922.3 487.2L924 488.2L924.9 489.2L925.4 490.2L925.5 491.2L925 494.2L923.6 498.2L921.6 502.2L919.7 505.2L917.5 508.2L915.7 510.2L912.6 513.2L907.9 517.3L904.9 519.5L901.9 521.4L897.9 523.5L893.9 525.2L889.9 526.7L885.9 527.8L881.9 528.6L877.9 529.1L872.9 529.4L868.9 529.3L864.9 528.8L860.9 527.9L856.9 526.6L852.9 524.7L849.9 522.8L846.9 520.4L843.9 517.3L841.5 514.2L839 510.2L836.9 506.2L834.9 501.3L833.6 497.2L832.7 493.2L832.1 489.2L831.8 485.2L832 481.2L832.5 477.2L833.4 473.2L834.7 469.2L836.4 465.2L838.7 461.2L840.9 458.2L843.9 454.7L846.9 451.9L849.9 449.5L853.6 447.2L856.9 445.5L860.9 443.9L864.9 442.8ZM1022.9 571.5L1022.9 592.3L1016.9 594L1010.9 595.4L996.9 598L978.9 600.3L959.9 601.9L944.9 602.8L926.9 603.5L877.9 604.6L849.9 604.5L836.9 604L825.9 603.4L814.9 602.5L803.9 601.1L794.9 599.5L786.9 597.6L779.9 595.3L775.5 593.2L772.7 591.2L771.2 589.2L770.8 588.2L770.8 587.2L771.1 586.2L771.6 585.2L773.5 583.2L776.4 581.2L780.4 579.2L783.9 577.8L788.9 576.1L794.9 574.4L806.9 571.8L821.9 569.4L842.9 567L860.9 565.4L879.9 564.5L902.9 564.2L941.9 564.1L967.9 564.6L984.9 565.5L998.9 566.9L1011.9 568.9L1017.9 570.2Z"/><path fill="#00ffc7" d="M865.9 444.3L868.9 443.8L872.9 443.4L876.9 443.4L881.9 443.9L885.9 444.5L889.9 445.5L893.9 446.8L897.3 448.2L900.9 450L904.6 452.2L907.9 454.5L910.9 457.1L914 460.2L916.5 463.2L918.5 466.2L919.3 468.2L919.4 469.2L919 470.2L918.1 471.2L912.9 474.5L910.9 476.1L909.9 477.2L909.4 478.2L909.3 479.2L909.5 480.2L910.1 481.2L911.9 482.8L914.9 484.5L920.4 487.2L921.8 488.2L922.7 489.2L923.1 490.2L923.2 491.2L922.7 494.2L921.2 498.2L919.2 502.2L916.5 506.2L913.1 510.2L908.7 514.2L903.9 517.9L899.9 520.4L894.9 522.9L889.9 524.8L884.9 526.2L879.9 527.1L875.9 527.5L870.9 527.6L866.9 527.3L862.9 526.5L858.9 525.3L855.9 524L852.6 522.2L849.8 520.2L846.9 517.6L843.9 514.2L841.8 511.2L839.4 507.2L837.5 503.2L835.9 498.9L834.6 494.2L833.9 490.2L833.6 486.2L833.6 482.2L834 478.2L834.9 474.2L836.1 470.2L837.8 466.2L839.9 462.5L842.2 459.2L844.8 456.2L847.9 453.2L850.9 450.9L853.9 449L857.9 446.9L861.9 445.4ZM772.8 587.2L773.1 586.2L773.7 585.2L774.9 583.8L776.9 582.2L780.4 580.2L783.9 578.7L787.9 577.2L792.9 575.7L798.9 574.1L811.9 571.5L828.9 569L847.9 567L864.9 565.7L885.9 564.9L915.9 564.6L946.9 564.6L968.9 565.1L984.9 566.1L999.9 567.6L1012.9 569.8L1017.9 570.9L1022.9 572.3L1022.9 591.5L1017.3 593.2L1010.9 594.8L1002.9 596.4L994.9 597.8L976.9 600L953.9 601.8L938.9 602.6L922.9 603.2L872.9 604.2L845.9 603.9L833.9 603.4L822.9 602.7L811.9 601.6L801.9 600.2L792.9 598.4L785.9 596.6L779.9 594.3L776.2 592.2L774.9 591.2L773.2 589.2L772.9 588.2Z"/><path fill="#00ffb7" d="M875.9 445.1L880.9 445.5L885.9 446.3L890.9 447.6L895.2 449.2L899.9 451.5L903.9 453.9L907.9 456.9L911.4 460.2L914 463.2L915.9 465.9L916.9 467.9L917.1 469.2L916.9 470.2L916.2 471.2L910.9 475.2L909 477.2L908.5 478.2L908.4 479.2L908.7 480.2L909.9 481.9L911.5 483.2L918.5 487.2L919.8 488.2L920.6 489.2L920.9 490.2L921 491.2L920.4 494.2L918.9 498.2L917.3 501.2L914.9 505L912.3 508.2L909.4 511.2L905.9 514.2L902.9 516.4L898.9 518.9L894.9 520.9L890.9 522.6L886.9 523.8L882.9 524.8L877.9 525.6L873.9 525.8L869.9 525.8L865.9 525.3L862.9 524.6L858.9 523.3L855.9 521.9L852.9 520.1L849.9 517.8L847.2 515.2L844.9 512.4L842.7 509.2L840.4 505.2L838.6 501.2L837.2 497.2L836.2 493.2L835.5 489.2L835.3 485.2L835.4 481.2L835.9 477.5L836.6 474.2L837.9 470.3L839.2 467.2L840.9 464.2L842.9 461.1L845.3 458.2L848.2 455.2L850.9 453L853.9 450.9L857 449.2L860.9 447.5L863.9 446.5L867.9 445.6L871.9 445.2ZM1022.9 573.2L1022.9 590.6L1016.9 592.6L1009.9 594.4L1002.9 595.9L993.9 597.4L983.9 598.8L973.9 599.8L950.9 601.6L919.9 602.8L871.9 603.7L845.9 603.5L833.9 603L823.9 602.3L813.9 601.3L803.9 599.9L794.9 598.2L787.9 596.4L782 594.2L778.3 592.2L776.9 591.1L775.2 589.2L774.9 588.2L774.8 587.2L775.1 586.2L775.6 585.2L776.9 583.8L779 582.2L782.5 580.2L785.9 578.8L790.2 577.2L800.9 574.3L813.9 571.7L828.9 569.6L846.9 567.6L864.9 566.3L885.9 565.5L918.9 565.1L946.9 565.1L968.9 565.6L985.9 566.7L1000.9 568.4L1012.9 570.5L1017.9 571.7Z"/><path fill="#00ffa7" d="M869.9 447.1L874.9 446.8L879.9 447.1L884.9 447.8L889.9 449.1L894.9 451L898.9 453L902.9 455.5L906.9 458.6L909.7 461.2L912.3 464.2L914.3 467.2L914.9 469.2L914.8 470.2L914.2 471.2L913.3 472.2L909.7 475.2L908 477.2L907.6 478.2L907.5 479.2L907.8 480.2L908.3 481.2L909.9 482.8L916.6 487.2L917.8 488.2L918.4 489.2L918.7 490.2L918.7 492.2L917.8 495.2L916.5 498.2L914.9 501.3L913 504.2L910.5 507.2L907.9 509.9L904.9 512.6L901.9 514.8L898.9 516.8L895.9 518.4L891.9 520.2L888.9 521.3L884.9 522.5L880.9 523.3L876.9 523.8L872.9 524L869.9 523.9L865.9 523.4L862.9 522.7L859.9 521.6L856.9 520.2L853.9 518.4L850.9 516.1L848 513.2L845.6 510.2L843.6 507.2L841.4 503.2L839.9 499.7L838.7 496.2L837.7 492.2L837.1 488.2L837 484.2L837.1 481.2L837.7 477.2L838.4 474.2L839.8 470.2L841.2 467.2L842.9 464.2L845 461.2L847.6 458.2L849.9 456L852.9 453.7L855.9 451.7L858.9 450.2L862.9 448.6L865.9 447.8ZM776.7 587.2L777 586.2L777.6 585.2L778.9 583.8L781 582.2L784.6 580.2L787.9 578.8L792.5 577.2L802.9 574.4L815.9 571.9L830.9 569.8L849.9 567.8L866.9 566.7L888.9 565.9L923.9 565.5L949.9 565.6L969.9 566.2L986.9 567.3L1000.9 569L1006.9 569.9L1013.1 571.2L1017.9 572.4L1022.9 574L1022.9 589.8L1020.9 590.6L1014.9 592.5L1007.9 594.3L999.9 595.9L990.9 597.3L980.9 598.6L970.9 599.7L946.9 601.4L914.9 602.5L869.9 603.3L844.9 603L833.9 602.5L823.9 601.8L813.9 600.8L804.9 599.5L796.9 598L789.9 596.2L784.3 594.2L780.4 592.2L778.9 591.1L777.2 589.2L776.8 588.2Z"/><path fill="#00ff97" d="M866.9 449.3L869.9 448.8L872.9 448.6L875.9 448.6L879.9 448.8L882.9 449.2L886.9 450.1L890.5 451.2L893.9 452.5L896.9 454L899.9 455.7L902.9 457.8L905.9 460.2L907.9 462.2L910.5 465.2L911.9 467.2L912.6 469.2L912.6 470.2L912.3 471.2L911.5 472.2L907.6 476.2L906.6 478.2L906.6 479.2L906.8 480.2L907.3 481.2L908.1 482.2L909.9 483.7L914.8 487.2L915.8 488.2L916.3 489.2L916.6 491.2L916.2 493.2L915.1 496.2L913.7 499.2L911.2 503.2L908.8 506.2L905.9 509.2L901.9 512.5L897.9 515.2L892.9 517.8L888.9 519.4L883.9 520.9L879.9 521.6L875.9 522.1L871.9 522.2L868.9 521.9L864.9 521.2L861.9 520.3L858.9 519L855.9 517.4L852.9 515.2L850.7 513.2L848 510.2L845.9 507.4L843.9 504.1L842 500.2L840.8 497.2L839.7 493.2L839 489.2L838.7 485.2L838.9 481.2L839.3 478.2L840.2 474.2L841.2 471.2L842.6 468.2L844.3 465.2L846.4 462.2L848.9 459.3L851.2 457.2L853.9 455.1L856.9 453.2L859.9 451.6L863.7 450.2ZM778.6 587.2L778.9 586.2L779.5 585.2L780.9 583.7L782.9 582.2L786.7 580.2L790.9 578.5L794.8 577.2L804.9 574.6L818.9 572L833.9 569.9L852.9 568.1L868.9 567L890.9 566.3L928.9 565.9L952.9 566.1L971.9 566.7L987.9 567.9L1001.9 569.7L1007.9 570.8L1013.9 572.1L1018.9 573.5L1022.9 575L1022.9 588.9L1016.9 591.2L1010.9 592.9L1003.9 594.5L995.9 596.1L986.9 597.4L976.9 598.6L966.9 599.6L944.9 601.1L914.9 602.1L887.9 602.7L869.9 602.9L845.9 602.6L834.9 602.1L824.9 601.4L814.9 600.4L805.9 599.1L797.9 597.6L790.9 595.8L785.9 593.9L781.9 591.8L780 590.2L779.2 589.2L778.7 588.2Z"/><path fill="#00ff87" d="M864.9 451.7L867.9 450.9L870.9 450.5L873.9 450.3L877.9 450.4L881.9 450.9L884.9 451.5L890.9 453.3L893.9 454.5L897.1 456.2L900.3 458.2L902.9 460.2L905.9 462.9L907.9 465.2L909.4 467.2L910.3 469.2L910.5 470.2L910.3 471.2L909.7 472.2L906.5 476.2L905.6 478.2L905.6 479.2L905.8 480.2L906.3 481.2L907 482.2L908.9 483.9L912.9 487.2L913.7 488.2L914.2 489.2L914.4 490.2L914.2 492.2L912.8 496.2L910.9 499.9L908.6 503.2L906.1 506.2L902.9 509.2L899.9 511.6L895.9 514.1L892.9 515.7L888.9 517.4L885.9 518.4L881.9 519.4L877.9 520L873.9 520.3L869.9 520.1L866.9 519.7L863.9 518.9L860.9 517.8L857.9 516.3L854.9 514.2L852.5 512.2L849.9 509.5L847.9 507L845.9 503.9L844 500.2L842.7 497.2L841.8 494.2L840.9 490.2L840.5 486.2L840.5 483.2L840.9 479.2L841.5 476.2L842.7 472.2L844.1 469.2L845.7 466.2L847.9 463.2L849.9 460.9L852.7 458.2L855.9 455.8L858.7 454.2L861.9 452.7ZM780.5 587.2L780.8 586.2L781.3 585.2L782.2 584.2L784.9 582.2L787.9 580.6L791.1 579.2L795.9 577.6L805.9 574.9L818.9 572.5L833.9 570.4L851.9 568.6L869.9 567.4L892.9 566.7L930.9 566.4L953.9 566.6L972.9 567.3L988.9 568.5L1002.9 570.4L1008.9 571.6L1014.9 573.1L1018.9 574.3L1022.9 576L1022.9 587.9L1018.9 589.7L1013.9 591.4L1007.9 593.1L1000.9 594.6L992.9 596L983.9 597.3L973.9 598.5L963.9 599.4L940.9 600.8L909.9 601.9L868.9 602.5L844.9 602.1L834.9 601.7L824.9 601L814.9 599.9L805.9 598.6L798.9 597.2L791.9 595.3L786.5 593.2L783.1 591.2L781.9 590.2L781.1 589.2L780.6 588.2Z"/><path fill="#00ff78" d="M873.9 452.1L877.9 452.3L882.9 452.9L886.9 453.9L890.7 455.2L894.9 457.1L897.9 458.9L901 461.2L903.9 463.8L906.8 467.2L908 469.2L908.2 470.2L908.2 471.2L907.8 472.2L905.2 476.2L904.8 477.2L904.5 479.2L904.7 480.2L905.9 482.3L911 487.2L911.7 488.2L912.1 489.2L912.2 490.2L911.9 492.2L910.9 495.2L909.4 498.2L907.9 500.6L906 503.2L903.9 505.5L901 508.2L898.4 510.2L895.9 511.9L892.9 513.5L889.2 515.2L885.9 516.4L879.9 517.8L876 518.2L872.9 518.3L869.9 518.1L866.9 517.6L863.9 516.8L860.9 515.5L858.4 514.2L855.9 512.5L853.3 510.2L851.3 508.2L849.7 506.2L847.7 503.2L846 500.2L844.7 497.2L843.7 494.2L842.9 491L842.4 487.2L842.3 484.2L842.5 481.2L842.9 478.2L843.6 475.2L844.9 471.7L846.1 469.2L847.9 466.2L849.9 463.6L851.9 461.4L854.4 459.2L856.9 457.4L858.9 456.2L861.9 454.7L864.9 453.6L867.9 452.8L870.9 452.3ZM782.4 587.2L782.6 586.2L783.2 585.2L784.1 584.2L786.8 582.2L789.9 580.6L793.2 579.2L797.9 577.6L803 576.2L808.9 574.8L821.9 572.5L836.9 570.5L854.9 568.8L872.9 567.8L896.9 567.1L933.9 566.8L955.9 567L973.9 567.8L989.9 569.1L996.9 570L1003.9 571.2L1009.9 572.5L1014.9 573.8L1018.9 575.2L1022.9 577.1L1022.9 586.8L1020.3 588.2L1016.9 589.6L1008.9 592.2L1002.9 593.6L995.9 595L987.9 596.3L978.9 597.5L958.9 599.4L936.9 600.6L898.9 601.7L867.9 602.1L844.9 601.7L825.9 600.6L816.9 599.7L807.9 598.4L800.9 597L793.9 595.2L788.6 593.2L785 591.2L783.8 590.2L783 589.2L782.5 588.2Z"/><path fill="#00ff68" d="M871.9 454.1L875.9 454L879.9 454.4L883.9 455.1L887.9 456.2L891.9 457.8L894.9 459.4L897.9 461.4L901.4 464.2L903.3 466.2L904.9 468.2L905.4 469.2L905.9 470.7L905.8 472.2L903.5 477.2L903.3 479.2L903.5 480.2L904.6 482.2L909.1 487.2L909.6 488.2L909.8 489.2L909.8 491.2L909.2 493.2L908 496.2L906.9 498.2L904.9 501.1L903.2 503.2L901.3 505.2L898.9 507.3L893.9 510.7L890.9 512.3L887.9 513.6L881.9 515.3L875.9 516.2L872.9 516.2L869.9 516L864.9 514.9L861.9 513.7L859.9 512.6L857.7 511.2L854.9 509L852.9 506.9L850.7 504.2L848.7 501.2L847.2 498.2L846 495.2L845.1 492.2L844.5 489.2L844.2 486.2L844.2 483.2L844.5 480.2L845 477.2L845.9 474.2L846.9 471.8L848.2 469.2L849.9 466.6L851.8 464.2L853.8 462.2L855.9 460.4L857.9 459L860.9 457.2L865.9 455.3L868.9 454.5ZM784.2 587.2L784.4 586.2L785 585.2L785.9 584.2L788.7 582.2L791.9 580.6L795.2 579.2L799.9 577.7L810.9 575L824.9 572.5L840.9 570.5L858.9 569L876.9 568L904.9 567.4L938.9 567.2L959.9 567.6L976.9 568.4L992.9 570L999.9 571.1L1005.9 572.2L1011.9 573.7L1016.6 575.2L1020.9 577.2L1022.9 578.5L1022.9 585.5L1021.9 586.2L1018.3 588.2L1014.9 589.6L1010.1 591.2L1003.9 592.8L997.6 594.2L989.9 595.6L972.9 597.8L952.9 599.4L929.9 600.5L889.9 601.5L864.9 601.7L843.9 601.3L833.9 600.8L824.9 600.1L816.9 599.2L808.9 598L801.9 596.7L795.9 595.1L790.7 593.2L787 591.2L785.8 590.2L784.9 589.2L784.3 588.2Z"/><path fill="#00ff58" d="M870.9 456.2L874.9 456L878.7 456.2L881.9 456.7L885.9 457.7L889.9 459.1L892.9 460.6L895.9 462.5L899.3 465.2L901.9 468L903.3 470.2L903.7 472.2L903.5 473.2L902.1 477.2L902 479.2L902.2 480.2L903.2 482.2L907 487.2L907.5 489.2L907.3 491.2L906.9 492.7L905.9 495.2L904.8 497.2L901.9 501.3L898.1 505.2L893.9 508.2L888.9 510.9L883.9 512.7L878.9 513.7L875.9 514L872.9 514.1L867.9 513.5L864.9 512.6L862.9 511.8L860 510.2L857.9 508.7L855.9 507L853.3 504.2L851.7 502.2L849.9 499.2L847.7 494.2L846.9 491.2L846.3 488.2L846.1 485.2L846.2 482.2L847.1 477.2L847.9 474.6L848.9 472.2L850.5 469.2L851.9 467.2L853.6 465.2L855.6 463.2L857.9 461.4L859.9 460L861.9 458.9L864.9 457.7L867.9 456.8ZM786 587.2L786.2 586.2L786.8 585.2L787.7 584.2L790.5 582.2L793.9 580.5L797.3 579.2L802.9 577.4L813.9 574.9L827.9 572.5L844.9 570.6L863.9 569.1L882.9 568.3L916.9 567.7L943.9 567.7L963.9 568.1L981.9 569.3L989.9 570.1L997.5 571.2L1003.9 572.4L1009.9 573.8L1014.3 575.2L1018.9 577.2L1021.8 579.2L1022.9 580.6L1022.9 583.4L1022.4 584.2L1020 586.2L1016.3 588.2L1011.9 589.9L1007.9 591.2L1001.9 592.8L995 594.2L979.9 596.5L961.9 598.4L941.9 599.6L917.9 600.5L882.9 601.3L860.9 601.3L840.9 600.8L823.9 599.5L815.9 598.6L807.9 597.3L801.9 596L795.9 594.3L792.8 593.2L789 591.2L787.7 590.2L786.7 589.2L786.2 588.2Z"/><path fill="#00ff48" d="M871.9 458.2L874.9 458.1L878.9 458.3L882.9 459L885.9 459.9L888.9 461L891.9 462.6L894.5 464.2L897 466.2L899.9 469.2L901 471.2L901.3 473.2L900.5 477.2L900.5 479.2L900.7 480.2L901.6 482.2L904.3 486.2L905 488.2L905.1 489.2L904.8 491.2L904.1 493.2L902.9 495.8L901.4 498.2L899.9 500.1L896.9 503.2L892.9 506.2L887.9 508.9L882.9 510.7L877.9 511.6L872.9 511.8L869.9 511.5L867.9 511.1L865.1 510.2L862.9 509.2L860.9 508.1L858.3 506.2L854.9 502.8L853 500.2L851.7 498.2L850.7 496.2L849.6 493.2L848.8 490.2L848.3 487.2L848.3 482.2L849.2 477.2L849.9 475.1L851.2 472.2L853.9 468.1L855.5 466.2L857.6 464.2L859.9 462.5L861.9 461.3L864.2 460.2L866.9 459.2ZM1021.5 582.2L1021.2 583.2L1020.5 584.2L1018.9 585.6L1016.4 587.2L1011.9 589.2L1005.9 591.1L999.9 592.7L992.9 594.1L984.9 595.4L967.9 597.4L949.9 598.8L927.9 599.8L897.9 600.6L872.9 601L852.9 600.8L834.9 600L819.9 598.6L812.9 597.6L806.9 596.6L801.1 595.2L796.9 593.9L792.7 592.2L789.9 590.5L788.6 589.2L788 588.2L787.8 587.2L788 586.2L788.6 585.2L789.9 583.9L792.4 582.2L796.6 580.2L800.9 578.7L806 577.2L817.9 574.6L832.9 572.3L850.9 570.4L868.9 569.2L889.9 568.5L923.9 568L947.9 568.1L967.9 568.8L984.9 570.1L992.9 571L1000 572.2L1006.9 573.7L1012 575.2L1015.9 576.8L1018.5 578.2L1019.8 579.2L1020.8 580.2L1021.3 581.2Z"/><path fill="#00ff38" d="M863.9 462.8L867.9 461.3L871.9 460.5L876.9 460.4L881.9 461.1L886.9 462.7L890.9 464.7L894.5 467.2L897.4 470.2L898.1 471.2L898.8 473.2L898.7 478.2L899.1 480.2L899.9 482.2L902 486.2L902.5 488.2L902.3 490.2L901.7 492.2L900.9 494.1L898.9 497.3L895.9 500.8L891.9 504L889.9 505.3L886.9 506.8L881.9 508.5L878.9 509.1L875.9 509.4L870.9 509.2L867.9 508.6L865.9 507.9L861.9 505.9L859.9 504.4L857.9 502.6L854.9 499L853.3 496.2L852.3 494.2L851.6 492.2L850.9 489.2L850.4 484.2L850.7 481.2L851 479.2L851.9 476.2L852.9 473.8L854.4 471.2L855.9 469.2L857.7 467.2L859.9 465.3ZM789.6 587.2L789.8 586.2L790.4 585.2L791.3 584.2L794.2 582.2L797.9 580.5L801.3 579.2L806.9 577.5L812.4 576.2L818.9 574.9L833.9 572.6L851.9 570.8L869.9 569.6L889.9 568.9L922.9 568.4L946.9 568.5L965.9 569.1L982.9 570.3L990.9 571.3L997.9 572.4L1003.9 573.6L1009.7 575.2L1012.9 576.4L1016.5 578.2L1017.9 579.2L1018.9 580.2L1019.4 581.2L1019.6 582.2L1019.3 583.2L1018.7 584.2L1016.9 585.7L1014.5 587.2L1009.9 589.2L1004.9 590.8L998.9 592.3L991.9 593.8L983.9 595.1L967.9 597L948.9 598.5L926.9 599.5L897.9 600.3L872.9 600.6L853.9 600.4L835.9 599.7L820.9 598.3L813.9 597.3L807.8 596.2L802.9 595L797.9 593.5L794.7 592.2L791.4 590.2L790.4 589.2L789.9 588.4Z"/><path fill="#00ff28" d="M867.9 463.9L871.9 463L875.9 462.9L879.9 463.3L883.9 464.3L887.9 466L891.5 468.2L893.9 470.3L894.9 471.5L895.9 473.2L896.4 475.2L896.6 478.2L897.1 480.2L899.1 485.2L899.7 487.2L899.6 489.2L899 491.2L898.2 493.2L897 495.2L895.5 497.2L893.9 499L891.9 500.8L889.9 502.2L885.9 504.4L881.9 505.8L876.9 506.7L871.9 506.7L867.9 505.8L863.9 504L861.9 502.7L860.1 501.2L858.2 499.2L856.9 497.4L854.9 493.9L853.9 491.2L853.4 489.2L852.9 485.2L853 482.2L853.3 480.2L854.5 476.2L856.7 472.2L858.3 470.2L859.9 468.5L861.9 466.9L863.9 465.6ZM791.3 587.2L791.5 586.2L792.1 585.2L793.1 584.2L796.1 582.2L798.9 580.9L803.3 579.2L807.9 577.9L813.9 576.4L819.9 575.2L834.9 572.9L852.9 571.1L870.9 569.9L889.9 569.3L922.9 568.8L945.9 568.9L965.9 569.5L981.9 570.7L988.9 571.5L995.9 572.6L1001.9 573.8L1007.4 575.2L1010.9 576.5L1014.5 578.2L1016 579.2L1017 580.2L1017.6 581.2L1017.8 582.2L1017.5 583.2L1016.8 584.2L1014.9 585.8L1012.6 587.2L1007.9 589.2L1002.9 590.8L997.2 592.2L983.9 594.7L968.9 596.5L950.9 598L930.9 599L902.9 599.8L876.9 600.2L856.9 600.1L838.9 599.4L823.9 598.2L816.9 597.3L810.6 596.2L804.9 594.9L799.9 593.4L796.7 592.2L793.3 590.2L791.6 588.2Z"/><path fill="#00ff18" d="M866.9 467.3L869.9 466.3L872.9 465.8L876.9 465.8L880.9 466.4L883.9 467.3L887.7 469.2L890.4 471.2L892.2 473.2L893.2 475.2L894.6 480.2L896 484.2L896.5 486.2L896.5 488.2L895.6 491.2L893.9 494.2L891.4 497.2L887.9 499.9L883.9 502L879.9 503.2L875.9 503.8L871.9 503.6L869.9 503.3L867.9 502.6L864.9 501.1L861.9 498.8L860.3 497.2L858.9 495.2L857.7 493.2L856.9 491.2L855.9 487.2L855.8 483.2L856.5 479.2L857.9 475.7L858.9 474L860.3 472.2L861.9 470.6L863.6 469.2ZM1016 582.2L1015.7 583.2L1015 584.2L1014 585.2L1010.7 587.2L1006.9 588.8L1002.7 590.2L996.9 591.7L990.9 593L983.9 594.2L968.9 596.1L950.9 597.6L929.9 598.7L903.9 599.4L877.9 599.9L857.9 599.8L840.9 599.2L825.9 598L818.9 597.1L812.9 596.1L806.9 594.8L801.9 593.4L798.8 592.2L795.2 590.2L793.9 589L793.4 588.2L793.1 587.2L793.3 586.2L793.9 585.2L794.9 584.2L796.9 582.8L800 581.2L803.9 579.7L808.8 578.2L814.9 576.7L821.9 575.3L836.9 573.1L852.9 571.5L869.9 570.4L889.9 569.7L922.9 569.2L945.9 569.3L964.9 569.8L980.9 571L987.9 571.8L994.9 572.9L1001.2 574.2L1005.9 575.5L1010.6 577.2L1012.9 578.4L1015.1 580.2L1015.7 581.2Z"/><path fill="#00ff08" d="M871.9 469.4L874.9 469.1L878.9 469.5L882.9 470.7L885.8 472.2L888.2 474.2L889.6 476.2L890.9 479L892 482.2L892.7 485.2L892.7 487.2L891.9 490L890.7 492.2L889.2 494.2L886.9 496.3L883.9 498.1L880.9 499.3L876.9 500.1L873.9 500.2L870.9 499.8L867.9 498.7L865.4 497.2L862.9 494.8L861.1 492.2L859.9 489.2L859.4 487.2L859.2 485.2L859.3 482.2L860.1 479.2L861.6 476.2L863.9 473.4L865.9 471.8L868.9 470.2ZM794.9 587.2L795 586.2L795.6 585.2L796.6 584.2L798.9 582.7L801.8 581.2L805.9 579.7L810.9 578.2L816.9 576.8L822.9 575.6L836.9 573.5L852.9 571.9L869.9 570.8L889.9 570.1L920.9 569.6L943.9 569.6L962.9 570.1L978.9 571.3L986.9 572.2L993.5 573.2L999.9 574.5L1004.9 575.9L1008.5 577.2L1012.1 579.2L1013.2 580.2L1013.9 581.2L1014.1 582.2L1013.9 583.2L1013.2 584.2L1012.1 585.2L1008.8 587.2L1005.9 588.4L1000.9 590.1L996.9 591.2L989.9 592.7L982.9 593.9L967.9 595.8L950.9 597.3L930.9 598.3L907.9 599L880.9 599.5L860.9 599.5L842.9 598.9L827.9 597.7L820.9 596.9L813.9 595.8L807.9 594.5L803.5 593.2L799.9 591.8L797.1 590.2L795.9 589.2L795.1 588.2Z"/><path fill="#08ff00" d="M868.9 475.7L870.9 474.7L872.9 474.1L874.9 473.9L876.9 474L878.9 474.4L880.9 475.1L882.8 476.2L884 477.2L884.9 478.2L886.2 480.2L887 482.2L887.4 484.2L887.4 486.2L886.9 488.2L885.9 490.1L884.9 491.3L882.9 493L880.9 494.1L877.9 495.1L875.9 495.3L872.9 495.2L870.9 494.6L868.9 493.6L867.2 492.2L865.7 490.2L864.7 488.2L864.1 485.2L864.2 483.2L864.6 481.2L865.5 479.2L867 477.2ZM796.6 587.2L796.8 586.2L797.4 585.2L798.4 584.2L800.9 582.6L803.7 581.2L807.9 579.7L813 578.2L823.9 575.9L837.9 573.8L853.9 572.2L870.9 571.1L889.9 570.4L921.9 569.9L943.9 570L962.9 570.5L977.9 571.6L984.9 572.4L991.9 573.4L997.9 574.6L1002.9 576L1006.3 577.2L1010.1 579.2L1011.3 580.2L1011.9 581L1012.3 582.2L1012.1 583.2L1011.4 584.2L1010.3 585.2L1007.9 586.7L1004.6 588.2L999.9 589.8L994.6 591.2L988.9 592.4L981.9 593.6L967.9 595.5L950.9 596.9L931.9 597.9L907.9 598.6L880.9 599.2L860.9 599.1L843.9 598.6L828.9 597.4L821.9 596.6L815.9 595.6L809.9 594.4L805.7 593.2L801.9 591.8L798.9 590.2L797.7 589.2L796.9 588.2Z"/><path fill="#18ff00" d="M798.4 587.2L798.5 586.2L799.1 585.2L800.1 584.2L802.9 582.5L805.6 581.2L808.9 580L813.9 578.5L824.7 576.2L837.9 574.2L853.9 572.6L870.9 571.5L889.9 570.8L919.9 570.3L941.9 570.3L959.9 570.8L975.9 571.9L982.9 572.6L989.9 573.6L995.9 574.8L1001.3 576.2L1004.9 577.5L1008.2 579.2L1009.9 580.8L1010.5 582.2L1010.3 583.2L1009.6 584.2L1008.5 585.2L1005.9 586.8L1002.6 588.2L997.9 589.8L992.9 591.1L980.9 593.4L966.9 595.2L950.9 596.6L931.9 597.6L908.9 598.3L881.9 598.8L862.9 598.8L845.9 598.3L830.8 597.2L817.9 595.5L811.9 594.3L807.9 593.2L803.9 591.8L800.8 590.2L799.5 589.2L798.9 588.4Z"/><path fill="#28ff00" d="M800.1 587.2L800.3 586.2L800.9 585.2L801.9 584.2L804.9 582.4L807.5 581.2L810.9 580L815.9 578.6L825.9 576.4L838.9 574.5L854.9 572.9L870.9 571.8L889.9 571.2L919.9 570.7L941.9 570.7L959.9 571.2L974.9 572.2L982.9 573.1L988.9 574L994.9 575.1L999 576.2L1002.9 577.6L1006.2 579.2L1007.9 580.7L1008.3 581.2L1008.7 582.2L1008.5 583.2L1007.8 584.2L1006.7 585.2L1003.9 586.8L1000.7 588.2L995.9 589.7L990.9 591L979.9 593.1L965.9 594.9L949.9 596.3L931.9 597.2L909.9 597.9L882.9 598.4L863.9 598.5L846.9 598L831.9 596.9L819.1 595.2L814.1 594.2L809.9 593.1L805.9 591.8L802.7 590.2L800.5 588.2Z"/><path fill="#38ff00" d="M1006.8 582.2L1006.7 583.2L1006 584.2L1004.8 585.2L1001.9 586.9L998.7 588.2L994.9 589.4L989.9 590.7L978.9 592.8L965.9 594.5L949.9 595.9L932.9 596.8L910.9 597.6L883.9 598.1L864.9 598.1L847.9 597.7L833.9 596.7L821.9 595.2L816.6 594.2L811.9 593L807.9 591.7L804.6 590.2L802.9 588.9L802.3 588.2L801.9 587.2L802 586.2L802.6 585.2L803.7 584.2L805.1 583.2L808.9 581.4L815.9 579.1L826.9 576.7L839.9 574.8L854.9 573.2L870.9 572.2L888.9 571.6L918.9 571L939.9 571L957.9 571.5L972.9 572.4L980.3 573.2L986.9 574.1L992.5 575.2L996.6 576.2L1000.9 577.6L1004.3 579.2L1005.9 580.5L1006.5 581.2Z"/><path fill="#48ff00" d="M803.7 587.2L803.8 586.2L804.4 585.2L805.9 583.9L808.9 582.2L812.9 580.6L817.7 579.2L827.9 577L839.9 575.2L854.9 573.6L870.9 572.6L888.9 571.9L918.9 571.4L939.9 571.4L956.9 571.8L971.9 572.8L984.1 574.2L989.8 575.2L994.9 576.4L998.9 577.7L1002.3 579.2L1003.9 580.4L1004.6 581.2L1005 582.2L1004.8 583.2L1004.1 584.2L1003 585.2L1001.4 586.2L997.9 587.7L993.6 589.2L989.8 590.2L978.9 592.4L965.9 594.1L950.9 595.5L932.9 596.5L911.9 597.2L884.9 597.7L865.9 597.8L848.9 597.3L834.9 596.4L822.9 594.8L817.9 593.9L812.9 592.7L808.6 591.2L806.6 590.2L804.9 589L804.1 588.2Z"/><path fill="#58ff00" d="M805.4 587.2L805.5 586.2L806.1 585.2L807.9 583.8L810.7 582.2L813.9 581L818.9 579.5L829.3 577.2L841.9 575.3L855.9 573.9L870.9 572.9L888.9 572.3L917.9 571.8L938.9 571.7L955.9 572.1L970.9 573.1L983.9 574.7L988.9 575.6L993.9 576.8L998.1 578.2L1000.2 579.2L1001.9 580.3L1002.7 581.2L1003.2 582.2L1003 583.2L1002.3 584.2L1001.1 585.2L999.5 586.2L996.9 587.4L992.9 588.8L987.9 590.1L977.2 592.2L964.9 593.8L949.9 595.2L932.9 596.2L912.9 596.8L885.9 597.4L867.9 597.5L851.9 597.1L837.6 596.2L824.9 594.7L819.9 593.8L814.9 592.6L810.7 591.2L808.5 590.2L806.9 589.2L805.9 588.2Z"/><path fill="#68ff00" d="M1001.3 582.2L1001.2 583.2L1000.5 584.2L999.3 585.2L997.9 586L995.4 587.2L991.9 588.4L986.9 589.8L975.9 592L963.9 593.6L948.9 594.9L932.9 595.8L912.9 596.5L886.9 597L868.9 597.1L852.9 596.8L838.9 595.9L831.9 595.2L825.9 594.4L819.9 593.2L815.9 592.2L812.8 591.2L810.5 590.2L808.8 589.2L807.8 588.2L807.2 587.2L807.3 586.2L807.9 585.2L809.9 583.6L812.6 582.2L815.9 581L820.9 579.5L830.9 577.4L842.9 575.6L855.9 574.3L870.9 573.3L887.9 572.7L916.9 572.1L936.9 572.1L953.9 572.4L968.9 573.3L976.9 574.2L982.9 575L988.9 576.1L992.9 577.2L996 578.2L998.2 579.2L999.9 580.3L1000.8 581.2Z"/><path fill="#78ff00" d="M809 587.2L809.1 586.2L809.7 585.2L811.9 583.5L814.5 582.2L820.9 580.1L830.9 577.8L841.9 576.1L855.9 574.7L870.9 573.6L887.9 573L915.9 572.5L935.9 572.4L952.9 572.8L966.9 573.6L973.9 574.3L980.9 575.2L986.5 576.2L990.6 577.2L993.7 578.2L996.1 579.2L997.9 580.3L998.9 581.2L999.4 582.2L999.3 583.2L998.6 584.2L997.4 585.2L995.9 586.1L993.4 587.2L986.9 589.3L981.9 590.4L975.9 591.5L963.7 593.2L949.9 594.5L933.9 595.4L913.9 596.1L886.9 596.7L868.9 596.8L852.9 596.4L839.9 595.6L827.9 594.2L822.3 593.2L818.1 592.2L814.9 591.2L812.5 590.2L810.8 589.2L809.6 588.2Z"/><path fill="#87ff00" d="M810.9 587.2L810.9 586.2L811.5 585.2L812.6 584.2L813.9 583.4L816.4 582.2L822.5 580.2L831.9 578.1L843.9 576.3L856.9 574.9L870.9 574L887.9 573.4L915.9 572.8L934.9 572.8L951.9 573.1L965.9 573.9L977.9 575.2L983.7 576.2L988.1 577.2L991.5 578.2L994 579.2L995.9 580.3L996.9 581.2L997.5 582.2L997.4 583.2L996.7 584.2L994.9 585.5L991.4 587.2L984.9 589.2L974.9 591.2L962.9 592.9L948.9 594.2L932.9 595.1L914.9 595.8L887.9 596.4L870.9 596.5L855.9 596.2L841.9 595.4L830.9 594.2L825 593.2L820.5 592.2L817.1 591.2L814.5 590.2L812.7 589.2L811.9 588.5Z"/><path fill="#97ff00" d="M995.6 582.2L995.5 583.2L994.8 584.2L992.9 585.6L989.4 587.2L982.6 589.2L972.5 591.2L960.9 592.7L947.9 593.9L932.9 594.8L914.9 595.4L888.9 596L871.9 596.1L856.9 595.8L843.9 595.1L832.9 594L827.8 593.2L822.9 592.2L819.3 591.2L816.6 590.2L814.7 589.2L813.4 588.2L812.7 587.2L812.7 586.2L813.3 585.2L814.5 584.2L815.9 583.4L818.4 582.2L824.6 580.2L833.9 578.2L844.9 576.6L857.9 575.2L871.9 574.3L887.9 573.7L914.9 573.2L933.9 573.1L949.9 573.4L964.3 574.2L975.9 575.4L980.8 576.2L985.6 577.2L989.2 578.2L991.8 579.2L993.9 580.3L995 581.2Z"/><path fill="#a7ff00" d="M814.6 586.2L815.2 585.2L816.4 584.2L818.1 583.2L821.9 581.7L829.9 579.5L838.9 577.8L850.9 576.3L862.9 575.2L876.9 574.4L892.9 573.9L917.9 573.5L935.9 573.5L950.9 573.8L963.9 574.6L975.9 575.9L984.9 577.7L989.6 579.2L991.6 580.2L993 581.2L993.6 582.2L993.6 583.2L992.9 584.2L990.9 585.6L987.3 587.2L980.3 589.2L969.6 591.2L956.9 592.8L942.9 593.9L925.9 594.7L904.9 595.3L881.9 595.8L865.9 595.7L850.9 595.2L838.9 594.3L828.9 592.9L825.5 592.2L820.9 591L816.9 589.3L815.3 588.2L814.6 587.2Z"/><path fill="#b7ff00" d="M816.5 586.2L817.1 585.2L818.3 584.2L820 583.2L822.4 582.2L829.1 580.2L839.3 578.2L849.9 576.8L862.9 575.6L876.9 574.8L892.9 574.3L917.9 573.9L934.9 573.8L949.9 574.2L962.9 574.9L974.4 576.2L980.2 577.2L983.9 578.1L987.3 579.2L989.5 580.2L990.9 581.2L991.6 582.2L991.6 583.2L991 584.2L988.9 585.6L985.2 587.2L977.9 589.2L966.9 591.2L954.9 592.6L940.9 593.7L925.9 594.4L905.9 595L883.9 595.4L867.9 595.4L853.9 595L841.9 594.1L831.9 592.9L823.9 591.2L820.9 590.2L818.7 589.2L817.3 588.2L816.5 587.2Z"/><path fill="#c7ff00" d="M989.7 583.2L989 584.2L987.6 585.2L985.9 586.1L983 587.2L979.9 588.1L970.2 590.2L960.9 591.5L947.9 592.8L932.9 593.8L915.9 594.4L890.9 595L874.9 595.1L860.9 594.9L847.9 594.2L837.9 593.3L829.9 592L826.5 591.2L823.2 590.2L820.9 589.2L819.3 588.2L818.5 587.2L818.4 586.2L819 585.2L820.2 584.2L821.9 583.3L824.4 582.2L827.5 581.2L836.2 579.2L845.9 577.7L858.9 576.3L871.9 575.4L886.9 574.8L906.9 574.4L925.9 574.2L941.9 574.3L955.9 574.8L966.9 575.7L977.2 577.2L981.7 578.2L984.9 579.2L987.3 580.2L988.8 581.2L989.6 582.2Z"/><path fill="#d7ff00" d="M820.3 586.2L820.9 585.2L822.2 584.2L824 583.2L826.9 582.1L833.9 580.2L838.8 579.2L845.9 578.1L857.9 576.8L870.9 575.8L885.9 575.2L905.9 574.7L925.9 574.5L940.9 574.6L954.9 575.2L965.9 576.1L974.9 577.3L979 578.2L982.6 579.2L985 580.2L986.7 581.2L987.5 582.2L987.6 583.2L986.9 584.2L985.6 585.2L983.5 586.2L979.9 587.5L971.9 589.4L959.9 591.2L947.9 592.4L932.9 593.4L915.9 594.1L891.9 594.6L875.9 594.8L862.9 594.6L851.9 594.1L840.9 593.2L832.9 592L829.1 591.2L825.5 590.2L823 589.2L821.4 588.2L820.5 587.2Z"/><path fill="#e7ff00" d="M822.3 586.2L822.9 585.2L824.2 584.2L826.1 583.2L828.9 582.1L836.3 580.2L847.9 578.3L857.9 577.1L870.9 576.2L884.9 575.6L903.9 575.1L923.9 574.9L938.9 575L950.9 575.4L962.6 576.2L971.9 577.4L976.2 578.2L980 579.2L982.7 580.2L984.5 581.2L985.4 582.2L985.5 583.2L984.9 584.2L983.5 585.2L981.4 586.2L977.9 587.4L969.9 589.3L956.9 591.2L945.9 592.2L930.9 593.1L915.9 593.7L892.9 594.2L876.9 594.4L863.9 594.2L852.9 593.8L842.9 592.9L834.9 591.8L828 590.2L825.3 589.2L823.5 588.2L822.5 587.2Z"/><path fill="#f7ff00" d="M824.4 586.2L824.9 585.2L826.2 584.2L828.2 583.2L830.9 582.2L838.9 580.2L848.9 578.6L859.9 577.4L871.9 576.5L884.9 575.9L902.9 575.5L921.9 575.2L936.9 575.3L949.9 575.7L960.9 576.5L969.9 577.6L977.4 579.2L980.3 580.2L982.2 581.2L983.2 582.2L983.4 583.2L982.7 584.2L981.3 585.2L979.2 586.2L976.2 587.2L967.5 589.2L956.9 590.8L944.9 591.9L930.9 592.8L915.9 593.4L892.9 593.9L877.9 594L864.9 593.9L852.9 593.4L843.9 592.6L834.9 591.2L829.9 590L827.6 589.2L825.7 588.2L824.6 587.2Z"/><path fill="#fff700" d="M826.5 586.2L827 585.2L828.4 584.2L830.4 583.2L833.2 582.2L839.9 580.5L847.9 579.2L857.9 578L869.9 577L883.9 576.3L899.9 575.9L919.9 575.6L934.9 575.7L947.9 576L958.9 576.8L967.9 577.9L974.6 579.2L977.8 580.2L979.8 581.2L981 582.2L981.2 583.2L980.5 584.2L979.1 585.2L976.9 586.2L973.8 587.2L969.8 588.2L964.9 589.2L956.9 590.3L945.9 591.4L932.9 592.3L916.9 593L894.9 593.5L878.9 593.7L865.9 593.5L854.9 593.1L844.9 592.2L837.8 591.2L833.1 590.2L830.9 589.5L827.9 588.2L826.7 587.2Z"/><path fill="#ffe700" d="M979 583.2L978.3 584.2L976.8 585.2L974.5 586.2L971.3 587.2L962.9 589L954.3 590.2L943.9 591.2L929.9 592.1L894.9 593.1L879.9 593.3L867.9 593.2L856.9 592.8L847.9 592.1L839.9 591L836 590.2L832.9 589.3L830.2 588.2L829 587.2L828.6 586.2L829.2 585.2L830.5 584.2L832.7 583.2L835.6 582.2L842.9 580.5L850.9 579.2L860.9 578.1L872.9 577.2L884.9 576.7L899.9 576.3L919.9 576L934.9 576L946.9 576.4L957.9 577.1L966.5 578.2L972.9 579.5L975.1 580.2L977.4 581.2L978.6 582.2Z"/><path fill="#ffd700" d="M830.8 586.2L831.4 585.2L832.8 584.2L836.9 582.6L842.1 581.2L850.9 579.7L860.9 578.5L870.9 577.7L882.9 577.1L897.9 576.7L916.9 576.4L930.9 576.4L942.9 576.7L953.9 577.3L962.9 578.2L968.5 579.2L970.9 579.8L974.8 581.2L976.2 582.2L976.6 583.2L976 584.2L974.4 585.2L972 586.2L968.7 587.2L961.9 588.6L952.9 589.9L941.9 591L929.9 591.7L916.9 592.2L896.9 592.7L881.9 592.9L869.9 592.9L858.9 592.5L849.9 591.8L841.9 590.7L839 590.2L835.2 589.2L832.7 588.2L831.3 587.2Z"/><path fill="#ffc700" d="M833.2 586.2L833.9 585.1L835.1 584.2L837.4 583.2L843.9 581.4L850.9 580.2L858.9 579.1L869.9 578.2L881.9 577.6L895.9 577.2L915.9 576.8L929.9 576.8L941.9 577L951.9 577.6L961.9 578.7L968.9 580.1L972.2 581.2L973.7 582.2L974.2 583.2L973.5 584.2L972 585.2L968.9 586.4L965.9 587.2L961.2 588.2L952.9 589.4L943.9 590.4L931.9 591.2L917.9 591.8L898.9 592.3L883.9 592.5L871.9 592.5L861.9 592.2L851.9 591.5L843.9 590.5L838 589.2L834.9 588L833.7 587.2Z"/><path fill="#ffb700" d="M971.6 583.2L970.9 584.3L969.4 585.2L966.7 586.2L963 587.2L958.9 588L951 589.2L941 590.2L928.9 591L898.9 591.9L883.9 592.2L872.9 592.1L862.9 591.8L853.9 591.2L845.8 590.2L841 589.2L837.9 588.2L836.2 587.2L835.6 586.2L836.1 585.2L837.6 584.2L840 583.2L843.4 582.2L846.9 581.4L854.1 580.2L862.8 579.2L872.9 578.4L895.9 577.6L915.9 577.2L928.9 577.2L940.9 577.4L950.9 578L959.9 579L966.3 580.2L969.9 581.5L971 582.2Z"/><path fill="#ffa700" d="M838.1 586.2L838.6 585.2L840.2 584.2L842.7 583.2L846.9 582.1L854.9 580.6L861.9 579.8L870.9 579L881.9 578.4L893.9 578L925.9 577.6L936.9 577.8L946.9 578.2L956.9 579.2L962.8 580.2L966.9 581.5L968.2 582.2L968.9 583.2L968.4 584.2L966.7 585.2L963.9 586.2L958.9 587.4L950.9 588.7L942.9 589.6L932.9 590.3L919.9 591L905.9 591.4L877.9 591.7L867.9 591.6L858.9 591.1L849.9 590.2L844.3 589.2L840.8 588.2L838.9 587.2Z"/><path fill="#ff9700" d="M966.1 583.2L965.5 584.2L963.8 585.2L960.9 586.2L956.6 587.2L949.9 588.3L941.9 589.2L930.9 590L905.9 590.9L878.9 591.3L868.9 591.1L859.9 590.7L853.9 590.1L846.9 589L843.9 588.2L841.7 587.2L840.8 586.2L841.3 585.2L842.9 584.2L845.5 583.2L849.4 582.2L854.9 581.2L862.4 580.2L872.9 579.3L894.9 578.4L925.9 578L936.6 578.2L945.9 578.7L952.1 579.2L959 580.2L963 581.2L965.3 582.2Z"/><path fill="#ff8700" d="M843.7 586.2L844.1 585.2L845.7 584.2L848.6 583.2L852.7 582.2L858.7 581.2L867.5 580.2L873.9 579.7L892.9 578.9L922.9 578.5L933.9 578.6L942.9 579L950.9 579.7L956.9 580.6L959.4 581.2L961.9 582.1L963 583.2L962.6 584.2L960.7 585.2L957.6 586.2L953 587.2L946.3 588.2L930.9 589.5L909.9 590.4L881.9 590.9L871.9 590.8L862.9 590.4L855.9 589.7L849.9 588.8L847.3 588.2L844.9 587.3Z"/><path fill="#ff7800" d="M846.8 586.2L847.2 585.2L848.8 584.2L851.9 583.2L856.4 582.2L864.9 581L873.9 580.2L892.9 579.4L920.9 578.9L938.9 579.3L948.9 580.1L955.4 581.2L958.5 582.2L959.8 583.2L959.3 584.2L957.4 585.2L954.1 586.2L945.9 587.6L939.9 588.3L928.9 589.2L908.9 590L882.9 590.4L872.9 590.3L865.9 590L856.9 589.2L851.9 588.4L848.1 587.2Z"/><path fill="#ff6800" d="M850.2 586.2L850.5 585.2L852.2 584.2L855.5 583.2L860.6 582.2L868.5 581.2L873.9 580.7L890.9 579.9L918.9 579.4L936.9 579.8L943 580.2L950.8 581.2L954.6 582.2L956.1 583.2L955.8 584.2L953.8 585.2L950.1 586.2L944.4 587.2L930.9 588.5L911.9 589.4L885.9 589.9L868.9 589.6L862.9 589.2L855.5 588.2L851.8 587.2Z"/><path fill="#ff5800" d="M854 586.2L854.1 585.2L856 584.2L859.6 583.2L865.5 582.2L875.9 581.2L891.9 580.4L915.9 580L932.9 580.2L945.1 581.2L950 582.2L952.1 583.2L951.9 584.2L949.7 585.2L945.7 586.2L939.9 587.1L927.7 588.2L911.9 588.9L888.9 589.4L872.9 589.2L866.9 588.8L860.8 588.2L856 587.2Z"/><path fill="#ff4800" d="M858.3 585.2L860.3 584.2L864.5 583.2L873.9 582L886.9 581.2L911.9 580.6L925.9 580.7L937.3 581.2L944.6 582.2L947.4 583.2L947.4 584.2L945.1 585.2L940.4 586.2L931.9 587.2L915.8 588.2L890.9 588.8L877.9 588.7L867.9 588.2L861.1 587.2L858.4 586.2Z"/><path fill="#ff3800" d="M863.2 585.2L865.5 584.2L870.5 583.2L879.9 582.2L891.9 581.7L910.9 581.3L923.9 581.3L934.9 581.9L937.3 582.2L941.6 583.2L942.1 584.2L939.5 585.2L933.9 586.2L924.9 587L912.9 587.6L891.9 588.1L879.9 588.1L867.8 587.2L863.7 586.2Z"/><path fill="#ff2800" d="M869.5 585.2L872.2 584.2L879.1 583.2L889.9 582.5L903.9 582.2L916.9 582.1L925.9 582.3L933.7 583.2L935.2 584.2L932.1 585.2L924.2 586.2L911.9 586.9L895.9 587.3L884.9 587.3L877.9 587.1L870.9 586.2Z"/><path fill="#ff1800" d="M924 584.2L919.8 585.2L910.9 585.7L897.7 586.2L886.9 586.2L882.9 585.8L879.5 585.2L883.2 584.2L892.9 583.6L903.9 583.3L915.9 583.3L919.9 583.6Z"/></g></g>
<text x="737.5" y="424.6" font-size="17.6" font-weight="bold" text-anchor="start" fill="#000">Co foil</text>
<text x="897" y="575.8" font-size="18.5" font-weight="bold" text-anchor="middle" fill="#000">Co-Co</text>
<rect x="729.9" y="397.2" width="293.1" height="244.3" fill="none" stroke="#000" stroke-width="3.4"/>
<g stroke="#000" stroke-width="3.3"><line x1="730.1" y1="641.5" x2="730.1" y2="647.8"/><line x1="770.9" y1="641.5" x2="770.9" y2="647.8"/><line x1="811.7" y1="641.5" x2="811.7" y2="647.8"/><line x1="852.5" y1="641.5" x2="852.5" y2="647.8"/><line x1="893.3" y1="641.5" x2="893.3" y2="647.8"/><line x1="934.1" y1="641.5" x2="934.1" y2="647.8"/><line x1="974.9" y1="641.5" x2="974.9" y2="647.8"/><line x1="1015.7" y1="641.5" x2="1015.7" y2="647.8"/></g>
<text x="730.1" y="666.9" font-size="19.5" font-weight="bold" text-anchor="middle" fill="#000">0</text>
<text x="770.9" y="666.9" font-size="19.5" font-weight="bold" text-anchor="middle" fill="#000">2</text>
<text x="811.7" y="666.9" font-size="19.5" font-weight="bold" text-anchor="middle" fill="#000">4</text>
<text x="852.5" y="666.9" font-size="19.5" font-weight="bold" text-anchor="middle" fill="#000">6</text>
<text x="893.3" y="666.9" font-size="19.5" font-weight="bold" text-anchor="middle" fill="#000">8</text>
<text x="934.1" y="666.9" font-size="19.5" font-weight="bold" text-anchor="middle" fill="#000">10</text>
<text x="974.9" y="666.9" font-size="19.5" font-weight="bold" text-anchor="middle" fill="#000">12</text>
<text x="1015.7" y="666.9" font-size="19.5" font-weight="bold" text-anchor="middle" fill="#000">14</text>
<g stroke="#000" stroke-width="3.2"><line x1="723.2" y1="641.3" x2="729.9" y2="641.3"/><line x1="723.2" y1="592.5" x2="729.9" y2="592.5"/><line x1="723.2" y1="543.7" x2="729.9" y2="543.7"/><line x1="723.2" y1="494.9" x2="729.9" y2="494.9"/><line x1="723.2" y1="446.1" x2="729.9" y2="446.1"/><line x1="723.2" y1="397.3" x2="729.9" y2="397.3"/></g>
<text x="719.4" y="646.5" font-size="19.5" font-weight="bold" text-anchor="end" fill="#000">1</text>
<text x="719.4" y="597.7" font-size="19.5" font-weight="bold" text-anchor="end" fill="#000">2</text>
<text x="719.4" y="548.9" font-size="19.5" font-weight="bold" text-anchor="end" fill="#000">3</text>
<text x="719.4" y="500.1" font-size="19.5" font-weight="bold" text-anchor="end" fill="#000">4</text>
<text x="719.4" y="451.3" font-size="19.5" font-weight="bold" text-anchor="end" fill="#000">5</text>
<text x="719.4" y="402.5" font-size="19.5" font-weight="bold" text-anchor="end" fill="#000">6</text>
<text x="890" y="694.2" font-size="21.6" font-weight="bold" text-anchor="middle"><tspan font-style="italic">k</tspan> (Å)</text>
<g stroke="#000" stroke-width="2.6"><line x1="726" y1="616.9" x2="729.9" y2="616.9"/><line x1="726" y1="568.1" x2="729.9" y2="568.1"/><line x1="726" y1="519.3" x2="729.9" y2="519.3"/><line x1="726" y1="470.5" x2="729.9" y2="470.5"/><line x1="726" y1="421.7" x2="729.9" y2="421.7"/></g>
<text x="701.3" y="566.6" font-size="21.5" font-weight="bold" text-anchor="start" fill="#000" transform="rotate(-90 701.3 566.6)">R+ΔR (Å)</text>
<text x="685.5" y="408.3" font-size="34" font-weight="bold" text-anchor="start" fill="#000">f</text>
</g>
</svg>
</body></html>
